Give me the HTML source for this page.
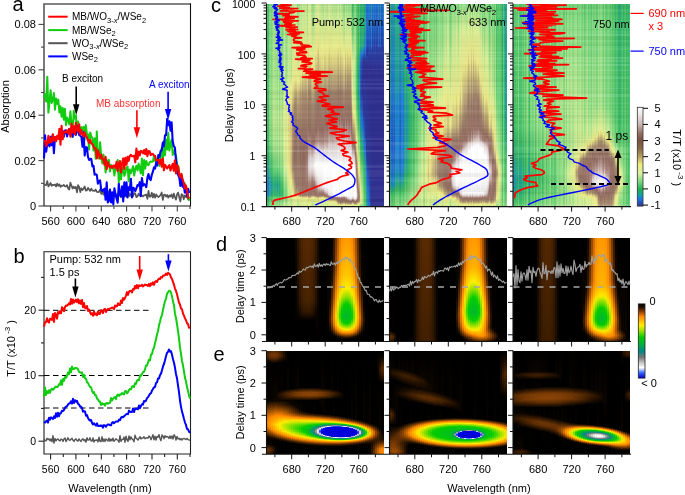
<!DOCTYPE html>
<html><head><meta charset="utf-8"><style>
html,body{margin:0;padding:0;background:#fff;}
#w{position:relative;width:685px;height:495px;overflow:hidden;background:#fff;}
#w i{position:absolute;display:block;}
svg{position:absolute;left:0;top:0;will-change:transform;}
text{font-family:"Liberation Sans",sans-serif;}
</style></head><body><div id="w">
<i style="left:267px;top:4px;width:1px;height:202px;background:linear-gradient(#58c66e 0,#50c36b 129.5px,#33b36a 152.5px,#20999f 170.5px,#207cd6 180.5px,#2083d2 190.5px,#2cac77 193.5px,#3fbb63 196.5px,#56c56d 201.5px)"></i>
<i style="left:268px;top:4px;width:1px;height:202px;background:linear-gradient(#49bf67 0,#47bf67 127.5px,#33b36a 146.5px,#209c9a 164.5px,#207ed7 173.5px,#206ecf 185.5px,#207bd6 191.5px,#23a38a 193.5px,#3bb961 198.5px,#45be66 201.5px)"></i>
<i style="left:269px;top:4px;width:1px;height:202px;background:linear-gradient(#7cd67e 0,#83d981 122.5px,#61ca72 149.5px,#34b468 168.5px,#209b9b 182.5px,#29a97f 191.5px,#44be66 193.5px,#78d47c 201.5px)"></i>
<i style="left:270px;top:4px;width:1px;height:202px;background:linear-gradient(#85d981 0,#96dd86 94.5px,#8ada83 136.5px,#34b467 170.5px,#20a090 182.5px,#2cac77 191.5px,#38b861 192.5px,#68cd75 196.5px,#7fd880 201.5px)"></i>
<i style="left:271px;top:4px;width:1px;height:202px;background:linear-gradient(#78d47c 0,#87da82 88.5px,#8ddb84 119.5px,#70d179 144.5px,#34b468 167.5px,#2097a4 178.5px,#208dbb 181.5px,#209c98 190.5px,#3ebb63 193.5px,#72d27a 201.5px)"></i>
<i style="left:272px;top:4px;width:1px;height:202px;background:linear-gradient(#88da82 0,#98de87 81.5px,#a6e18b 116.5px,#8ada83 142.5px,#43bd65 167.5px,#2dad76 174.5px,#209e95 182.5px,#2dad76 191.5px,#39b961 192.5px,#64cb73 195.5px,#83d981 201.5px)"></i>
<i style="left:273px;top:4px;width:1px;height:202px;background:linear-gradient(#a4e18a 0,#b6e58f 80.5px,#c6e994 116.5px,#ace38d 142.5px,#60ca72 167.5px,#35b567 177.5px,#2eae74 183.5px,#40bb63 191.5px,#78d57d 194.5px,#a3e08a 201.5px)"></i>
<i style="left:274px;top:4px;width:1px;height:202px;background:linear-gradient(#99de87 0,#ace28c 79.5px,#bee792 116.5px,#a6e18b 142.5px,#65cc74 165.5px,#35b565 175.5px,#28a880 182.5px,#38b860 191.5px,#72d27a 194.5px,#9cdf88 201.5px)"></i>
<i style="left:275px;top:4px;width:1px;height:202px;background:linear-gradient(#93dc85 0,#a7e18b 78.5px,#bce691 116.5px,#a3e08a 143.5px,#6ace76 164.5px,#34b468 175.5px,#26a684 182.5px,#37b762 191.5px,#71d179 194.5px,#9ade87 201.5px)"></i>
<i style="left:276px;top:4px;width:1px;height:202px;background:linear-gradient(#94dd86 0,#aae28c 78.5px,#c1e792 116.5px,#aae28c 143.5px,#76d47c 163.5px,#36b664 175.5px,#27a782 182.5px,#3ab961 191.5px,#75d37b 194.5px,#9fdf89 201.5px)"></i>
<i style="left:277px;top:4px;width:1px;height:202px;background:linear-gradient(#77d47c 0,#8ddb84 77.5px,#a6e18b 116.5px,#92dc85 143.5px,#63cb73 163.5px,#36b664 171.5px,#2098a2 179.5px,#2090b4 181.5px,#2cac77 191.5px,#3ab961 192.5px,#66cd75 195.5px,#86d982 201.5px)"></i>
<i style="left:278px;top:4px;width:1px;height:202px;background:linear-gradient(#9cdf88 0,#b6e58f 77.5px,#d0eb97 116.5px,#bce691 144.5px,#93dc85 162.5px,#36b665 178.5px,#31b16e 183.5px,#47bf67 191.5px,#84d981 194.5px,#b0e38e 201.5px)"></i>
<i style="left:279px;top:4px;width:1px;height:202px;background:linear-gradient(#6ccf77 0,#86d982 78.5px,#a1e089 117.5px,#8ddb84 145.5px,#66cc74 163.5px,#34b468 173.5px,#209d97 182.5px,#23a38b 190.5px,#36b664 192.5px,#62cb73 195.5px,#81d880 201.5px)"></i>
<i style="left:280px;top:4px;width:1px;height:202px;background:linear-gradient(#84d981 0,#a1e089 76.5px,#c1e792 116.5px,#aee38d 145.5px,#86da82 163.5px,#35b567 180.5px,#32b26d 190.5px,#38b860 191.5px,#77d47c 194.5px,#a1e089 201.5px)"></i>
<i style="left:281px;top:4px;width:1px;height:202px;background:linear-gradient(#84d981 0,#a2e08a 76.5px,#c4e893 116.5px,#b2e48e 146.5px,#8fdc84 163.5px,#39b860 184.5px,#3ab961 191.5px,#7ad57d 194.5px,#a5e18a 201.5px)"></i>
<i style="left:282px;top:4px;width:1px;height:202px;background:linear-gradient(#6ed078 0,#8bdb83 76.5px,#afe38d 116.5px,#9edf89 147.5px,#77d47c 165.5px,#35b566 183.5px,#2dad76 190.5px,#44bd65 192.5px,#6fd179 195.5px,#90dc85 201.5px)"></i>
<i style="left:283px;top:4px;width:1px;height:202px;background:linear-gradient(#8ddb84 0,#afe38e 76.5px,#d6ec97 113.5px,#c6e994 151.5px,#a5e18b 165.5px,#59c76f 186.5px,#59c76f 191.5px,#9bde88 196.5px,#b6e590 201.5px)"></i>
<i style="left:284px;top:4px;width:1px;height:202px;background:linear-gradient(#b1e48e 0,#d5ec97 76.5px,#ebee8b 132.5px,#d3ec98 167.5px,#87da82 187.5px,#87da82 191.5px,#cdea96 197.5px,#d9ec95 201.5px)"></i>
<i style="left:285px;top:4px;width:1px;height:202px;background:linear-gradient(#8cdb83 0,#aee38d 73.5px,#d9ec95 96.5px,#d4ec98 162.5px,#78d57d 185.5px,#73d27a 191.5px,#b7e590 200.5px,#bbe691 201.5px)"></i>
<i style="left:286px;top:4px;width:1px;height:202px;background:linear-gradient(#7ed77f 0,#9edf88 72.5px,#d6ec97 94.5px,#d5ec97 162.5px,#79d57d 186.5px,#7ad57d 192.5px,#abe28c 201.5px)"></i>
<i style="left:287px;top:4px;width:1px;height:202px;background:linear-gradient(#98de87 0,#b6e58f 71.5px,#e0ed91 87.5px,#edee8a 142.5px,#d9ec95 170.5px,#9edf89 192.5px,#c3e893 201.5px)"></i>
<i style="left:288px;top:4px;width:1px;height:202px;background:linear-gradient(#aee38d 0,#ceeb96 70.5px,#ede987 94.5px,#e1d885 123.5px,#ece887 164.5px,#c4e893 195.5px,#d5ec97 201.5px)"></i>
<i style="left:289px;top:4px;width:1px;height:202px;background:linear-gradient(#a4e18a 0,#c8e994 70.5px,#efec88 92.5px,#e0d784 119.5px,#e8e386 164.5px,#e0ed91 178.5px,#bde791 195.5px,#cbea96 201.5px)"></i>
<i style="left:290px;top:4px;width:1px;height:202px;background:linear-gradient(#a4e08a 0,#cbea95 70.5px,#ede987 89.5px,#d6c982 115.5px,#d7ca82 163.5px,#ebee8b 177.5px,#caea95 192.5px,#c1e893 196.5px,#c9e995 201.5px)"></i>
<i style="left:291px;top:4px;width:1px;height:202px;background:linear-gradient(#8bdb83 0,#b4e48f 69.5px,#e7ed8d 85.5px,#e5de85 98.5px,#d1c281 126.5px,#cdbc80 163.5px,#ebee8b 177.5px,#c8e995 191.5px,#a8e28b 194.5px,#aee38d 201.5px)"></i>
<i style="left:292px;top:4px;width:1px;height:202px;background:linear-gradient(#b4e48f 0,#e5ed8e 75.5px,#e6df86 83.5px,#b29b74 111.5px,#a58c6f 164.5px,#efee89 189.5px,#d5ec98 197.5px,#d5ec98 201.5px)"></i>
<i style="left:293px;top:4px;width:1px;height:202px;background:linear-gradient(#b8e590 0,#e7ed8d 74.5px,#e6df86 81.5px,#a68d6f 109.5px,#987a68 164.5px,#ece987 191.5px,#d6ec97 197.5px,#d5ec97 201.5px)"></i>
<i style="left:294px;top:4px;width:1px;height:202px;background:linear-gradient(#ccea96 0,#ebe687 75.5px,#a48b6e 99.5px,#936c60 151.5px,#9c806a 174.5px,#cbba7f 190.5px,#e9ee8c 193.5px,#dded93 201.5px)"></i>
<i style="left:295px;top:4px;width:1px;height:202px;background:linear-gradient(#d1eb97 0,#ebe787 73.5px,#a58c6f 95.5px,#936e61 126.5px,#967666 176.5px,#b9a477 190.5px,#efee88 193.5px,#dfed92 201.5px)"></i>
<i style="left:296px;top:4px;width:1px;height:202px;background:linear-gradient(#c1e893 0,#ebe787 74.5px,#ac9472 93.5px,#947062 128.5px,#967666 182.5px,#b19b74 190.5px,#edee8a 193.5px,#d9ec95 201.5px)"></i>
<i style="left:297px;top:4px;width:1px;height:202px;background:linear-gradient(#92dc85 0,#c1e792 51.5px,#ebee8b 76.5px,#baa578 96.5px,#9b7e6a 124.5px,#9a7c69 182.5px,#bba678 190.5px,#e9e586 192.5px,#c4e893 196.5px,#b1e48e 201.5px)"></i>
<i style="left:298px;top:4px;width:1px;height:202px;background:linear-gradient(#97dd87 0,#c9e995 51.5px,#ece887 77.5px,#c1ad7b 90.5px,#9d816b 118.5px,#967666 181.5px,#a99170 190.5px,#bca879 191.5px,#ddd484 192.5px,#e5ed8e 193.5px,#b7e590 201.5px)"></i>
<i style="left:299px;top:4px;width:1px;height:202px;background:linear-gradient(#9edf89 0,#d3ec98 52.5px,#e9e486 76.5px,#baa578 91.5px,#967667 127.5px,#997b68 186.5px,#9f846c 190.5px,#aa9371 191.5px,#edee8a 193.5px,#c7e994 199.5px,#bfe792 201.5px)"></i>
<i style="left:300px;top:4px;width:1px;height:202px;background:linear-gradient(#bae691 0,#e0ed91 50.5px,#e9e586 71.5px,#a99170 91.5px,#936b5f 141.5px,#957566 190.5px,#9e826b 191.5px,#e2db85 193.5px,#e6ed8e 195.5px,#d7ec96 201.5px)"></i>
<i style="left:301px;top:4px;width:1px;height:202px;background:linear-gradient(#a5e18a 0,#d8ec96 49.5px,#eae687 73.5px,#b29c74 92.5px,#947062 137.5px,#997b68 190.5px,#a3896e 191.5px,#edea87 193.5px,#c6e994 201.5px)"></i>
<i style="left:302px;top:4px;width:1px;height:202px;background:linear-gradient(#cfeb97 0,#e9e586 62.5px,#a3896d 90.5px,#956d63 135.5px,#946b61 182.5px,#977968 191.5px,#ece987 194.5px,#e0ed91 201.5px)"></i>
<i style="left:303px;top:4px;width:1px;height:202px;background:linear-gradient(#bae691 0,#e3ed8f 53.5px,#e8e386 67.5px,#a68d6f 92.5px,#92695e 145.5px,#957465 190.5px,#9d806a 191.5px,#e2d985 193.5px,#eaee8b 194.5px,#d7ec96 201.5px)"></i>
<i style="left:304px;top:4px;width:1px;height:202px;background:linear-gradient(#bde691 0,#ece987 63.5px,#a58c6e 92.5px,#946b60 143.5px,#957364 190.5px,#9c7f6a 191.5px,#e0d784 193.5px,#ecee8b 194.5px,#d8ec96 201.5px)"></i>
<i style="left:305px;top:4px;width:1px;height:202px;background:linear-gradient(#c5e894 0,#eae687 61.5px,#a3896e 91.5px,#956d63 137.5px,#9d776d 169.5px,#947163 190.5px,#997b68 191.5px,#efee89 194.5px,#dbed94 201.5px)"></i>
<i style="left:306px;top:4px;width:1px;height:202px;background:linear-gradient(#bde691 0,#ece987 61.5px,#a48a6e 92.5px,#956d62 138.5px,#a8847c 164.5px,#936e61 186.5px,#9b7d69 191.5px,#dfd684 193.5px,#ecee8a 194.5px,#d8ec96 201.5px)"></i>
<i style="left:307px;top:4px;width:1px;height:202px;background:linear-gradient(#9ade87 0,#d9ec95 51.5px,#ebe787 68.5px,#a68d6f 99.5px,#987066 146.5px,#a9867d 163.5px,#936d61 180.5px,#997b68 190.5px,#a48a6e 191.5px,#efee88 193.5px,#d6ec97 196.5px,#bae691 201.5px)"></i>
<i style="left:308px;top:4px;width:1px;height:202px;background:linear-gradient(#dced93 0,#e9e386 40.5px,#d7ca82 59.5px,#9d816a 86.5px,#977065 122.5px,#b08f87 142.5px,#e0d5d5 158.5px,#d6c5c4 167.5px,#a68279 180.5px,#947163 191.5px,#a3896d 192.5px,#ded584 194.5px,#ecee8a 200.5px,#eaee8c 201.5px)"></i>
<i style="left:309px;top:4px;width:1px;height:202px;background:linear-gradient(#d4ec98 0,#ebe687 53.5px,#a1866c 87.5px,#966e64 128.5px,#b08f87 143.5px,#e0d5d5 156.5px,#dfd3d3 165.5px,#a47f76 179.5px,#936c60 190.5px,#a89070 192.5px,#e8e386 194.5px,#e1ed90 201.5px)"></i>
<i style="left:310px;top:4px;width:1px;height:202px;background:linear-gradient(#d5ec98 0,#eae687 50.5px,#cfbf80 64.5px,#9e826b 89.5px,#976f64 127.5px,#ae8c84 141.5px,#e0d4d4 152.5px,#ece6e6 162.5px,#d2c0be 171.5px,#a68279 179.5px,#936b60 190.5px,#a78f70 192.5px,#e7e286 194.5px,#e2ed90 201.5px)"></i>
<i style="left:311px;top:4px;width:1px;height:202px;background:linear-gradient(#a8e28b 0,#e2ed90 49.5px,#e9e386 63.5px,#a48a6e 95.5px,#987066 138.5px,#bca09b 147.5px,#dfd3d3 154.5px,#e9e1e1 162.5px,#d0bdbb 169.5px,#a58178 176.5px,#936b5f 183.5px,#957465 190.5px,#9e826b 191.5px,#e8e386 193.5px,#c8e994 201.5px)"></i>
<i style="left:312px;top:4px;width:1px;height:202px;background:linear-gradient(#92dc85 0,#dbed94 52.5px,#ebe787 66.5px,#a58b6e 100.5px,#966e63 139.5px,#bea39e 148.5px,#e1d6d6 155.5px,#eae2e2 162.5px,#d4c4c3 168.5px,#a68178 175.5px,#936c60 181.5px,#987a68 190.5px,#a38a6e 191.5px,#edee89 193.5px,#c3e893 198.5px,#b2e48e 201.5px)"></i>
<i style="left:313px;top:4px;width:1px;height:202px;background:linear-gradient(#99de87 0,#deed92 50.5px,#e9e486 65.5px,#a48b6e 98.5px,#966e64 138.5px,#bca09b 146.5px,#dfd4d4 152.5px,#f1ebeb 162.5px,#d2c1bf 170.5px,#a27c73 177.5px,#936d61 183.5px,#967767 190.5px,#a1866d 191.5px,#efed88 193.5px,#c4e893 199.5px,#b9e590 201.5px)"></i>
<i style="left:314px;top:4px;width:1px;height:202px;background:linear-gradient(#a3e08a 0,#e2ed90 48.5px,#e8e386 63.5px,#a48a6e 95.5px,#976f64 137.5px,#ba9d97 144.5px,#e0d4d4 150.5px,#fbfafa 161.5px,#d7c8c7 171.5px,#a7837a 177.5px,#926a5f 183.5px,#957465 190.5px,#9e826b 191.5px,#eae587 193.5px,#c2e893 201.5px)"></i>
<i style="left:315px;top:4px;width:1px;height:202px;background:linear-gradient(#caea95 0,#ebe687 50.5px,#9e836b 89.5px,#976f64 127.5px,#a9867d 138.5px,#e0d4d4 146.5px,#ffffff 160.5px,#eee8e8 169.5px,#d6c7c6 175.5px,#a7837a 181.5px,#936c60 190.5px,#aa9271 192.5px,#d5c882 193.5px,#ece987 194.5px,#dded93 201.5px)"></i>
<i style="left:316px;top:4px;width:1px;height:202px;background:linear-gradient(#caea95 0,#eae687 49.5px,#9d806a 90.5px,#987065 126.5px,#ac8880 138.5px,#dfd3d3 145.5px,#ffffff 159.5px,#f3eeee 169.5px,#d7c7c6 177.5px,#a78279 184.5px,#926b5f 190.5px,#a99170 192.5px,#d5c782 193.5px,#ece887 194.5px,#dded93 201.5px)"></i>
<i style="left:317px;top:4px;width:1px;height:202px;background:linear-gradient(#d5ec98 0,#e9e486 43.5px,#c3b07c 66.5px,#967767 94.5px,#997167 122.5px,#ac8981 137.5px,#dfd3d3 144.5px,#ffffff 158.5px,#f6f2f2 170.5px,#d8c9c8 180.5px,#a8847b 186.5px,#947264 191.5px,#a58c6e 192.5px,#e6df86 194.5px,#e7ed8d 199.5px,#e2ed90 201.5px)"></i>
<i style="left:318px;top:4px;width:1px;height:202px;background:linear-gradient(#dbec94 0,#e9e486 36.5px,#baa578 66.5px,#947163 97.5px,#9b746a 118.5px,#ae8c84 136.5px,#dfd4d4 143.5px,#ffffff 157.5px,#f5f1f1 173.5px,#d6c6c5 183.5px,#a68179 188.5px,#946e61 191.5px,#a1866c 192.5px,#ded584 194.5px,#eaee8b 200.5px,#e7ed8d 201.5px)"></i>
<i style="left:319px;top:4px;width:1px;height:202px;background:linear-gradient(#c4e893 0,#ebe787 48.5px,#9d816a 90.5px,#977065 124.5px,#aa867d 137.5px,#dfd3d3 145.5px,#ffffff 159.5px,#f3efef 173.5px,#ddd1d1 182.5px,#a68279 187.5px,#926a5f 190.5px,#aa9371 192.5px,#d7ca82 193.5px,#efec88 194.5px,#daec95 201.5px)"></i>
<i style="left:320px;top:4px;width:1px;height:202px;background:linear-gradient(#c0e792 0,#ebe687 49.5px,#9d816b 90.5px,#987065 124.5px,#aa867e 137.5px,#dfd3d3 145.5px,#ffffff 159.5px,#f1ebeb 177.5px,#ded1d1 183.5px,#a17c72 188.5px,#926a5f 190.5px,#ac9472 192.5px,#d8cc83 193.5px,#f0ee88 194.5px,#d8ec96 201.5px)"></i>
<i style="left:321px;top:4px;width:1px;height:202px;background:linear-gradient(#b2e48e 0,#e5ed8e 40.5px,#e7e286 56.5px,#a1866c 90.5px,#977065 127.5px,#ab8880 138.5px,#e0d4d4 146.5px,#ffffff 160.5px,#ece5e5 181.5px,#d6c6c5 184.5px,#a9857d 187.5px,#936c60 190.5px,#977867 191.5px,#b39d75 192.5px,#dfd684 193.5px,#eaee8b 194.5px,#d0eb97 201.5px)"></i>
<i style="left:322px;top:4px;width:1px;height:202px;background:linear-gradient(#b3e48f 0,#e7ed8d 41.5px,#e5df86 56.5px,#9f846c 91.5px,#987066 126.5px,#ad8b83 138.5px,#ded1d1 145.5px,#ffffff 160.5px,#f1ecec 181.5px,#ded1d1 184.5px,#a37d74 188.5px,#936b5f 190.5px,#967767 191.5px,#b29c74 192.5px,#dfd584 193.5px,#eaee8b 194.5px,#d1eb97 201.5px)"></i>
<i style="left:323px;top:4px;width:1px;height:202px;background:linear-gradient(#a3e08a 0,#e2ed90 43.5px,#e8e386 58.5px,#a3896d 92.5px,#977065 129.5px,#ae8c84 139.5px,#ded1d1 146.5px,#ffffff 162.5px,#f3efef 181.5px,#ded2d2 184.5px,#a07a70 188.5px,#936e61 190.5px,#9a7d69 191.5px,#e7e186 193.5px,#d8ec96 197.5px,#c0e792 201.5px)"></i>
<i style="left:324px;top:4px;width:1px;height:202px;background:linear-gradient(#c5e894 0,#eae687 46.5px,#9b7e69 90.5px,#987166 120.5px,#ae8c84 136.5px,#e0d5d5 144.5px,#ffffff 159.5px,#f8f6f6 182.5px,#dbcece 186.5px,#a68279 189.5px,#947062 191.5px,#a58c6f 192.5px,#d3c581 193.5px,#edea87 194.5px,#daec95 201.5px)"></i>
<i style="left:325px;top:4px;width:1px;height:202px;background:linear-gradient(#c1e793 0,#eae587 47.5px,#9c7f6a 90.5px,#987066 120.5px,#af8d86 136.5px,#e0d5d5 144.5px,#ffffff 159.5px,#fefdfd 182.5px,#d8cac9 187.5px,#926a5f 191.5px,#9f836b 192.5px,#e7e186 194.5px,#d8ec96 201.5px)"></i>
<i style="left:326px;top:4px;width:1px;height:202px;background:linear-gradient(#b3e48e 0,#e6ed8e 41.5px,#e7e186 53.5px,#9e836b 91.5px,#976f65 122.5px,#b19089 137.5px,#e0d5d5 145.5px,#ffffff 160.5px,#f8f5f5 183.5px,#ded1d1 187.5px,#987066 191.5px,#997b69 192.5px,#ded484 194.5px,#ebee8b 196.5px,#d0eb97 201.5px)"></i>
<i style="left:327px;top:4px;width:1px;height:202px;background:linear-gradient(#abe28c 0,#e3ed8f 41.5px,#e9e486 54.5px,#a0856c 91.5px,#976f65 123.5px,#af8e86 137.5px,#dfd4d4 145.5px,#ffffff 161.5px,#f8f5f5 183.5px,#d9cbcb 188.5px,#a17b72 191.5px,#957465 192.5px,#d2c381 194.5px,#eeee89 196.5px,#c7e994 201.5px)"></i>
<i style="left:328px;top:4px;width:1px;height:202px;background:linear-gradient(#c4e894 0,#eae587 46.5px,#9a7d69 89.5px,#977065 117.5px,#ba9d98 136.5px,#e1d5d5 143.5px,#ffffff 159.5px,#faf8f8 184.5px,#dccfcf 190.5px,#966d63 192.5px,#b39d75 194.5px,#edee8a 197.5px,#d9ec95 201.5px)"></i>
<i style="left:329px;top:4px;width:1px;height:202px;background:linear-gradient(#d5ec98 0,#eae687 41.5px,#967767 88.5px,#997268 114.5px,#bda19c 133.5px,#e5dbdb 143.5px,#ffffff 158.5px,#f8f5f5 186.5px,#e7dede 190.5px,#d8cac9 191.5px,#a7827a 192.5px,#947062 193.5px,#cebe80 196.5px,#e8e386 197.5px,#e1ed91 201.5px)"></i>
<i style="left:330px;top:4px;width:1px;height:202px;background:linear-gradient(#bde691 0,#eae587 48.5px,#9c7f6a 89.5px,#987166 118.5px,#b79993 135.5px,#e1d5d5 143.5px,#ffffff 160.5px,#f7f4f4 186.5px,#ddd0d0 191.5px,#ab877f 192.5px,#936d61 193.5px,#b49f75 195.5px,#eeee89 197.5px,#d6ec97 201.5px)"></i>
<i style="left:331px;top:4px;width:1px;height:202px;background:linear-gradient(#c0e792 0,#e9e486 47.5px,#9b7e69 88.5px,#997167 117.5px,#bca09b 135.5px,#e0d4d4 142.5px,#ffffff 159.5px,#f9f7f7 187.5px,#e6dcdc 191.5px,#987166 193.5px,#a78e6f 195.5px,#eeeb88 197.5px,#d8ec96 201.5px)"></i>
<i style="left:332px;top:4px;width:1px;height:202px;background:linear-gradient(#aee38d 0,#e4ed8f 40.5px,#e8e286 52.5px,#9e826b 89.5px,#976f65 119.5px,#ba9c97 136.5px,#dfd3d3 143.5px,#ffffff 161.5px,#f7f4f4 189.5px,#e9e1e1 191.5px,#9a7369 193.5px,#967666 194.5px,#a89070 195.5px,#ecee8a 197.5px,#cdea96 201.5px)"></i>
<i style="left:333px;top:4px;width:1px;height:202px;background:linear-gradient(#b3e48e 0,#e6ed8d 40.5px,#e6e086 51.5px,#9c806a 89.5px,#987166 118.5px,#bb9e99 135.5px,#e1d6d6 143.5px,#ffffff 160.5px,#fdfdfd 190.5px,#f1ecec 191.5px,#d5c4c3 192.5px,#9f7970 193.5px,#957465 194.5px,#a68d6f 195.5px,#efee89 197.5px,#d3ec98 201.5px)"></i>
<i style="left:334px;top:4px;width:1px;height:202px;background:linear-gradient(#b0e38e 0,#e5ed8e 39.5px,#e7e186 51.5px,#9c806a 89.5px,#997167 118.5px,#bda19c 135.5px,#e1d6d6 143.5px,#ffffff 160.5px,#ffffff 190.5px,#f7f4f4 191.5px,#ddd1d1 192.5px,#a27c73 193.5px,#957465 194.5px,#a58c6f 195.5px,#efee89 197.5px,#d2eb97 201.5px)"></i>
<i style="left:335px;top:4px;width:1px;height:202px;background:linear-gradient(#b0e38e 0,#e5ed8e 39.5px,#e6e086 51.5px,#9c806a 88.5px,#987066 117.5px,#bca19b 134.5px,#e0d5d5 142.5px,#ffffff 160.5px,#fbf9f9 191.5px,#e0d4d4 192.5px,#a47f76 193.5px,#957264 194.5px,#c1ad7b 196.5px,#e5de85 197.5px,#e1ed90 199.5px,#d5ec98 201.5px)"></i>
<i style="left:336px;top:4px;width:1px;height:202px;background:linear-gradient(#a8e28b 0,#e3ed8f 40.5px,#e7e186 52.5px,#9e826b 88.5px,#987166 118.5px,#bea49e 135.5px,#e2d7d7 143.5px,#ffffff 161.5px,#faf8f8 191.5px,#dfd3d3 192.5px,#a37e75 193.5px,#947163 194.5px,#b19a74 196.5px,#e5df86 198.5px,#e1ed91 200.5px,#d5ec97 201.5px)"></i>
<i style="left:337px;top:4px;width:1px;height:202px;background:linear-gradient(#bbe691 0,#edee8a 41.5px,#987a68 88.5px,#987066 114.5px,#bca09a 130.5px,#e4dada 142.5px,#ffffff 159.5px,#fefdfd 191.5px,#e3d9d9 192.5px,#aa877f 193.5px,#936b5f 194.5px,#aa9371 197.5px,#eeeb88 200.5px,#e0ed91 201.5px)"></i>
<i style="left:338px;top:4px;width:1px;height:202px;background:linear-gradient(#ccea96 0,#eae587 41.5px,#967666 85.5px,#997167 111.5px,#bea39e 127.5px,#e9e1e1 142.5px,#ffffff 158.5px,#ffffff 191.5px,#e8dfdf 192.5px,#b5958e 193.5px,#987166 194.5px,#977968 197.5px,#bca879 199.5px,#eaee8b 201.5px)"></i>
<i style="left:339px;top:4px;width:1px;height:202px;background:linear-gradient(#9edf89 0,#e0ed91 40.5px,#eae587 52.5px,#9e826b 88.5px,#987066 118.5px,#bea49f 134.5px,#e0d5d5 142.5px,#ffffff 162.5px,#f9f6f6 191.5px,#dfd2d2 192.5px,#a47f76 193.5px,#936c60 194.5px,#a3886d 198.5px,#e7e186 200.5px,#daec94 201.5px)"></i>
<i style="left:340px;top:4px;width:1px;height:202px;background:linear-gradient(#ccea96 0,#ebe787 40.5px,#967667 84.5px,#987166 110.5px,#bca19b 125.5px,#e5dbdb 139.5px,#ffffff 157.5px,#ffffff 191.5px,#e9e1e1 192.5px,#b99c96 193.5px,#9e786e 194.5px,#92695e 197.5px,#a48a6e 199.5px,#f0ee88 201.5px)"></i>
<i style="left:341px;top:4px;width:1px;height:202px;background:linear-gradient(#a7e18b 0,#e3ed90 38.5px,#e8e286 50.5px,#9c7f6a 87.5px,#997267 116.5px,#bb9f9a 130.5px,#e2d7d7 141.5px,#ffffff 160.5px,#fbfafa 191.5px,#e2d7d7 192.5px,#a9867d 193.5px,#946b60 194.5px,#997c69 198.5px,#dcd283 200.5px,#e0ed91 201.5px)"></i>
<i style="left:342px;top:4px;width:1px;height:202px;background:linear-gradient(#a6e18b 0,#e3ed90 38.5px,#e9e586 49.5px,#9c7f6a 87.5px,#987066 115.5px,#bea39e 130.5px,#e5dbdb 142.5px,#ffffff 161.5px,#fbfafa 191.5px,#e2d8d8 192.5px,#ab877f 193.5px,#956d62 194.5px,#997b69 198.5px,#dcd183 200.5px,#e1ed91 201.5px)"></i>
<i style="left:343px;top:4px;width:1px;height:202px;background:linear-gradient(#81d880 0,#b8e590 29.5px,#eaee8b 51.5px,#d0c081 69.5px,#a3886d 91.5px,#977065 120.5px,#bea39e 135.5px,#e0d4d4 143.5px,#ffffff 165.5px,#ffffff 190.5px,#f4f0f0 191.5px,#dacbcb 192.5px,#a07a71 193.5px,#947163 195.5px,#a3896d 198.5px,#efec88 200.5px,#ceeb96 201.5px)"></i>
<i style="left:344px;top:4px;width:1px;height:202px;background:linear-gradient(#7bd67e 0,#afe38d 28.5px,#e4ed8f 49.5px,#e8e286 59.5px,#a58b6e 90.5px,#966e64 120.5px,#bea29d 135.5px,#e1d6d6 144.5px,#ffffff 165.5px,#ffffff 190.5px,#f3efef 191.5px,#d8c9c8 192.5px,#9f7970 193.5px,#947264 195.5px,#a48b6e 198.5px,#efee89 200.5px,#c9e995 201.5px)"></i>
<i style="left:345px;top:4px;width:1px;height:202px;background:linear-gradient(#b5e58f 0,#e7ed8d 34.5px,#e7e186 45.5px,#9a7c69 83.5px,#977065 111.5px,#bea39e 126.5px,#e2d8d8 138.5px,#ffffff 158.5px,#ffffff 191.5px,#eae2e2 192.5px,#a58077 194.5px,#926b5f 197.5px,#a78f70 199.5px,#eaee8b 201.5px)"></i>
<i style="left:346px;top:4px;width:1px;height:202px;background:linear-gradient(#88da82 0,#dfed92 40.5px,#eae587 53.5px,#9f846c 87.5px,#987166 118.5px,#bfa49f 134.5px,#e0d4d4 142.5px,#ffffff 162.5px,#fbf9f9 191.5px,#e7dede 192.5px,#a58178 194.5px,#926a5f 196.5px,#9d816b 198.5px,#e3dc85 200.5px,#dbec94 201.5px)"></i>
<i style="left:347px;top:4px;width:1px;height:202px;background:linear-gradient(#a6e18b 0,#e3ed90 31.5px,#e7e286 45.5px,#9d816a 80.5px,#987066 112.5px,#bda29d 129.5px,#e8dfdf 143.5px,#ffffff 159.5px,#ffffff 191.5px,#e3d8d8 193.5px,#b2918a 195.5px,#946b60 197.5px,#a78f70 199.5px,#ebee8b 201.5px)"></i>
<i style="left:348px;top:4px;width:1px;height:202px;background:linear-gradient(#8fdc84 0,#dfed91 34.5px,#e9e486 49.5px,#9e836b 82.5px,#976f65 115.5px,#bda19c 134.5px,#e0d5d5 142.5px,#ffffff 160.5px,#ffffff 191.5px,#d8c8c8 194.5px,#a27d73 196.5px,#926a5f 197.5px,#ae9873 199.5px,#d7cb82 200.5px,#e4ed8f 201.5px)"></i>
<i style="left:349px;top:4px;width:1px;height:202px;background:linear-gradient(#8ada83 0,#cfeb97 27.5px,#eae587 49.5px,#a1866c 79.5px,#976f65 115.5px,#ba9e98 135.5px,#e2d7d7 143.5px,#ffffff 159.5px,#faf9f9 192.5px,#e3d9d9 194.5px,#a9857c 196.5px,#936b60 197.5px,#ac9572 199.5px,#d5c882 200.5px,#e6ed8e 201.5px)"></i>
<i style="left:350px;top:4px;width:1px;height:202px;background:linear-gradient(#98de87 0,#e2ed90 34.5px,#e8e286 47.5px,#a2886d 80.5px,#976f65 111.5px,#bca19b 134.5px,#e2d7d7 142.5px,#ffffff 157.5px,#f8f5f5 193.5px,#ddd0d0 195.5px,#b69791 196.5px,#9b746a 197.5px,#957264 198.5px,#a48b6e 199.5px,#efee89 201.5px)"></i>
<i style="left:351px;top:4px;width:1px;height:202px;background:linear-gradient(#76d47c 0,#a8e18b 25.5px,#dfed91 43.5px,#e8e386 57.5px,#bca879 90.5px,#947163 115.5px,#9b746a 129.5px,#b19089 138.5px,#dfd3d3 145.5px,#ffffff 160.5px,#fbfafa 192.5px,#e6dcdc 194.5px,#cebbb8 195.5px,#a9857d 196.5px,#92695e 197.5px,#b09973 199.5px,#d9cd83 200.5px,#e3ed8f 201.5px)"></i>
<i style="left:352px;top:4px;width:1px;height:202px;background:linear-gradient(#39b961 0,#64cc74 26.5px,#d6ec97 57.5px,#dfed92 91.5px,#eae587 102.5px,#9b7e6a 130.5px,#976f64 140.5px,#c1a7a2 147.5px,#e1d6d6 152.5px,#fcfbfb 164.5px,#f7f4f4 191.5px,#d2c1bf 194.5px,#ab8880 195.5px,#946c61 196.5px,#aa9271 198.5px,#d3c481 199.5px,#e8ed8d 200.5px,#b8e590 201.5px)"></i>
<i style="left:353px;top:4px;width:1px;height:202px;background:linear-gradient(#4dc26a 0,#7ad57d 28.5px,#d5ec98 57.5px,#bce691 80.5px,#eaee8c 108.5px,#e0d684 114.5px,#9c7f6a 133.5px,#946c61 140.5px,#ba9e98 146.5px,#e1d6d6 151.5px,#ffffff 162.5px,#fefdfd 191.5px,#dfd3d3 194.5px,#9e786e 196.5px,#947062 197.5px,#a1866c 198.5px,#eae687 200.5px,#d5ec97 201.5px)"></i>
<i style="left:354px;top:4px;width:1px;height:202px;background:linear-gradient(#76d47c 0,#a4e18a 30.5px,#d2ec97 58.5px,#bbe691 80.5px,#eaee8b 109.5px,#d5c782 119.5px,#92695e 142.5px,#b69891 148.5px,#dfd4d4 153.5px,#fefefe 165.5px,#ffffff 192.5px,#dacccc 195.5px,#b2918a 196.5px,#997267 197.5px,#957465 198.5px,#a68d6f 199.5px,#ecee8a 201.5px)"></i>
<i style="left:355px;top:4px;width:1px;height:202px;background:linear-gradient(#82d981 0,#b6e58f 47.5px,#97de87 82.5px,#e3ed90 113.5px,#e8e286 122.5px,#b09a74 138.5px,#936b5f 149.5px,#b99b95 158.5px,#dfd4d4 165.5px,#ffffff 183.5px,#fbf9f9 193.5px,#e0d4d4 195.5px,#a07a70 197.5px,#946f62 198.5px,#a1866c 199.5px,#eae687 201.5px)"></i>
<i style="left:356px;top:4px;width:1px;height:202px;background:linear-gradient(#58c66e 0,#6ed078 46.5px,#53c46c 85.5px,#82d981 110.5px,#dded93 132.5px,#e9e486 140.5px,#9f836b 156.5px,#966e63 167.5px,#b99c96 176.5px,#e4d9d9 184.5px,#f4f0f0 191.5px,#dcd0d0 194.5px,#a37e75 196.5px,#926a5f 197.5px,#b09a73 199.5px,#d9cd83 200.5px,#e3ed8f 201.5px)"></i>
<i style="left:357px;top:4px;width:1px;height:202px;background:linear-gradient(#49c068 0,#50c36b 45.5px,#33b36a 67.5px,#37b761 93.5px,#65cc74 114.5px,#c8e995 138.5px,#edea87 149.5px,#9c806a 171.5px,#987166 183.5px,#bea39e 191.5px,#936c60 196.5px,#a2886d 198.5px,#e7e286 200.5px,#daec95 201.5px)"></i>
<i style="left:358px;top:4px;width:1px;height:202px;background:linear-gradient(#38b860 0,#3bb961 43.5px,#2099a0 67.5px,#20999f 88.5px,#3fbb63 117.5px,#88da82 140.5px,#dced93 157.5px,#ece887 165.5px,#9c7f6a 186.5px,#957264 194.5px,#a89070 197.5px,#e0d784 199.5px,#e4ed8f 200.5px,#c0e792 201.5px)"></i>
<i style="left:359px;top:4px;width:1px;height:202px;background:linear-gradient(#55c56d 0,#54c46c 42.5px,#36b665 49.5px,#23a38a 60.5px,#209a9c 84.5px,#40bc64 117.5px,#86d982 141.5px,#dced93 160.5px,#e9e586 171.5px,#9f836b 193.5px,#b6a176 197.5px,#e2da85 199.5px,#e7ed8d 200.5px,#d3ec98 201.5px)"></i>
<i style="left:360px;top:4px;width:1px;height:202px;background:linear-gradient(#2faf72 0,#2aaa7b 42.5px,#2094aa 47.5px,#2081d6 50.5px,#2061c8 60.5px,#2454ba 86.5px,#2081d5 113.5px,#25a587 128.5px,#3fbb63 142.5px,#dced94 183.5px,#e9e486 193.5px,#e5ed8e 198.5px,#b4e48f 200.5px,#90dc84 201.5px)"></i>
<i style="left:361px;top:4px;width:1px;height:202px;background:linear-gradient(#31b16d 0,#2dad76 41.5px,#209a9d 45.5px,#207cd6 49.5px,#274aae 58.5px,#2d3a9b 85.5px,#207fd7 120.5px,#26a683 137.5px,#3ebb63 150.5px,#c7e994 187.5px,#daec95 197.5px,#bbe691 199.5px,#87da82 201.5px)"></i>
<i style="left:362px;top:4px;width:1px;height:202px;background:linear-gradient(#39b860 0,#33b36a 40.5px,#209e94 45.5px,#207cd6 49.5px,#2356bc 54.5px,#2b40a3 58.5px,#303090 85.5px,#2076d3 118.5px,#2084cf 124.5px,#29a97f 140.5px,#3fbb63 152.5px,#abe28c 187.5px,#c6e994 197.5px,#8fdc84 201.5px)"></i>
<i style="left:363px;top:4px;width:1px;height:202px;background:linear-gradient(#2eae74 0,#2faf72 27.5px,#23a38a 41.5px,#207ed7 46.5px,#2454ba 52.5px,#303090 56.5px,#2d3899 108.5px,#2069cd 124.5px,#2084d0 136.5px,#25a586 148.5px,#3dba62 162.5px,#8ddb84 197.5px,#7cd67e 201.5px)"></i>
<i style="left:364px;top:4px;width:1px;height:202px;background:linear-gradient(#21a18f 0,#22a28b 25.5px,#2085cc 41.5px,#2075d3 44.5px,#274cb0 51.5px,#303090 58.5px,#2d399a 110.5px,#2080d8 147.5px,#25a587 160.5px,#3fbb63 179.5px,#5fc971 200.5px,#5fc971 201.5px)"></i>
<i style="left:365px;top:4px;width:1px;height:202px;background:linear-gradient(#23a389 0,#25a586 25.5px,#208bbf 41.5px,#207dd7 44.5px,#215dc4 52.5px,#2b3fa1 53.5px,#303090 60.5px,#2c3c9e 124.5px,#2a43a6 135.5px,#215ec5 136.5px,#2083d2 150.5px,#24a488 162.5px,#3fbb63 182.5px,#59c76f 201.5px)"></i>
<i style="left:366px;top:4px;width:1px;height:202px;background:linear-gradient(#2072d1 0,#2067cb 32.5px,#264eb3 43.5px,#303090 51.5px,#2a41a3 52.5px,#303090 60.5px,#2d3899 138.5px,#2a41a4 141.5px,#303090 143.5px,#206bcd 166.5px,#2082d3 178.5px,#24a489 193.5px,#24a488 201.5px)"></i>
<i style="left:367px;top:4px;width:1px;height:202px;background:linear-gradient(#2071d0 0,#2357bd 34.5px,#303090 50.5px,#2b40a3 51.5px,#303090 61.5px,#2d389a 141.5px,#2a43a6 148.5px,#303090 149.5px,#264eb3 167.5px,#207bd6 187.5px,#2089c3 201.5px)"></i>
<i style="left:368px;top:4px;width:1px;height:202px;background:linear-gradient(#207ad5 0,#215dc5 33.5px,#2c3b9d 47.5px,#303090 82.5px,#2e3798 163.5px,#2073d2 190.5px,#207ad5 201.5px)"></i>
<i style="left:369px;top:4px;width:1px;height:202px;background:linear-gradient(#2080d8 0,#225bc2 35.5px,#303090 60.5px,#2d399b 170.5px,#2356bc 186.5px,#2067cc 201.5px)"></i>
<i style="left:370px;top:4px;width:1px;height:202px;background:linear-gradient(#2077d4 0,#2454b9 33.5px,#303090 60.5px,#2d399a 188.5px,#2a43a6 201.5px)"></i>
<i style="left:371px;top:4px;width:1px;height:202px;background:linear-gradient(#209f92 0,#207dd6 30.5px,#206dce 44.5px,#2a43a6 45.5px,#303090 64.5px,#303090 201.5px)"></i>
<i style="left:372px;top:4px;width:1px;height:202px;background:linear-gradient(#2070d0 0,#274bb0 31.5px,#2e3698 44.5px,#2a41a4 46.5px,#303090 66.5px,#303090 201.5px)"></i>
<i style="left:373px;top:4px;width:1px;height:202px;background:linear-gradient(#2083d2 0,#2454ba 43.5px,#2b3fa1 47.5px,#303090 68.5px,#303090 201.5px)"></i>
<i style="left:374px;top:4px;width:1px;height:202px;background:linear-gradient(#206fcf 0,#274aaf 31.5px,#2e3697 44.5px,#2b40a3 46.5px,#303090 67.5px,#303090 201.5px)"></i>
<i style="left:375px;top:4px;width:1px;height:202px;background:linear-gradient(#207cd6 0,#2551b6 40.5px,#303090 61.5px,#303090 201.5px)"></i>
<i style="left:376px;top:4px;width:1px;height:202px;background:linear-gradient(#2070d0 0,#274baf 32.5px,#2d3a9b 43.5px,#2d3a9c 49.5px,#303090 88.5px,#303090 201.5px)"></i>
<i style="left:377px;top:4px;width:1px;height:202px;background:linear-gradient(#2070d0 0,#274baf 32.5px,#303090 67.5px,#303090 201.5px)"></i>
<i style="left:378px;top:4px;width:1px;height:202px;background:linear-gradient(#2092af 0,#207cd6 20.5px,#2067cb 42.5px,#2a43a6 43.5px,#303090 66.5px,#303090 201.5px)"></i>
<i style="left:379px;top:4px;width:1px;height:202px;background:linear-gradient(#2070d0 0,#2849ae 33.5px,#303090 67.5px,#303090 201.5px)"></i>
<i style="left:380px;top:4px;width:1px;height:202px;background:linear-gradient(#2093ae 0,#207dd6 20.5px,#2067cc 42.5px,#2a42a5 43.5px,#303090 67.5px,#303090 201.5px)"></i>
<i style="left:381px;top:4px;width:1px;height:202px;background:linear-gradient(#2069cc 0,#2f3394 41.5px,#2a41a4 43.5px,#303090 68.5px,#303090 201.5px)"></i>
<i style="left:382px;top:4px;width:1px;height:202px;background:linear-gradient(#206cce 0,#2b40a3 36.5px,#2d399a 41.5px,#2b3ea0 45.5px,#303090 73.5px,#303090 201.5px)"></i>
<i style="left:383px;top:4px;width:1px;height:202px;background:linear-gradient(#2085cd 0,#2073d1 19.5px,#215ec5 40.5px,#2a43a6 41.5px,#303090 68.5px,#303090 201.5px)"></i>
<i style="left:267px;top:4px;width:117px;height:202px;background:linear-gradient(rgba(0,0,0,0.05) 0px 2px,rgba(255,255,255,0.08) 2px 3px,rgba(0,0,0,0.03) 3px 4px,rgba(0,0,0,0.01) 4px 5px,rgba(0,0,0,0.04) 5px 7px,rgba(0,0,0,0.04) 7px 8px,rgba(0,0,0,0.02) 8px 9px,rgba(255,255,255,0.05) 9px 11px,rgba(0,0,0,0.01) 11px 12px,rgba(255,255,255,0.03) 12px 13px,rgba(255,255,255,0.04) 13px 15px,rgba(255,255,255,0.03) 15px 16px,rgba(0,0,0,0.02) 16px 17px,rgba(255,255,255,0.05) 17px 19px,rgba(0,0,0,0.01) 19px 21px,rgba(255,255,255,0.02) 21px 22px,rgba(255,255,255,0.02) 22px 24px,rgba(0,0,0,0.01) 24px 26px,rgba(255,255,255,0.01) 26px 27px,rgba(0,0,0,0.02) 27px 29px,rgba(0,0,0,0.04) 29px 31px,rgba(0,0,0,0.01) 31px 33px,rgba(255,255,255,0.03) 33px 35px,rgba(0,0,0,0.02) 35px 37px,rgba(0,0,0,0.00) 37px 38px,rgba(0,0,0,0.02) 38px 40px,rgba(255,255,255,0.04) 40px 41px,rgba(255,255,255,0.04) 41px 43px,rgba(0,0,0,0.00) 43px 44px,rgba(0,0,0,0.01) 44px 46px,rgba(0,0,0,0.01) 46px 48px,rgba(255,255,255,0.04) 48px 50px,rgba(0,0,0,0.02) 50px 52px,rgba(0,0,0,0.02) 52px 54px,rgba(0,0,0,0.04) 54px 55px,rgba(0,0,0,0.03) 55px 56px,rgba(255,255,255,0.03) 56px 57px,rgba(0,0,0,0.01) 57px 58px,rgba(255,255,255,0.01) 58px 60px,rgba(255,255,255,0.01) 60px 61px,rgba(0,0,0,0.02) 61px 62px,rgba(0,0,0,0.00) 62px 63px,rgba(0,0,0,0.01) 63px 65px,rgba(255,255,255,0.06) 65px 66px,rgba(0,0,0,0.05) 66px 67px,rgba(255,255,255,0.01) 67px 68px,rgba(255,255,255,0.02) 68px 69px,rgba(255,255,255,0.01) 69px 71px,rgba(0,0,0,0.05) 71px 73px,rgba(0,0,0,0.01) 73px 75px,rgba(255,255,255,0.04) 75px 77px,rgba(0,0,0,0.00) 77px 79px,rgba(255,255,255,0.07) 79px 81px,rgba(0,0,0,0.00) 81px 83px,rgba(255,255,255,0.07) 83px 85px,rgba(255,255,255,0.03) 85px 86px,rgba(0,0,0,0.02) 86px 88px,rgba(0,0,0,0.05) 88px 90px,rgba(0,0,0,0.04) 90px 91px,rgba(255,255,255,0.01) 91px 93px,rgba(255,255,255,0.02) 93px 94px,rgba(0,0,0,0.05) 94px 96px,rgba(255,255,255,0.02) 96px 97px,rgba(255,255,255,0.02) 97px 99px,rgba(255,255,255,0.01) 99px 100px,rgba(0,0,0,0.01) 100px 101px,rgba(0,0,0,0.05) 101px 102px,rgba(0,0,0,0.03) 102px 104px,rgba(0,0,0,0.04) 104px 106px,rgba(0,0,0,0.01) 106px 107px,rgba(255,255,255,0.02) 107px 109px,rgba(0,0,0,0.02) 109px 111px,rgba(0,0,0,0.02) 111px 113px,rgba(255,255,255,0.02) 113px 115px,rgba(0,0,0,0.04) 115px 117px,rgba(0,0,0,0.01) 117px 118px,rgba(0,0,0,0.02) 118px 120px,rgba(0,0,0,0.04) 120px 122px,rgba(0,0,0,0.00) 122px 123px,rgba(0,0,0,0.04) 123px 125px,rgba(0,0,0,0.05) 125px 127px,rgba(0,0,0,0.02) 127px 129px,rgba(0,0,0,0.01) 129px 131px,rgba(0,0,0,0.05) 131px 132px,rgba(0,0,0,0.00) 132px 134px,rgba(255,255,255,0.07) 134px 135px,rgba(255,255,255,0.06) 135px 136px,rgba(0,0,0,0.05) 136px 138px,rgba(255,255,255,0.04) 138px 142px,rgba(0,0,0,0.04) 142px 146px,rgba(255,255,255,0.10) 146px 148px,rgba(0,0,0,0.03) 148px 152px,rgba(0,0,0,0.03) 152px 154px,rgba(0,0,0,0.03) 154px 158px,rgba(0,0,0,0.01) 158px 161px,rgba(255,255,255,0.08) 161px 164px,rgba(0,0,0,0.00) 164px 166px,rgba(255,255,255,0.05) 166px 169px,rgba(255,255,255,0.05) 169px 173px,rgba(0,0,0,0.01) 173px 175px,rgba(255,255,255,0.03) 175px 177px,rgba(255,255,255,0.00) 177px 179px,rgba(255,255,255,0.00) 179px 182px,rgba(255,255,255,0.03) 182px 184px,rgba(255,255,255,0.03) 184px 186px,rgba(255,255,255,0.01) 186px 189px,rgba(255,255,255,0.02) 189px 192px,rgba(255,255,255,0.03) 192px 195px,rgba(0,0,0,0.05) 195px 198px,rgba(255,255,255,0.03) 198px 202px)"></i>
<i style="left:390px;top:4px;width:1px;height:202px;background:linear-gradient(#32b26d 0,#209f93 86.5px,#2083d0 122.5px,#2089c5 158.5px,#30b070 182.5px,#3fbb63 185.5px,#84d981 196.5px,#85d981 201.5px)"></i>
<i style="left:391px;top:4px;width:1px;height:202px;background:linear-gradient(#2094aa 0,#207ad5 78.5px,#225bc2 140.5px,#2073d2 172.5px,#2085cd 180.5px,#25a586 185.5px,#41bc64 191.5px,#5ac76f 197.5px,#5bc76f 201.5px)"></i>
<i style="left:392px;top:4px;width:1px;height:202px;background:linear-gradient(#208fb6 0,#207bd6 66.5px,#2455bb 139.5px,#206bcd 170.5px,#2080d7 180.5px,#23a389 185.5px,#3dba62 191.5px,#56c66e 198.5px,#57c66e 201.5px)"></i>
<i style="left:393px;top:4px;width:1px;height:202px;background:linear-gradient(#209e95 0,#2078d4 87.5px,#2064ca 153.5px,#2082d3 175.5px,#2096a7 181.5px,#38b861 188.5px,#64cb73 196.5px,#66cc74 201.5px)"></i>
<i style="left:394px;top:4px;width:1px;height:202px;background:linear-gradient(#2091b2 0,#207cd6 69.5px,#2356bd 139.5px,#206cce 170.5px,#2084ce 180.5px,#26a685 185.5px,#3bb961 190.5px,#59c76f 197.5px,#5cc870 201.5px)"></i>
<i style="left:395px;top:4px;width:1px;height:202px;background:linear-gradient(#33b36a 0,#209f92 85.5px,#208cbd 105.5px,#2084ce 143.5px,#208cbe 160.5px,#30b070 181.5px,#40bc64 184.5px,#8ada83 196.5px,#8fdc84 201.5px)"></i>
<i style="left:396px;top:4px;width:1px;height:202px;background:linear-gradient(#2eae75 0,#209d98 79.5px,#2082d3 102.5px,#2084ce 163.5px,#2098a3 172.5px,#38b860 184.5px,#80d880 196.5px,#85d982 201.5px)"></i>
<i style="left:397px;top:4px;width:1px;height:202px;background:linear-gradient(#2cac78 0,#209b9c 78.5px,#207fd8 100.5px,#2082d3 164.5px,#209b9b 174.5px,#3ebb63 185.5px,#7ed77f 196.5px,#84d981 201.5px)"></i>
<i style="left:398px;top:4px;width:1px;height:202px;background:linear-gradient(#34b468 0,#20a090 85.5px,#208eb9 103.5px,#2086ca 149.5px,#2098a2 168.5px,#3ebb63 183.5px,#90dc85 196.5px,#97dd86 201.5px)"></i>
<i style="left:399px;top:4px;width:1px;height:202px;background:linear-gradient(#22a28d 0,#2085cc 78.5px,#2074d2 91.5px,#206cce 159.5px,#2084cf 173.5px,#2eae74 184.5px,#3dba62 187.5px,#6ed078 197.5px,#74d27a 201.5px)"></i>
<i style="left:400px;top:4px;width:1px;height:202px;background:linear-gradient(#2099a0 0,#207ad5 78.5px,#215cc3 123.5px,#206acd 167.5px,#2083d2 176.5px,#2097a4 181.5px,#36b665 187.5px,#66cc74 198.5px,#6ace76 201.5px)"></i>
<i style="left:401px;top:4px;width:1px;height:202px;background:linear-gradient(#2faf72 0,#209a9d 78.5px,#207ed7 97.5px,#2082d4 164.5px,#2096a6 172.5px,#3cba62 184.5px,#82d881 196.5px,#8bdb83 201.5px)"></i>
<i style="left:402px;top:4px;width:1px;height:202px;background:linear-gradient(#31b16e 0,#209c99 79.5px,#2080d8 100.5px,#2084ce 162.5px,#2094ab 170.5px,#38b860 183.5px,#84d981 196.5px,#8edb84 201.5px)"></i>
<i style="left:403px;top:4px;width:1px;height:202px;background:linear-gradient(#28a880 0,#208eb8 78.5px,#207cd6 90.5px,#2077d3 159.5px,#2084cf 169.5px,#25a585 179.5px,#40bb63 186.5px,#75d37b 198.5px,#7ad57d 201.5px)"></i>
<i style="left:404px;top:4px;width:1px;height:202px;background:linear-gradient(#38b860 0,#23a389 84.5px,#2092ae 103.5px,#2093ae 154.5px,#32b26c 176.5px,#46be66 182.5px,#94dd86 199.5px,#99de87 201.5px)"></i>
<i style="left:405px;top:4px;width:1px;height:202px;background:linear-gradient(#4cc169 0,#33b36a 80.5px,#25a585 109.5px,#2eae75 165.5px,#44bd65 175.5px,#abe28c 199.5px,#afe38d 201.5px)"></i>
<i style="left:406px;top:4px;width:1px;height:202px;background:linear-gradient(#32b26b 0,#20a08f 84.5px,#208dba 100.5px,#208fb6 139.5px,#2098a1 160.5px,#3ab961 179.5px,#88da82 200.5px,#8ada83 201.5px)"></i>
<i style="left:407px;top:4px;width:1px;height:202px;background:linear-gradient(#3fbb63 0,#2cac77 82.5px,#21a18f 110.5px,#2cac78 167.5px,#40bc64 175.5px,#99de87 199.5px,#9cdf88 201.5px)"></i>
<i style="left:408px;top:4px;width:1px;height:202px;background:linear-gradient(#46be66 0,#32b26b 81.5px,#26a684 108.5px,#32b26c 167.5px,#48bf67 174.5px,#a0e089 199.5px,#a3e08a 201.5px)"></i>
<i style="left:409px;top:4px;width:1px;height:202px;background:linear-gradient(#4dc169 0,#33b369 86.5px,#2bab7a 118.5px,#3fbb63 169.5px,#a6e18b 198.5px,#a9e28c 201.5px)"></i>
<i style="left:410px;top:4px;width:1px;height:202px;background:linear-gradient(#59c76f 0,#42bc64 84.5px,#35b566 126.5px,#4dc169 168.5px,#b6e58f 198.5px,#b8e590 201.5px)"></i>
<i style="left:411px;top:4px;width:1px;height:202px;background:linear-gradient(#53c46c 0,#43bd65 83.5px,#34b468 122.5px,#4ec26a 168.5px,#93dd85 187.5px,#b2e48e 199.5px,#b2e48e 201.5px)"></i>
<i style="left:412px;top:4px;width:1px;height:202px;background:linear-gradient(#63cb73 0,#56c56d 84.5px,#47bf67 119.5px,#6bcf77 169.5px,#a8e18b 185.5px,#c6e994 199.5px,#c6e994 201.5px)"></i>
<i style="left:413px;top:4px;width:1px;height:202px;background:linear-gradient(#3fbb63 0,#33b36a 91.5px,#47bf67 163.5px,#86d982 187.5px,#9edf89 199.5px,#9ddf88 201.5px)"></i>
<i style="left:414px;top:4px;width:1px;height:202px;background:linear-gradient(#46be66 0,#3dba62 92.5px,#53c46c 157.5px,#72d27a 173.5px,#93dd85 186.5px,#a9e28c 199.5px,#a8e18b 201.5px)"></i>
<i style="left:415px;top:4px;width:1px;height:202px;background:linear-gradient(#5fc971 0,#67cd75 138.5px,#8fdb84 171.5px,#b5e58f 184.5px,#c7e994 199.5px,#c5e894 201.5px)"></i>
<i style="left:416px;top:4px;width:1px;height:202px;background:linear-gradient(#4bc068 0,#5fc971 141.5px,#86d982 172.5px,#a4e18a 184.5px,#b2e48e 199.5px,#afe38d 201.5px)"></i>
<i style="left:417px;top:4px;width:1px;height:202px;background:linear-gradient(#4ac068 0,#6ace76 144.5px,#94dd86 173.5px,#aae28c 184.5px,#b4e48f 199.5px,#b0e48e 201.5px)"></i>
<i style="left:418px;top:4px;width:1px;height:202px;background:linear-gradient(#55c56d 0,#7bd67e 141.5px,#b1e48e 175.5px,#bbe691 186.5px,#c2e893 199.5px,#bee792 201.5px)"></i>
<i style="left:419px;top:4px;width:1px;height:202px;background:linear-gradient(#5ec971 0,#83d981 125.5px,#c5e894 175.5px,#cbea95 186.5px,#ccea96 200.5px,#caea95 201.5px)"></i>
<i style="left:420px;top:4px;width:1px;height:202px;background:linear-gradient(#51c36b 0,#6ed078 89.5px,#98de87 150.5px,#c6e994 183.5px,#c4e893 192.5px,#bbe691 201.5px)"></i>
<i style="left:421px;top:4px;width:1px;height:202px;background:linear-gradient(#66cc74 0,#83d981 85.5px,#bee792 152.5px,#d8ec96 185.5px,#d1eb97 201.5px)"></i>
<i style="left:422px;top:4px;width:1px;height:202px;background:linear-gradient(#75d37b 0,#93dd85 81.5px,#b4e48f 115.5px,#e7ed8d 179.5px,#daec95 201.5px)"></i>
<i style="left:423px;top:4px;width:1px;height:202px;background:linear-gradient(#40bc64 0,#60ca72 82.5px,#7fd880 117.5px,#c2e893 182.5px,#ade38d 191.5px,#a2e08a 201.5px)"></i>
<i style="left:424px;top:4px;width:1px;height:202px;background:linear-gradient(#39b961 0,#5bc870 81.5px,#7cd67e 110.5px,#a9e28c 152.5px,#bde791 182.5px,#a3e08a 190.5px,#9bde88 200.5px,#98de87 201.5px)"></i>
<i style="left:425px;top:4px;width:1px;height:202px;background:linear-gradient(#70d179 0,#91dc85 78.5px,#bfe792 103.5px,#e8ed8d 181.5px,#d5ec97 201.5px)"></i>
<i style="left:426px;top:4px;width:1px;height:202px;background:linear-gradient(#57c66e 0,#7dd77f 80.5px,#aae28c 103.5px,#e0ed91 173.5px,#cbea95 187.5px,#b7e590 201.5px)"></i>
<i style="left:427px;top:4px;width:1px;height:202px;background:linear-gradient(#7fd880 0,#aae28c 78.5px,#d8ec96 99.5px,#e8e386 159.5px,#e9e586 177.5px,#dbed94 201.5px)"></i>
<i style="left:428px;top:4px;width:1px;height:202px;background:linear-gradient(#9edf89 0,#cbea95 78.5px,#eaee8b 110.5px,#e2da85 146.5px,#cfbf80 171.5px,#efee89 192.5px,#e7ed8d 201.5px)"></i>
<i style="left:429px;top:4px;width:1px;height:202px;background:linear-gradient(#67cd75 0,#90dc85 77.5px,#caea95 101.5px,#eae587 160.5px,#eae587 172.5px,#dced93 186.5px,#c6e994 201.5px)"></i>
<i style="left:430px;top:4px;width:1px;height:202px;background:linear-gradient(#65cc74 0,#8fdc84 77.5px,#c9e995 101.5px,#eae587 156.5px,#e2da85 170.5px,#e9ed8c 181.5px,#c1e893 201.5px)"></i>
<i style="left:431px;top:4px;width:1px;height:202px;background:linear-gradient(#6ccf77 0,#9edf88 78.5px,#d4ec98 101.5px,#e9e486 150.5px,#d5c782 169.5px,#ebee8b 182.5px,#caea95 201.5px)"></i>
<i style="left:432px;top:4px;width:1px;height:202px;background:linear-gradient(#72d27a 0,#a7e18b 78.5px,#d8ec96 99.5px,#e9e486 146.5px,#c6b47d 168.5px,#edee8a 183.5px,#d0eb97 201.5px)"></i>
<i style="left:433px;top:4px;width:1px;height:202px;background:linear-gradient(#6ed078 0,#a7e18b 79.5px,#d7ec96 99.5px,#eae587 145.5px,#c4b27c 163.5px,#c7b57d 170.5px,#ecee8a 183.5px,#caea95 201.5px)"></i>
<i style="left:434px;top:4px;width:1px;height:202px;background:linear-gradient(#60ca72 0,#9ade87 79.5px,#ceeb96 101.5px,#ebe687 146.5px,#c7b57d 161.5px,#c3b17c 169.5px,#edee8a 181.5px,#c3e893 198.5px,#b9e690 201.5px)"></i>
<i style="left:435px;top:4px;width:1px;height:202px;background:linear-gradient(#78d47c 0,#bbe691 80.5px,#deed92 100.5px,#e9e486 139.5px,#b29b74 159.5px,#ab9371 169.5px,#eeee89 185.5px,#d4ec98 201.5px)"></i>
<i style="left:436px;top:4px;width:1px;height:202px;background:linear-gradient(#4fc26a 0,#8edb84 80.5px,#c0e792 101.5px,#eaee8b 142.5px,#dacf83 150.5px,#b5a076 167.5px,#ecee8a 182.5px,#bfe792 192.5px,#a3e08a 201.5px)"></i>
<i style="left:437px;top:4px;width:1px;height:202px;background:linear-gradient(#7ad57d 0,#c2e893 80.5px,#e2ed90 104.5px,#e9e486 136.5px,#a58c6f 157.5px,#a1876d 170.5px,#d3c581 182.5px,#ebee8b 187.5px,#d4ec98 201.5px)"></i>
<i style="left:438px;top:4px;width:1px;height:202px;background:linear-gradient(#76d37b 0,#c0e792 80.5px,#e1ed91 102.5px,#e9e486 136.5px,#a48a6e 155.5px,#9e826b 170.5px,#cebd80 182.5px,#ebee8b 187.5px,#cfeb97 201.5px)"></i>
<i style="left:439px;top:4px;width:1px;height:202px;background:linear-gradient(#8edb84 0,#c8e994 67.5px,#f0ee88 112.5px,#d4c782 137.5px,#9b7e6a 153.5px,#967867 172.5px,#ad9672 181.5px,#f0ee88 188.5px,#dced93 201.5px)"></i>
<i style="left:440px;top:4px;width:1px;height:202px;background:linear-gradient(#79d57d 0,#b3e48f 66.5px,#e6ed8e 105.5px,#e8e386 131.5px,#ccbb80 140.5px,#9b7f6a 154.5px,#987a68 172.5px,#af9873 181.5px,#ecee8a 188.5px,#d1eb97 201.5px)"></i>
<i style="left:441px;top:4px;width:1px;height:202px;background:linear-gradient(#80d880 0,#b2e48e 50.5px,#e5ed8e 94.5px,#e8e286 126.5px,#c5b27c 139.5px,#977867 153.5px,#997b68 175.5px,#aa9371 182.5px,#efee88 190.5px,#d6ec97 201.5px)"></i>
<i style="left:442px;top:4px;width:1px;height:202px;background:linear-gradient(#68cd75 0,#bae691 80.5px,#deed92 99.5px,#eae587 130.5px,#9a7c69 153.5px,#9b7e6a 174.5px,#af9873 182.5px,#efee89 189.5px,#c4e893 199.5px,#bce691 201.5px)"></i>
<i style="left:443px;top:4px;width:1px;height:202px;background:linear-gradient(#7dd77f 0,#b1e48e 47.5px,#e4ed8f 92.5px,#ebe687 123.5px,#ad9672 141.5px,#947163 158.5px,#9b7e6a 181.5px,#eeee89 192.5px,#d3ec98 201.5px)"></i>
<i style="left:444px;top:4px;width:1px;height:202px;background:linear-gradient(#8ada83 0,#bfe792 45.5px,#eaee8b 92.5px,#e1d985 123.5px,#967666 148.5px,#957264 180.5px,#b6a076 187.5px,#f0ee88 193.5px,#d9ec95 201.5px)"></i>
<i style="left:445px;top:4px;width:1px;height:202px;background:linear-gradient(#90dc84 0,#c6e994 43.5px,#ebe687 102.5px,#dbd083 123.5px,#957566 146.5px,#947062 181.5px,#bba778 189.5px,#ebee8b 194.5px,#dbec94 201.5px)"></i>
<i style="left:446px;top:4px;width:1px;height:202px;background:linear-gradient(#7fd880 0,#b6e590 42.5px,#e6ed8e 91.5px,#e8e286 121.5px,#977867 144.5px,#947163 181.5px,#baa578 189.5px,#f0ee88 193.5px,#d3ec98 201.5px)"></i>
<i style="left:447px;top:4px;width:1px;height:202px;background:linear-gradient(#9edf88 0,#d4ec98 39.5px,#eae587 92.5px,#d1c281 122.5px,#967666 140.5px,#987166 162.5px,#947263 184.5px,#af9873 190.5px,#edea87 194.5px,#e0ed91 201.5px)"></i>
<i style="left:448px;top:4px;width:1px;height:202px;background:linear-gradient(#99de87 0,#d3ec98 40.5px,#eae587 93.5px,#d0c181 122.5px,#967667 139.5px,#987066 158.5px,#9d766d 173.5px,#957264 185.5px,#a99170 190.5px,#efec88 194.5px,#deed92 201.5px)"></i>
<i style="left:449px;top:4px;width:1px;height:202px;background:linear-gradient(#75d37b 0,#b1e48e 42.5px,#e5ed8e 92.5px,#e8e386 120.5px,#9f836b 138.5px,#987166 161.5px,#a17b72 170.5px,#936e61 181.5px,#a48b6e 189.5px,#efec88 193.5px,#d5ec97 197.5px,#c5e894 201.5px)"></i>
<i style="left:450px;top:4px;width:1px;height:202px;background:linear-gradient(#57c66e 0,#95dd86 47.5px,#bce691 81.5px,#e0ed91 103.5px,#ebe787 123.5px,#a58c6f 138.5px,#966e63 161.5px,#a7837a 169.5px,#936c60 180.5px,#a99271 189.5px,#eae587 192.5px,#d3ec98 194.5px,#b8e590 196.5px,#a1e089 201.5px)"></i>
<i style="left:451px;top:4px;width:1px;height:202px;background:linear-gradient(#6fd078 0,#aee38d 40.5px,#e5ed8e 93.5px,#e7e186 119.5px,#9d816b 136.5px,#976f65 157.5px,#bb9e98 164.5px,#d3c1c0 168.5px,#936e61 186.5px,#a78f70 190.5px,#ede987 193.5px,#cbea95 198.5px,#bde691 201.5px)"></i>
<i style="left:452px;top:4px;width:1px;height:202px;background:linear-gradient(#85d981 0,#c6e994 36.5px,#eae687 98.5px,#cebd80 122.5px,#967767 135.5px,#9a7268 155.5px,#c2a9a5 161.5px,#e0d4d4 165.5px,#e2d8d8 173.5px,#d8cac9 180.5px,#a47e75 185.5px,#936c60 188.5px,#ac9572 191.5px,#ebee8b 194.5px,#d4ec98 201.5px)"></i>
<i style="left:453px;top:4px;width:1px;height:202px;background:linear-gradient(#87da82 0,#cbea95 35.5px,#e9e587 96.5px,#c9b87e 122.5px,#967666 135.5px,#987066 153.5px,#b79992 158.5px,#e1d6d6 163.5px,#f0eaea 170.5px,#ded2d2 182.5px,#a58178 186.5px,#92695f 188.5px,#a89070 191.5px,#edee8a 194.5px,#d5ec97 201.5px)"></i>
<i style="left:454px;top:4px;width:1px;height:202px;background:linear-gradient(#7fd880 0,#c5e894 35.5px,#eae587 99.5px,#cbba7f 122.5px,#967767 135.5px,#997167 150.5px,#b2918a 156.5px,#dfd3d3 161.5px,#f5f2f2 170.5px,#ece5e5 181.5px,#ded2d2 183.5px,#9f796f 187.5px,#947163 189.5px,#a99170 191.5px,#ded484 193.5px,#eaee8c 194.5px,#ceeb96 201.5px)"></i>
<i style="left:455px;top:4px;width:1px;height:202px;background:linear-gradient(#7ed77f 0,#c5e994 34.5px,#eae687 98.5px,#c9b77e 122.5px,#967666 135.5px,#997167 148.5px,#b18f88 154.5px,#ded2d2 159.5px,#fcfbfb 169.5px,#f2eeee 181.5px,#dacccb 184.5px,#b08f87 186.5px,#976f65 188.5px,#987a68 190.5px,#d6c982 193.5px,#efed88 194.5px,#ceea96 201.5px)"></i>
<i style="left:456px;top:4px;width:1px;height:202px;background:linear-gradient(#94dd86 0,#d7ec96 30.5px,#e8e386 89.5px,#baa578 122.5px,#946f62 136.5px,#987166 145.5px,#c0a6a1 152.5px,#dfd3d3 156.5px,#ffffff 167.5px,#fefdfd 181.5px,#dccfcf 185.5px,#b08f87 187.5px,#956c61 189.5px,#a58c6e 192.5px,#e0d784 195.5px,#ecee8a 198.5px,#dced94 201.5px)"></i>
<i style="left:457px;top:4px;width:1px;height:202px;background:linear-gradient(#7cd67e 0,#c8e995 33.5px,#eae587 97.5px,#c4b17c 122.5px,#957565 135.5px,#997167 146.5px,#ba9d97 151.5px,#e1d5d5 156.5px,#ffffff 168.5px,#ffffff 181.5px,#dbcdcd 185.5px,#ac8980 187.5px,#926a5e 189.5px,#a48b6e 192.5px,#e4dd85 196.5px,#eaee8c 198.5px,#d0eb97 201.5px)"></i>
<i style="left:458px;top:4px;width:1px;height:202px;background:linear-gradient(#63cb73 0,#aee38d 34.5px,#e4ed8f 92.5px,#e7e286 108.5px,#c8b67e 123.5px,#987a68 136.5px,#997268 147.5px,#b89a94 151.5px,#ded1d1 155.5px,#ffffff 170.5px,#fcfbfb 181.5px,#d9caca 185.5px,#ac8981 187.5px,#936a5f 189.5px,#a3896d 192.5px,#efee89 197.5px,#b5e58f 201.5px)"></i>
<i style="left:459px;top:4px;width:1px;height:202px;background:linear-gradient(#83d981 0,#d4ec98 32.5px,#e9e386 93.5px,#946f62 138.5px,#9b746a 145.5px,#c2a9a4 149.5px,#e1d6d6 152.5px,#ffffff 167.5px,#f7f4f4 183.5px,#dccece 187.5px,#a47e75 190.5px,#946f62 192.5px,#d1c281 197.5px,#f0ee88 199.5px,#d7ec96 201.5px)"></i>
<i style="left:460px;top:4px;width:1px;height:202px;background:linear-gradient(#9fdf89 0,#deed92 26.5px,#e9e486 77.5px,#bfac7a 105.5px,#926a5f 135.5px,#a27c73 144.5px,#e3d8d8 150.5px,#ffffff 159.5px,#fbfafa 184.5px,#dfd3d3 189.5px,#a07a71 192.5px,#92695e 193.5px,#b5a076 197.5px,#edea87 200.5px,#e4ed8f 201.5px)"></i>
<i style="left:461px;top:4px;width:1px;height:202px;background:linear-gradient(#7bd67e 0,#d1eb97 32.5px,#eae587 93.5px,#967767 130.5px,#987066 142.5px,#b3928b 146.5px,#ddd0d0 149.5px,#f9f6f6 157.5px,#f9f7f7 184.5px,#e3d9d9 189.5px,#d4c3c2 190.5px,#a37e75 192.5px,#936b60 193.5px,#a78f6f 196.5px,#e7e286 199.5px,#d5ec97 201.5px)"></i>
<i style="left:462px;top:4px;width:1px;height:202px;background:linear-gradient(#99de87 0,#dded93 26.5px,#e8e386 67.5px,#c7b57e 99.5px,#967667 122.5px,#987065 137.5px,#ae8c84 143.5px,#dfd3d3 147.5px,#ffffff 154.5px,#fcfbfb 188.5px,#ded2d2 191.5px,#a78279 193.5px,#946c61 194.5px,#a68e6f 197.5px,#ebe687 200.5px,#e2ed90 201.5px)"></i>
<i style="left:463px;top:4px;width:1px;height:202px;background:linear-gradient(#98de87 0,#dded93 26.5px,#e9e486 63.5px,#b9a477 100.5px,#946f62 126.5px,#9a7369 137.5px,#bea39e 143.5px,#e0d4d4 146.5px,#ffffff 153.5px,#fbfafa 189.5px,#e1d6d6 191.5px,#a9857c 193.5px,#956c62 194.5px,#a78e6f 197.5px,#ebe787 200.5px,#e2ed90 201.5px)"></i>
<i style="left:464px;top:4px;width:1px;height:202px;background:linear-gradient(#8ddb84 0,#d9ec95 28.5px,#e9e486 64.5px,#ab9471 103.5px,#936b5f 133.5px,#a07a70 138.5px,#c8b2ae 143.5px,#e3d9d9 146.5px,#ffffff 153.5px,#f9f6f6 189.5px,#dfd3d3 191.5px,#a58077 193.5px,#926a5e 194.5px,#ac9572 197.5px,#efee89 200.5px,#dded93 201.5px)"></i>
<i style="left:465px;top:4px;width:1px;height:202px;background:linear-gradient(#97dd87 0,#dced93 27.5px,#e9e486 59.5px,#967666 115.5px,#966e64 135.5px,#bb9e99 140.5px,#e1d6d6 144.5px,#ffffff 153.5px,#faf9f9 189.5px,#e1d5d5 191.5px,#a8837b 193.5px,#946b60 194.5px,#a89070 197.5px,#edea87 200.5px,#e0ed91 201.5px)"></i>
<i style="left:466px;top:4px;width:1px;height:202px;background:linear-gradient(#7dd77f 0,#d6ec97 34.5px,#e9e586 64.5px,#9f846c 110.5px,#976f64 136.5px,#b99c96 140.5px,#ddd1d1 143.5px,#ffffff 154.5px,#fcfbfb 188.5px,#d9cbcb 191.5px,#b79992 192.5px,#9f796f 193.5px,#936d61 194.5px,#b6a176 197.5px,#e4dd85 199.5px,#e7ed8d 200.5px,#d5ec97 201.5px)"></i>
<i style="left:467px;top:4px;width:1px;height:202px;background:linear-gradient(#91dc85 0,#dbed94 29.5px,#e8e386 58.5px,#a1866c 97.5px,#987066 132.5px,#aa867e 137.5px,#ddd1d1 141.5px,#ffffff 152.5px,#f9f7f7 189.5px,#dfd3d3 191.5px,#a58178 193.5px,#92695e 194.5px,#ab9471 197.5px,#f0ee88 200.5px,#deed93 201.5px)"></i>
<i style="left:468px;top:4px;width:1px;height:202px;background:linear-gradient(#afe38e 0,#e2ed90 24.5px,#e9e486 44.5px,#967767 96.5px,#997268 126.5px,#b3928b 136.5px,#ddd1d1 139.5px,#ffffff 147.5px,#ffffff 189.5px,#d2c1bf 192.5px,#b08e87 193.5px,#9b746a 194.5px,#967767 196.5px,#cbb97f 199.5px,#eaee8c 201.5px)"></i>
<i style="left:469px;top:4px;width:1px;height:202px;background:linear-gradient(#90dc85 0,#dced94 30.5px,#e9e486 55.5px,#9d816b 97.5px,#987066 129.5px,#ab877f 136.5px,#d9cbca 139.5px,#faf9f9 146.5px,#f8f6f6 189.5px,#dfd3d3 191.5px,#a47f77 193.5px,#926a5f 194.5px,#ad9672 197.5px,#eeee89 200.5px,#dced93 201.5px)"></i>
<i style="left:470px;top:4px;width:1px;height:202px;background:linear-gradient(#7cd67e 0,#dbed94 37.5px,#e9e486 59.5px,#a1866c 99.5px,#976f64 130.5px,#a9857d 136.5px,#e1d6d6 140.5px,#fcfbfb 147.5px,#fbfafa 188.5px,#d7c8c7 191.5px,#b5968f 192.5px,#9e776e 193.5px,#936e61 194.5px,#b8a377 197.5px,#e6e086 199.5px,#d3ec98 201.5px)"></i>
<i style="left:471px;top:4px;width:1px;height:202px;background:linear-gradient(#aee38d 0,#e1ed91 23.5px,#e9e486 40.5px,#957465 98.5px,#9a7268 124.5px,#bca09a 134.5px,#ccb7b4 136.5px,#e3d9d9 138.5px,#ffffff 143.5px,#ffffff 189.5px,#d2c0be 192.5px,#af8e86 193.5px,#9b7369 194.5px,#967867 196.5px,#cbba7f 199.5px,#e9ee8c 201.5px)"></i>
<i style="left:472px;top:4px;width:1px;height:202px;background:linear-gradient(#76d37b 0,#dded93 39.5px,#e9e486 59.5px,#a0856c 99.5px,#987066 129.5px,#b3948d 136.5px,#d9caca 138.5px,#ffffff 144.5px,#faf8f8 188.5px,#d4c4c3 191.5px,#b2918a 192.5px,#9c756b 193.5px,#9a7d69 195.5px,#e9e486 199.5px,#ceeb96 201.5px)"></i>
<i style="left:473px;top:4px;width:1px;height:202px;background:linear-gradient(#b0e38e 0,#e1ed91 22.5px,#e9e486 40.5px,#957465 95.5px,#977065 122.5px,#bfa49f 132.5px,#ffffff 142.5px,#ffffff 189.5px,#d4c3c2 192.5px,#b29189 193.5px,#9c756b 194.5px,#967767 196.5px,#c9b77e 199.5px,#ebee8b 201.5px)"></i>
<i style="left:474px;top:4px;width:1px;height:202px;background:linear-gradient(#8fdc84 0,#dbec94 28.5px,#e9e486 55.5px,#9c7f6a 93.5px,#987166 125.5px,#b89b95 133.5px,#d0bebc 136.5px,#ece5e5 139.5px,#ffffff 143.5px,#f9f7f7 189.5px,#dfd4d4 191.5px,#a68178 193.5px,#92695e 194.5px,#ab9371 197.5px,#f0ee88 200.5px,#deed92 201.5px)"></i>
<i style="left:475px;top:4px;width:1px;height:202px;background:linear-gradient(#99de87 0,#dded93 26.5px,#e9e486 54.5px,#9d816b 89.5px,#9a7268 124.5px,#bda29d 132.5px,#fcfbfb 141.5px,#fbfafa 189.5px,#e2d7d7 191.5px,#a9857d 193.5px,#956d62 194.5px,#a78e6f 197.5px,#ebe787 200.5px,#e2ed90 201.5px)"></i>
<i style="left:476px;top:4px;width:1px;height:202px;background:linear-gradient(#92dc85 0,#dced94 27.5px,#e8e386 58.5px,#9c7f6a 91.5px,#997268 124.5px,#b99b95 131.5px,#fcfafa 141.5px,#faf8f8 189.5px,#e0d5d5 191.5px,#a7837a 193.5px,#936b60 194.5px,#a89070 197.5px,#eeea87 200.5px,#e0ed91 201.5px)"></i>
<i style="left:477px;top:4px;width:1px;height:202px;background:linear-gradient(#8ada83 0,#d9ec95 28.5px,#eae587 61.5px,#967767 96.5px,#987167 124.5px,#ba9d97 131.5px,#fbfafa 141.5px,#f9f6f6 189.5px,#dfd3d3 191.5px,#a58077 193.5px,#92695e 194.5px,#ac9472 197.5px,#efee88 200.5px,#dded93 201.5px)"></i>
<i style="left:478px;top:4px;width:1px;height:202px;background:linear-gradient(#9fdf89 0,#dfed92 25.5px,#eae587 58.5px,#957566 96.5px,#987066 122.5px,#bea39d 130.5px,#ffffff 141.5px,#fdfcfc 189.5px,#e3d9d9 191.5px,#cebab7 192.5px,#ac8981 193.5px,#987066 194.5px,#a48b6e 197.5px,#e6e086 200.5px,#e6ed8e 201.5px)"></i>
<i style="left:479px;top:4px;width:1px;height:202px;background:linear-gradient(#86d982 0,#d6ec97 31.5px,#eae587 67.5px,#9e836b 99.5px,#976f65 124.5px,#bca09a 133.5px,#f3eeee 140.5px,#ffffff 144.5px,#f8f6f6 189.5px,#dfd3d3 191.5px,#a47f77 193.5px,#926a5f 194.5px,#ad9672 197.5px,#eeee89 200.5px,#dced93 201.5px)"></i>
<i style="left:480px;top:4px;width:1px;height:202px;background:linear-gradient(#77d47c 0,#ceeb96 37.5px,#eae687 76.5px,#a0856c 106.5px,#976f65 126.5px,#b5958f 135.5px,#e0d4d4 138.5px,#ffffff 144.5px,#fcfbfb 188.5px,#dbcdcd 191.5px,#b89a94 192.5px,#a07a70 193.5px,#936d61 194.5px,#b5a076 197.5px,#e3dc85 199.5px,#e8ed8c 200.5px,#d6ec97 201.5px)"></i>
<i style="left:481px;top:4px;width:1px;height:202px;background:linear-gradient(#86d982 0,#d6ec97 36.5px,#eae587 76.5px,#997b69 111.5px,#987167 126.5px,#b4948d 135.5px,#e1d5d5 138.5px,#ffffff 143.5px,#f9f6f6 189.5px,#dfd3d3 191.5px,#a58078 193.5px,#92695e 194.5px,#ab9471 197.5px,#efee88 200.5px,#dded93 201.5px)"></i>
<i style="left:482px;top:4px;width:1px;height:202px;background:linear-gradient(#65cc74 0,#d1eb97 58.5px,#e8e386 89.5px,#967666 123.5px,#997268 133.5px,#a68279 136.5px,#dccfcf 139.5px,#fefefe 145.5px,#f8f6f6 188.5px,#e4dbdb 190.5px,#d0bebc 191.5px,#ae8b83 192.5px,#9a7268 193.5px,#9c806a 195.5px,#d7ca82 198.5px,#edea87 199.5px,#c6e994 201.5px)"></i>
<i style="left:483px;top:4px;width:1px;height:202px;background:linear-gradient(#80d880 0,#d7ec96 47.5px,#e9e486 85.5px,#b39d75 107.5px,#92695e 129.5px,#aa867e 136.5px,#ddd0d0 139.5px,#fdfdfd 145.5px,#f8f5f5 189.5px,#ded2d2 191.5px,#a47f76 193.5px,#926a5f 194.5px,#ae9772 197.5px,#eeee89 200.5px,#dced94 201.5px)"></i>
<i style="left:484px;top:4px;width:1px;height:202px;background:linear-gradient(#63cb73 0,#dced93 79.5px,#e9e486 99.5px,#947264 130.5px,#9a7268 136.5px,#bca09b 139.5px,#dccfcf 141.5px,#ffffff 152.5px,#f9f6f6 185.5px,#ebe4e4 189.5px,#e0d4d4 190.5px,#a9857d 192.5px,#976f65 193.5px,#a89070 196.5px,#edea87 199.5px,#c6e994 201.5px)"></i>
<i style="left:485px;top:4px;width:1px;height:202px;background:linear-gradient(#80d880 0,#dbec94 58.5px,#e9e486 93.5px,#936d61 130.5px,#a17b72 136.5px,#d0bdbb 140.5px,#e7dede 143.5px,#ffffff 153.5px,#f9f7f7 185.5px,#ded1d1 190.5px,#ad8a82 192.5px,#936b5f 194.5px,#ac9472 197.5px,#efee88 200.5px,#dded93 201.5px)"></i>
<i style="left:486px;top:4px;width:1px;height:202px;background:linear-gradient(#8cdb83 0,#dced93 54.5px,#e9e386 91.5px,#92695e 132.5px,#b08e87 138.5px,#e1d6d6 143.5px,#ffffff 154.5px,#faf8f8 183.5px,#dfd3d3 189.5px,#9d776d 193.5px,#92695e 194.5px,#a68d6f 197.5px,#eae587 200.5px,#e3ed8f 201.5px)"></i>
<i style="left:487px;top:4px;width:1px;height:202px;background:linear-gradient(#88da82 0,#dbed94 58.5px,#e9e486 95.5px,#926a5f 133.5px,#b69790 140.5px,#ded2d2 145.5px,#ffffff 163.5px,#f5f2f2 180.5px,#dacdcc 187.5px,#a17b71 192.5px,#926b5f 194.5px,#a68e6f 197.5px,#eae687 200.5px,#e2ed90 201.5px)"></i>
<i style="left:488px;top:4px;width:1px;height:202px;background:linear-gradient(#77d47c 0,#d6ec97 71.5px,#e9e386 102.5px,#b8a377 122.5px,#936d61 134.5px,#ab877f 142.5px,#ded2d2 152.5px,#fdfdfd 169.5px,#dccfcf 182.5px,#a8847c 188.5px,#936b60 193.5px,#9f846c 196.5px,#eeee89 200.5px,#dced94 201.5px)"></i>
<i style="left:489px;top:4px;width:1px;height:202px;background:linear-gradient(#48bf67 0,#bae690 86.5px,#ecee8a 114.5px,#dfd684 122.5px,#9e826b 133.5px,#976f65 146.5px,#b3938c 156.5px,#dfd3d3 164.5px,#ded2d2 171.5px,#a68178 181.5px,#936d61 188.5px,#a1876d 195.5px,#eaee8b 199.5px,#b3e48f 201.5px)"></i>
<i style="left:490px;top:4px;width:1px;height:202px;background:linear-gradient(#6dcf77 0,#dfed92 94.5px,#e9e486 113.5px,#d4c682 122.5px,#9a7c69 133.5px,#987066 147.5px,#b69790 158.5px,#dfd3d3 167.5px,#c9b4b0 173.5px,#a58077 181.5px,#936d61 192.5px,#a1866c 196.5px,#ebee8b 200.5px,#d9ec95 201.5px)"></i>
<i style="left:491px;top:4px;width:1px;height:202px;background:linear-gradient(#8ada83 0,#e1ed90 86.5px,#e9e386 106.5px,#cfbf80 122.5px,#977968 135.5px,#997268 149.5px,#c8b1ae 165.5px,#ccb7b4 169.5px,#a58178 183.5px,#946f62 195.5px,#b5a076 198.5px,#e4dd85 200.5px,#e8ed8d 201.5px)"></i>
<i style="left:492px;top:4px;width:1px;height:202px;background:linear-gradient(#66cc74 0,#aee38d 79.5px,#dbed94 100.5px,#ebe887 123.5px,#ac9572 139.5px,#946b60 157.5px,#a17b72 171.5px,#946f62 191.5px,#967767 195.5px,#cbb97f 198.5px,#eaee8c 200.5px,#d8ec96 201.5px)"></i>
<i style="left:493px;top:4px;width:1px;height:202px;background:linear-gradient(#78d47c 0,#b6e590 79.5px,#deed92 101.5px,#eae587 124.5px,#bca879 140.5px,#936d61 156.5px,#a07a71 171.5px,#946f62 192.5px,#a2876d 196.5px,#f0ee88 200.5px,#dfed91 201.5px)"></i>
<i style="left:494px;top:4px;width:1px;height:202px;background:linear-gradient(#61ca72 0,#8edb84 79.5px,#e0ed91 125.5px,#e9e486 137.5px,#ddd284 145.5px,#a2876d 155.5px,#936b5f 171.5px,#9d806a 191.5px,#b19b74 195.5px,#ecee8b 199.5px,#ccea96 201.5px)"></i>
<i style="left:495px;top:4px;width:1px;height:202px;background:linear-gradient(#84d981 0,#ace28c 79.5px,#deed92 116.5px,#e8e386 135.5px,#dfd584 145.5px,#987a68 159.5px,#956d62 166.5px,#a1866c 191.5px,#b7a176 195.5px,#ebe787 199.5px,#dfed92 201.5px)"></i>
<i style="left:496px;top:4px;width:1px;height:202px;background:linear-gradient(#3dba62 0,#60ca72 86.5px,#a5e18b 127.5px,#c0e792 141.5px,#ece887 155.5px,#a1866c 167.5px,#d5c782 183.5px,#ddd384 190.5px,#edee8a 194.5px,#bce691 199.5px,#99de87 201.5px)"></i>
<i style="left:497px;top:4px;width:1px;height:202px;background:linear-gradient(#52c46c 0,#76d47c 98.5px,#c2e893 141.5px,#ece987 157.5px,#b49e75 168.5px,#e5de85 182.5px,#e8ed8d 194.5px,#bce691 200.5px,#b0e38e 201.5px)"></i>
<i style="left:498px;top:4px;width:1px;height:202px;background:linear-gradient(#4ec26a 0,#74d37b 107.5px,#a6e18b 142.5px,#e3ed90 158.5px,#e7e186 165.5px,#e4dd85 170.5px,#e8ed8d 179.5px,#d0eb97 197.5px,#aae28c 201.5px)"></i>
<i style="left:499px;top:4px;width:1px;height:202px;background:linear-gradient(#57c66e 0,#7cd67e 112.5px,#a8e28c 147.5px,#e2ed90 163.5px,#e2ed90 176.5px,#ceeb96 197.5px,#b3e48f 201.5px)"></i>
<i style="left:500px;top:4px;width:1px;height:202px;background:linear-gradient(#49bf67 0,#69ce76 113.5px,#8bdb83 150.5px,#d8ec96 168.5px,#bae690 187.5px,#ace38d 198.5px,#a1e089 201.5px)"></i>
<i style="left:501px;top:4px;width:1px;height:202px;background:linear-gradient(#45be66 0,#4dc26a 59.5px,#6ace76 125.5px,#88da82 156.5px,#b8e590 169.5px,#96dd86 185.5px,#9bde88 201.5px)"></i>
<i style="left:502px;top:4px;width:1px;height:202px;background:linear-gradient(#24a488 0,#29a97e 47.5px,#31b16d 114.5px,#45be66 152.5px,#64cc74 170.5px,#54c56d 188.5px,#66cc74 201.5px)"></i>
<i style="left:503px;top:4px;width:1px;height:202px;background:linear-gradient(#54c46c 0,#6fd078 121.5px,#96dd86 163.5px,#9bde88 189.5px,#b0e38e 201.5px)"></i>
<i style="left:504px;top:4px;width:1px;height:202px;background:linear-gradient(#2eae74 0,#40bc64 125.5px,#64cc74 174.5px,#72d27a 190.5px,#85d981 201.5px)"></i>
<i style="left:505px;top:4px;width:1px;height:202px;background:linear-gradient(#209c99 0,#2095a8 100.5px,#24a488 126.5px,#41bc64 156.5px,#4ec26a 185.5px,#6fd179 201.5px)"></i>
<i style="left:506px;top:4px;width:1px;height:202px;background:linear-gradient(#29a97d 0,#209b9c 83.5px,#23a389 127.5px,#2eae74 145.5px,#42bd65 150.5px,#57c66e 158.5px,#63cb73 184.5px,#8edb84 201.5px)"></i>
<i style="left:390px;top:4px;width:117px;height:202px;background:linear-gradient(rgba(255,255,255,0.00) 0px 1px,rgba(255,255,255,0.04) 1px 3px,rgba(0,0,0,0.01) 3px 5px,rgba(0,0,0,0.04) 5px 7px,rgba(255,255,255,0.05) 7px 9px,rgba(255,255,255,0.02) 9px 11px,rgba(255,255,255,0.07) 11px 12px,rgba(255,255,255,0.01) 12px 13px,rgba(255,255,255,0.01) 13px 14px,rgba(0,0,0,0.02) 14px 15px,rgba(0,0,0,0.00) 15px 16px,rgba(0,0,0,0.04) 16px 18px,rgba(0,0,0,0.04) 18px 19px,rgba(0,0,0,0.00) 19px 20px,rgba(255,255,255,0.00) 20px 21px,rgba(255,255,255,0.08) 21px 23px,rgba(255,255,255,0.03) 23px 25px,rgba(255,255,255,0.01) 25px 27px,rgba(255,255,255,0.02) 27px 28px,rgba(255,255,255,0.02) 28px 30px,rgba(0,0,0,0.01) 30px 32px,rgba(0,0,0,0.02) 32px 33px,rgba(0,0,0,0.01) 33px 34px,rgba(0,0,0,0.02) 34px 36px,rgba(0,0,0,0.02) 36px 37px,rgba(0,0,0,0.03) 37px 39px,rgba(0,0,0,0.01) 39px 41px,rgba(0,0,0,0.04) 41px 42px,rgba(0,0,0,0.02) 42px 43px,rgba(255,255,255,0.02) 43px 45px,rgba(0,0,0,0.00) 45px 46px,rgba(0,0,0,0.03) 46px 47px,rgba(255,255,255,0.02) 47px 48px,rgba(255,255,255,0.06) 48px 50px,rgba(0,0,0,0.03) 50px 51px,rgba(255,255,255,0.06) 51px 52px,rgba(0,0,0,0.02) 52px 53px,rgba(255,255,255,0.06) 53px 55px,rgba(255,255,255,0.07) 55px 56px,rgba(0,0,0,0.00) 56px 58px,rgba(255,255,255,0.04) 58px 60px,rgba(0,0,0,0.02) 60px 62px,rgba(0,0,0,0.05) 62px 63px,rgba(0,0,0,0.02) 63px 65px,rgba(0,0,0,0.01) 65px 66px,rgba(255,255,255,0.10) 66px 67px,rgba(0,0,0,0.03) 67px 68px,rgba(255,255,255,0.01) 68px 69px,rgba(0,0,0,0.01) 69px 70px,rgba(0,0,0,0.01) 70px 71px,rgba(0,0,0,0.00) 71px 72px,rgba(0,0,0,0.01) 72px 74px,rgba(0,0,0,0.03) 74px 76px,rgba(0,0,0,0.05) 76px 78px,rgba(255,255,255,0.03) 78px 80px,rgba(255,255,255,0.02) 80px 82px,rgba(0,0,0,0.05) 82px 83px,rgba(255,255,255,0.06) 83px 85px,rgba(255,255,255,0.03) 85px 86px,rgba(255,255,255,0.02) 86px 87px,rgba(255,255,255,0.06) 87px 89px,rgba(255,255,255,0.01) 89px 90px,rgba(0,0,0,0.02) 90px 91px,rgba(255,255,255,0.00) 91px 93px,rgba(255,255,255,0.01) 93px 94px,rgba(0,0,0,0.00) 94px 96px,rgba(255,255,255,0.02) 96px 97px,rgba(255,255,255,0.02) 97px 98px,rgba(255,255,255,0.04) 98px 100px,rgba(255,255,255,0.03) 100px 101px,rgba(0,0,0,0.03) 101px 103px,rgba(0,0,0,0.01) 103px 105px,rgba(0,0,0,0.02) 105px 106px,rgba(255,255,255,0.05) 106px 108px,rgba(255,255,255,0.01) 108px 110px,rgba(0,0,0,0.03) 110px 112px,rgba(0,0,0,0.05) 112px 113px,rgba(0,0,0,0.05) 113px 114px,rgba(0,0,0,0.01) 114px 116px,rgba(0,0,0,0.02) 116px 117px,rgba(0,0,0,0.01) 117px 118px,rgba(255,255,255,0.00) 118px 120px,rgba(255,255,255,0.02) 120px 121px,rgba(0,0,0,0.02) 121px 123px,rgba(255,255,255,0.04) 123px 124px,rgba(0,0,0,0.01) 124px 125px,rgba(0,0,0,0.02) 125px 126px,rgba(0,0,0,0.03) 126px 127px,rgba(0,0,0,0.00) 127px 129px,rgba(0,0,0,0.04) 129px 131px,rgba(255,255,255,0.06) 131px 132px,rgba(0,0,0,0.01) 132px 134px,rgba(0,0,0,0.00) 134px 136px,rgba(0,0,0,0.02) 136px 138px,rgba(255,255,255,0.10) 138px 141px,rgba(255,255,255,0.03) 141px 143px,rgba(255,255,255,0.02) 143px 146px,rgba(255,255,255,0.05) 146px 150px,rgba(255,255,255,0.08) 150px 153px,rgba(255,255,255,0.07) 153px 155px,rgba(0,0,0,0.05) 155px 157px,rgba(0,0,0,0.03) 157px 160px,rgba(255,255,255,0.06) 160px 162px,rgba(255,255,255,0.05) 162px 165px,rgba(255,255,255,0.02) 165px 169px,rgba(0,0,0,0.05) 169px 173px,rgba(255,255,255,0.04) 173px 175px,rgba(255,255,255,0.07) 175px 178px,rgba(0,0,0,0.02) 178px 181px,rgba(0,0,0,0.04) 181px 184px,rgba(0,0,0,0.05) 184px 188px,rgba(0,0,0,0.01) 188px 191px,rgba(255,255,255,0.01) 191px 195px,rgba(0,0,0,0.04) 195px 199px,rgba(255,255,255,0.00) 199px 201px,rgba(0,0,0,0.02) 201px 202px)"></i>
<i style="left:513px;top:4px;width:1px;height:202px;background:linear-gradient(#56c56d 0,#3dba62 121.5px,#2aaa7c 150.5px,#2092af 171.5px,#2095a9 184.5px,#32b26c 194.5px,#46be66 201.5px)"></i>
<i style="left:514px;top:4px;width:1px;height:202px;background:linear-gradient(#5cc870 0,#45be66 121.5px,#30b070 149.5px,#209b9c 173.5px,#209e94 184.5px,#3cba62 196.5px,#4dc169 201.5px)"></i>
<i style="left:515px;top:4px;width:1px;height:202px;background:linear-gradient(#55c56d 0,#40bc64 120.5px,#2dad76 149.5px,#2095aa 172.5px,#2099a0 184.5px,#3ab961 197.5px,#47bf67 201.5px)"></i>
<i style="left:516px;top:4px;width:1px;height:202px;background:linear-gradient(#69ce76 0,#56c56d 120.5px,#33b36a 153.5px,#26a684 176.5px,#2faf71 187.5px,#41bc64 193.5px,#5cc870 201.5px)"></i>
<i style="left:517px;top:4px;width:1px;height:202px;background:linear-gradient(#5ac76f 0,#49c068 120.5px,#33b36a 148.5px,#209d97 173.5px,#28a880 187.5px,#3dba62 196.5px,#4dc169 201.5px)"></i>
<i style="left:518px;top:4px;width:1px;height:202px;background:linear-gradient(#83d981 0,#77d47c 113.5px,#4fc26a 152.5px,#36b665 176.5px,#49c068 188.5px,#76d47c 201.5px)"></i>
<i style="left:519px;top:4px;width:1px;height:202px;background:linear-gradient(#55c56d 0,#48bf67 120.5px,#32b26c 148.5px,#209a9d 173.5px,#27a782 187.5px,#3dba62 197.5px,#4ac068 201.5px)"></i>
<i style="left:520px;top:4px;width:1px;height:202px;background:linear-gradient(#56c56d 0,#4bc169 120.5px,#34b469 148.5px,#209d97 173.5px,#29a97f 187.5px,#3dba62 196.5px,#4cc169 201.5px)"></i>
<i style="left:521px;top:4px;width:1px;height:202px;background:linear-gradient(#51c36b 0,#49bf67 120.5px,#32b26c 148.5px,#20999f 172.5px,#25a586 186.5px,#3fbb63 198.5px,#48bf67 201.5px)"></i>
<i style="left:522px;top:4px;width:1px;height:202px;background:linear-gradient(#6fd179 0,#69ce76 120.5px,#3fbb63 154.5px,#30b071 180.5px,#48bf67 191.5px,#67cd75 201.5px)"></i>
<i style="left:523px;top:4px;width:1px;height:202px;background:linear-gradient(#55c56d 0,#50c36b 120.5px,#33b369 150.5px,#20a08f 173.5px,#2bab7a 187.5px,#3fbb63 196.5px,#4dc169 201.5px)"></i>
<i style="left:524px;top:4px;width:1px;height:202px;background:linear-gradient(#7cd67e 0,#7cd67e 114.5px,#50c36b 154.5px,#37b762 176.5px,#58c66e 191.5px,#75d37b 201.5px)"></i>
<i style="left:525px;top:4px;width:1px;height:202px;background:linear-gradient(#5cc870 0,#5cc870 120.5px,#34b469 155.5px,#26a684 175.5px,#35b565 189.5px,#56c56d 201.5px)"></i>
<i style="left:526px;top:4px;width:1px;height:202px;background:linear-gradient(#77d47c 0,#7ad57d 117.5px,#4bc068 156.5px,#36b664 177.5px,#72d27a 201.5px)"></i>
<i style="left:527px;top:4px;width:1px;height:202px;background:linear-gradient(#8edb84 0,#97dd86 111.5px,#68cd75 153.5px,#4bc068 175.5px,#77d47c 194.5px,#89da83 201.5px)"></i>
<i style="left:528px;top:4px;width:1px;height:202px;background:linear-gradient(#5ec971 0,#64cc74 120.5px,#35b567 158.5px,#29a97d 176.5px,#44bd65 192.5px,#5ac76f 201.5px)"></i>
<i style="left:529px;top:4px;width:1px;height:202px;background:linear-gradient(#37b762 0,#3ebb63 121.5px,#2aaa7c 149.5px,#2093ad 163.5px,#2088c5 171.5px,#208fb6 181.5px,#2dad76 194.5px,#36b665 201.5px)"></i>
<i style="left:530px;top:4px;width:1px;height:202px;background:linear-gradient(#78d47c 0,#84d981 115.5px,#4fc26a 158.5px,#3ab961 176.5px,#76d37b 201.5px)"></i>
<i style="left:531px;top:4px;width:1px;height:202px;background:linear-gradient(#78d57d 0,#87da82 115.5px,#50c26a 159.5px,#3cba62 177.5px,#77d47c 201.5px)"></i>
<i style="left:532px;top:4px;width:1px;height:202px;background:linear-gradient(#6dcf77 0,#7cd67e 117.5px,#44bd65 160.5px,#37b763 179.5px,#6ccf77 201.5px)"></i>
<i style="left:533px;top:4px;width:1px;height:202px;background:linear-gradient(#6ed078 0,#80d880 115.5px,#4ac068 159.5px,#36b663 177.5px,#6fd078 201.5px)"></i>
<i style="left:534px;top:4px;width:1px;height:202px;background:linear-gradient(#84d981 0,#9cdf88 112.5px,#72d27a 150.5px,#4bc169 173.5px,#85d981 201.5px)"></i>
<i style="left:535px;top:4px;width:1px;height:202px;background:linear-gradient(#53c46c 0,#69ce76 117.5px,#33b369 160.5px,#29a97e 175.5px,#41bc64 191.5px,#55c56d 201.5px)"></i>
<i style="left:536px;top:4px;width:1px;height:202px;background:linear-gradient(#6fd179 0,#89da83 114.5px,#56c56d 157.5px,#3cba62 174.5px,#73d27a 201.5px)"></i>
<i style="left:537px;top:4px;width:1px;height:202px;background:linear-gradient(#93dc85 0,#b2e48e 112.5px,#90dc85 144.5px,#5fc971 173.5px,#98de87 201.5px)"></i>
<i style="left:538px;top:4px;width:1px;height:202px;background:linear-gradient(#67cd75 0,#84d981 113.5px,#56c56d 155.5px,#38b860 174.5px,#6dcf77 201.5px)"></i>
<i style="left:539px;top:4px;width:1px;height:202px;background:linear-gradient(#70d179 0,#92dc85 112.5px,#6dd078 147.5px,#44bd65 174.5px,#77d47c 201.5px)"></i>
<i style="left:540px;top:4px;width:1px;height:202px;background:linear-gradient(#70d179 0,#93dd85 112.5px,#70d179 146.5px,#46be66 174.5px,#78d47c 201.5px)"></i>
<i style="left:541px;top:4px;width:1px;height:202px;background:linear-gradient(#85d981 0,#ace28d 110.5px,#90dc85 140.5px,#5dc870 174.5px,#90dc85 201.5px)"></i>
<i style="left:542px;top:4px;width:1px;height:202px;background:linear-gradient(#57c66e 0,#77d47c 114.5px,#49bf67 157.5px,#35b567 177.5px,#61ca72 201.5px)"></i>
<i style="left:543px;top:4px;width:1px;height:202px;background:linear-gradient(#6ccf77 0,#90dc85 112.5px,#67cd75 152.5px,#4ac068 175.5px,#78d47c 201.5px)"></i>
<i style="left:544px;top:4px;width:1px;height:202px;background:linear-gradient(#82d981 0,#abe28c 107.5px,#91dc85 140.5px,#62cb73 175.5px,#92dc85 201.5px)"></i>
<i style="left:545px;top:4px;width:1px;height:202px;background:linear-gradient(#8bdb83 0,#b5e58f 106.5px,#9bde88 140.5px,#6ccf77 175.5px,#9cdf88 201.5px)"></i>
<i style="left:546px;top:4px;width:1px;height:202px;background:linear-gradient(#60ca72 0,#83d981 112.5px,#54c56d 159.5px,#47bf67 179.5px,#70d179 201.5px)"></i>
<i style="left:547px;top:4px;width:1px;height:202px;background:linear-gradient(#7cd67e 0,#a6e18b 105.5px,#8cdb83 141.5px,#64cb73 176.5px,#8fdc84 201.5px)"></i>
<i style="left:548px;top:4px;width:1px;height:202px;background:linear-gradient(#71d179 0,#9ade87 108.5px,#7ad57d 146.5px,#5cc870 177.5px,#84d981 201.5px)"></i>
<i style="left:549px;top:4px;width:1px;height:202px;background:linear-gradient(#7cd67e 0,#a8e28c 103.5px,#8ddb84 142.5px,#69ce76 177.5px,#93dd85 201.5px)"></i>
<i style="left:550px;top:4px;width:1px;height:202px;background:linear-gradient(#91dc85 0,#c0e792 101.5px,#a6e18b 141.5px,#7fd880 176.5px,#abe28c 201.5px)"></i>
<i style="left:551px;top:4px;width:1px;height:202px;background:linear-gradient(#5bc76f 0,#82d881 106.5px,#60ca72 153.5px,#50c36b 180.5px,#72d27a 201.5px)"></i>
<i style="left:552px;top:4px;width:1px;height:202px;background:linear-gradient(#67cd75 0,#90dc85 107.5px,#6bcf77 155.5px,#61ca72 182.5px,#7fd880 201.5px)"></i>
<i style="left:553px;top:4px;width:1px;height:202px;background:linear-gradient(#70d179 0,#9ddf88 103.5px,#81d880 145.5px,#6bcf77 180.5px,#8cdb83 201.5px)"></i>
<i style="left:554px;top:4px;width:1px;height:202px;background:linear-gradient(#52c36b 0,#7bd67e 103.5px,#5bc870 153.5px,#51c36b 183.5px,#6dd078 201.5px)"></i>
<i style="left:555px;top:4px;width:1px;height:202px;background:linear-gradient(#58c66e 0,#82d881 102.5px,#62ca72 154.5px,#5cc870 185.5px,#75d37b 201.5px)"></i>
<i style="left:556px;top:4px;width:1px;height:202px;background:linear-gradient(#72d27a 0,#a2e08a 99.5px,#86d982 146.5px,#75d37b 182.5px,#93dd85 201.5px)"></i>
<i style="left:557px;top:4px;width:1px;height:202px;background:linear-gradient(#81d880 0,#b5e58f 95.5px,#9ade87 145.5px,#87da82 181.5px,#a6e18b 201.5px)"></i>
<i style="left:558px;top:4px;width:1px;height:202px;background:linear-gradient(#79d57d 0,#ace28d 96.5px,#90dc85 147.5px,#83d981 184.5px,#9fdf89 201.5px)"></i>
<i style="left:559px;top:4px;width:1px;height:202px;background:linear-gradient(#6fd078 0,#a0e089 98.5px,#83d981 149.5px,#7ed77f 188.5px,#94dd86 201.5px)"></i>
<i style="left:560px;top:4px;width:1px;height:202px;background:linear-gradient(#77d47c 0,#abe28c 94.5px,#91dc85 147.5px,#8ddb84 191.5px,#a0e089 201.5px)"></i>
<i style="left:561px;top:4px;width:1px;height:202px;background:linear-gradient(#80d880 0,#b2e48e 85.5px,#a1e089 143.5px,#98de87 190.5px,#abe28c 201.5px)"></i>
<i style="left:562px;top:4px;width:1px;height:202px;background:linear-gradient(#7fd77f 0,#b1e48e 84.5px,#a1e089 143.5px,#9ddf88 164.5px,#9bdf88 193.5px,#ace28c 201.5px)"></i>
<i style="left:563px;top:4px;width:1px;height:202px;background:linear-gradient(#5fc971 0,#90dc84 98.5px,#7bd67e 161.5px,#7cd67e 180.5px,#7ed77f 196.5px,#88da82 201.5px)"></i>
<i style="left:564px;top:4px;width:1px;height:202px;background:linear-gradient(#5dc971 0,#8fdc84 97.5px,#7cd67e 160.5px,#8ada83 177.5px,#75d37b 187.5px,#88da82 201.5px)"></i>
<i style="left:565px;top:4px;width:1px;height:202px;background:linear-gradient(#88da82 0,#bbe691 79.5px,#ade38d 144.5px,#b3e48f 160.5px,#c4e893 174.5px,#a8e28c 188.5px,#bae691 201.5px)"></i>
<i style="left:566px;top:4px;width:1px;height:202px;background:linear-gradient(#5bc76f 0,#8ddb84 95.5px,#80d880 157.5px,#9ade87 172.5px,#86da82 181.5px,#7ed77f 196.5px,#88da82 201.5px)"></i>
<i style="left:567px;top:4px;width:1px;height:202px;background:linear-gradient(#8ada83 0,#bce691 76.5px,#b9e690 155.5px,#d6ec97 172.5px,#c4e893 181.5px,#b2e48e 195.5px,#bfe792 201.5px)"></i>
<i style="left:568px;top:4px;width:1px;height:202px;background:linear-gradient(#85d981 0,#b8e590 75.5px,#aee38d 144.5px,#d8ec96 172.5px,#c7e994 181.5px,#b1e48e 196.5px,#bce691 201.5px)"></i>
<i style="left:569px;top:4px;width:1px;height:202px;background:linear-gradient(#6dd078 0,#9fdf89 81.5px,#9cdf88 149.5px,#cbea95 171.5px,#bae690 180.5px,#94dd86 194.5px,#a3e08a 201.5px)"></i>
<i style="left:570px;top:4px;width:1px;height:202px;background:linear-gradient(#7bd67e 0,#ade38d 75.5px,#b1e48e 149.5px,#dbed94 169.5px,#ccea96 181.5px,#a9e28c 195.5px,#b5e58f 201.5px)"></i>
<i style="left:571px;top:4px;width:1px;height:202px;background:linear-gradient(#85d981 0,#b7e590 74.5px,#c1e793 148.5px,#e4ed8f 170.5px,#c7e994 187.5px,#bce691 197.5px,#c3e893 201.5px)"></i>
<i style="left:572px;top:4px;width:1px;height:202px;background:linear-gradient(#73d27a 0,#a4e08a 80.5px,#b4e48f 148.5px,#dfed91 167.5px,#ceea96 182.5px,#a7e18b 195.5px,#b1e48e 201.5px)"></i>
<i style="left:573px;top:4px;width:1px;height:202px;background:linear-gradient(#6bcf77 0,#9bde88 85.5px,#abe28c 146.5px,#dced93 164.5px,#d3ec98 181.5px,#a2e08a 195.5px,#abe28c 201.5px)"></i>
<i style="left:574px;top:4px;width:1px;height:202px;background:linear-gradient(#84d981 0,#b5e58f 76.5px,#cdea96 145.5px,#ebe787 165.5px,#e3ed8f 181.5px,#c4e894 196.5px,#cbea95 201.5px)"></i>
<i style="left:575px;top:4px;width:1px;height:202px;background:linear-gradient(#82d981 0,#b2e48e 77.5px,#ccea96 142.5px,#ebe787 160.5px,#cdbc80 168.5px,#edee8a 180.5px,#c6e994 196.5px,#ccea96 201.5px)"></i>
<i style="left:576px;top:4px;width:1px;height:202px;background:linear-gradient(#8cdb83 0,#bce691 77.5px,#dded93 147.5px,#ebe787 157.5px,#ac9472 168.5px,#d8cc83 179.5px,#f0ee88 182.5px,#d5ec97 198.5px,#d6ec97 201.5px)"></i>
<i style="left:577px;top:4px;width:1px;height:202px;background:linear-gradient(#65cc74 0,#94dd86 93.5px,#b4e48f 141.5px,#e2ed90 156.5px,#eae687 159.5px,#a89070 168.5px,#d2c481 178.5px,#eeee89 181.5px,#c2e893 189.5px,#ade38d 196.5px,#b1e48e 201.5px)"></i>
<i style="left:578px;top:4px;width:1px;height:202px;background:linear-gradient(#7dd77f 0,#abe28c 80.5px,#ceea96 138.5px,#eae587 155.5px,#9d816b 165.5px,#997c69 171.5px,#ae9773 178.5px,#ecee8a 183.5px,#cdea96 197.5px,#d0eb97 201.5px)"></i>
<i style="left:579px;top:4px;width:1px;height:202px;background:linear-gradient(#77d47c 0,#a4e18a 84.5px,#c8e995 137.5px,#ece887 151.5px,#9a7d69 164.5px,#967666 172.5px,#a2886d 178.5px,#eeee89 183.5px,#c9e995 197.5px,#cbea96 201.5px)"></i>
<i style="left:580px;top:4px;width:1px;height:202px;background:linear-gradient(#89da82 0,#b6e58f 80.5px,#e4ed8f 145.5px,#eae587 148.5px,#a58c6e 157.5px,#936c60 170.5px,#957465 178.5px,#c8b67e 182.5px,#eae587 185.5px,#daec95 201.5px)"></i>
<i style="left:581px;top:4px;width:1px;height:202px;background:linear-gradient(#71d179 0,#9edf89 90.5px,#c5e894 135.5px,#eeeb88 148.5px,#a2876d 156.5px,#946f62 174.5px,#9a7c69 179.5px,#e4dd85 185.5px,#ebee8b 188.5px,#caea95 196.5px,#cbea95 201.5px)"></i>
<i style="left:582px;top:4px;width:1px;height:202px;background:linear-gradient(#64cc74 0,#abe28c 128.5px,#deed92 146.5px,#ede987 148.5px,#a3896e 154.5px,#957364 164.5px,#987a68 179.5px,#efee89 188.5px,#bfe792 195.5px,#bfe792 201.5px)"></i>
<i style="left:583px;top:4px;width:1px;height:202px;background:linear-gradient(#7bd67e 0,#a7e18b 86.5px,#d2ec97 132.5px,#edee8a 146.5px,#9c806a 153.5px,#936c60 160.5px,#957365 180.5px,#d6c982 188.5px,#edee8a 191.5px,#d8ec96 197.5px,#d8ec96 201.5px)"></i>
<i style="left:584px;top:4px;width:1px;height:202px;background:linear-gradient(#58c66e 0,#98de87 122.5px,#dfed92 146.5px,#eae687 148.5px,#9f836b 154.5px,#957364 162.5px,#967667 180.5px,#c6b37d 186.5px,#ebee8b 190.5px,#b9e690 195.5px,#b7e590 201.5px)"></i>
<i style="left:585px;top:4px;width:1px;height:202px;background:linear-gradient(#64cc74 0,#a3e08a 118.5px,#cbea95 136.5px,#efee88 146.5px,#a0846c 153.5px,#947062 160.5px,#957465 182.5px,#bba778 187.5px,#edee8a 191.5px,#cbea95 195.5px,#c8e995 201.5px)"></i>
<i style="left:586px;top:4px;width:1px;height:202px;background:linear-gradient(#72d27a 0,#b1e48e 115.5px,#daec95 136.5px,#eae587 142.5px,#977968 153.5px,#987066 170.5px,#9a7369 179.5px,#957364 184.5px,#b8a377 188.5px,#ebee8b 192.5px,#d9ec95 196.5px,#d7ec96 201.5px)"></i>
<i style="left:587px;top:4px;width:1px;height:202px;background:linear-gradient(#8ada83 0,#b4e48f 87.5px,#e4ed8f 135.5px,#ebe787 138.5px,#a0866c 148.5px,#966e64 157.5px,#a8837b 179.5px,#947163 185.5px,#b59f75 189.5px,#ecee8a 193.5px,#e4ed8f 201.5px)"></i>
<i style="left:588px;top:4px;width:1px;height:202px;background:linear-gradient(#5cc870 0,#91dc85 109.5px,#b6e58f 130.5px,#dced93 137.5px,#eae687 140.5px,#a89070 147.5px,#946f62 160.5px,#9e776d 175.5px,#976f64 180.5px,#997c69 185.5px,#cdbd80 189.5px,#edea87 191.5px,#ceea96 195.5px,#c8e994 201.5px)"></i>
<i style="left:589px;top:4px;width:1px;height:202px;background:linear-gradient(#6ccf77 0,#a3e08a 108.5px,#cbea96 130.5px,#ede987 138.5px,#9e826b 145.5px,#956d62 164.5px,#ab877f 178.5px,#936d60 184.5px,#ad9672 188.5px,#efee88 192.5px,#dbec94 196.5px,#d8ec96 201.5px)"></i>
<i style="left:590px;top:4px;width:1px;height:202px;background:linear-gradient(#6dcf77 0,#a2e08a 107.5px,#cbea95 129.5px,#ecee8a 137.5px,#9e826b 144.5px,#92695e 158.5px,#b19189 175.5px,#b89a94 178.5px,#926a5f 184.5px,#a89070 188.5px,#eeeb87 192.5px,#dbed94 198.5px,#daec95 201.5px)"></i>
<i style="left:591px;top:4px;width:1px;height:202px;background:linear-gradient(#51c36b 0,#82d881 106.5px,#afe38d 129.5px,#d6ec97 136.5px,#e9e486 139.5px,#9f846c 145.5px,#976f65 167.5px,#b89b94 176.5px,#bb9e99 178.5px,#926a5f 183.5px,#a58d6f 187.5px,#eae587 191.5px,#ccea96 196.5px,#c5e894 201.5px)"></i>
<i style="left:592px;top:4px;width:1px;height:202px;background:linear-gradient(#7ad57d 0,#afe38d 104.5px,#e4ed8f 133.5px,#efee89 136.5px,#9f846c 143.5px,#936b5f 151.5px,#b08e87 168.5px,#e0d5d5 176.5px,#dccece 179.5px,#a68279 183.5px,#92695e 185.5px,#a99170 189.5px,#efee89 193.5px,#e3ed90 201.5px)"></i>
<i style="left:593px;top:4px;width:1px;height:202px;background:linear-gradient(#69ce76 0,#98de87 102.5px,#cdea96 127.5px,#efee88 136.5px,#a3896d 143.5px,#947062 150.5px,#9b746a 160.5px,#af8d85 168.5px,#e0d5d5 175.5px,#ded2d2 179.5px,#a48077 183.5px,#936b5f 185.5px,#b09973 189.5px,#e7e286 192.5px,#dfed92 197.5px,#dced94 201.5px)"></i>
<i style="left:594px;top:4px;width:1px;height:202px;background:linear-gradient(#6ed078 0,#9edf88 102.5px,#deed92 129.5px,#eae587 135.5px,#9f846c 143.5px,#92695e 154.5px,#b59690 167.5px,#ded2d2 172.5px,#eee7e7 178.5px,#d1bfbd 181.5px,#ab887f 183.5px,#946c61 185.5px,#a89070 189.5px,#edee8a 193.5px,#dfed92 201.5px)"></i>
<i style="left:595px;top:4px;width:1px;height:202px;background:linear-gradient(#76d47c 0,#a5e18b 101.5px,#e2ed90 128.5px,#ebe787 132.5px,#967767 144.5px,#997167 155.5px,#ba9d98 165.5px,#e6dcdc 172.5px,#f8f5f5 178.5px,#dfd3d3 181.5px,#a7827a 184.5px,#926a5f 186.5px,#ab9471 190.5px,#ece987 194.5px,#ebee8b 201.5px)"></i>
<i style="left:596px;top:4px;width:1px;height:202px;background:linear-gradient(#5dc870 0,#88da82 101.5px,#c6e994 126.5px,#ebe787 133.5px,#9d816a 144.5px,#976f65 157.5px,#bda29c 167.5px,#e0d4d4 171.5px,#f5f2f2 178.5px,#dbcecd 181.5px,#ad8a82 183.5px,#936c60 186.5px,#aa9271 190.5px,#e5de85 194.5px,#edee8a 201.5px)"></i>
<i style="left:597px;top:4px;width:1px;height:202px;background:linear-gradient(#5dc971 0,#86d982 100.5px,#cbea95 126.5px,#efee88 131.5px,#9f846c 143.5px,#966e64 156.5px,#bb9f99 166.5px,#e0d5d5 171.5px,#f6f2f2 178.5px,#ddd0d0 181.5px,#b19089 183.5px,#936a60 186.5px,#a88f70 191.5px,#cebe80 194.5px,#e1d985 201.5px)"></i>
<i style="left:598px;top:4px;width:1px;height:202px;background:linear-gradient(#8bdb83 0,#b9e690 100.5px,#e8ed8d 126.5px,#dacf83 130.5px,#a1876d 138.5px,#976f64 149.5px,#bea39e 161.5px,#ffffff 177.5px,#e1d5d5 182.5px,#a9867d 186.5px,#926a5f 189.5px,#b39d75 201.5px)"></i>
<i style="left:599px;top:4px;width:1px;height:202px;background:linear-gradient(#71d179 0,#99de87 99.5px,#dded93 126.5px,#f0ee88 129.5px,#a58c6f 139.5px,#946b61 151.5px,#bfa49f 165.5px,#ece5e5 173.5px,#fbf9f9 178.5px,#dccfcf 182.5px,#ac8981 185.5px,#936d61 190.5px,#b09973 201.5px)"></i>
<i style="left:600px;top:4px;width:1px;height:202px;background:linear-gradient(#84d981 0,#aee38d 99.5px,#e1ed91 124.5px,#e5de85 129.5px,#a3896d 138.5px,#966e63 149.5px,#c5ada9 164.5px,#ffffff 177.5px,#d8c9c9 183.5px,#ab877f 187.5px,#936d60 192.5px,#a1866d 201.5px)"></i>
<i style="left:601px;top:4px;width:1px;height:202px;background:linear-gradient(#88da82 0,#b0e48e 99.5px,#e1ed90 124.5px,#ebe787 128.5px,#a48b6e 137.5px,#956d62 148.5px,#bda29d 162.5px,#ffffff 177.5px,#ded1d1 183.5px,#a8847c 188.5px,#936b5f 192.5px,#9f846c 201.5px)"></i>
<i style="left:602px;top:4px;width:1px;height:202px;background:linear-gradient(#73d27a 0,#99de87 100.5px,#e2ed90 127.5px,#f0ee88 129.5px,#a68e6f 138.5px,#92695e 150.5px,#b99c96 165.5px,#c9b4b0 168.5px,#e3d8d8 171.5px,#fdfcfc 178.5px,#d2c1bf 183.5px,#a7837a 187.5px,#936b60 191.5px,#a58c6e 201.5px)"></i>
<i style="left:603px;top:4px;width:1px;height:202px;background:linear-gradient(#59c76f 0,#7bd67e 100.5px,#c3e893 126.5px,#eeee89 131.5px,#a1866c 142.5px,#936a5f 155.5px,#af8d85 167.5px,#e1d6d6 172.5px,#f7f4f4 178.5px,#dfd4d4 181.5px,#ac8981 184.5px,#926b5f 189.5px,#b09a74 201.5px)"></i>
<i style="left:604px;top:4px;width:1px;height:202px;background:linear-gradient(#89da83 0,#aee38d 100.5px,#e1ed90 126.5px,#e5de86 130.5px,#997b68 141.5px,#976f64 148.5px,#b79892 162.5px,#d3c2c1 168.5px,#ffffff 177.5px,#e1d5d5 182.5px,#b08e87 186.5px,#926a5f 192.5px,#9d816a 201.5px)"></i>
<i style="left:605px;top:4px;width:1px;height:202px;background:linear-gradient(#61ca72 0,#82d881 101.5px,#c3e893 126.5px,#f0ee88 133.5px,#977867 144.5px,#976f65 157.5px,#b69790 168.5px,#e0d4d4 172.5px,#f5f1f1 178.5px,#dccfcf 181.5px,#b08f88 183.5px,#926b5f 189.5px,#a89170 201.5px)"></i>
<i style="left:606px;top:4px;width:1px;height:202px;background:linear-gradient(#5ac76f 0,#78d47c 101.5px,#b5e58f 126.5px,#e4ed8f 133.5px,#ede987 136.5px,#a0846c 143.5px,#936e61 151.5px,#9f786f 163.5px,#b3938c 169.5px,#e0d4d4 174.5px,#e9e1e1 178.5px,#dacccc 180.5px,#a78279 183.5px,#936b5f 188.5px,#ac9572 201.5px)"></i>
<i style="left:607px;top:4px;width:1px;height:202px;background:linear-gradient(#68cd75 0,#86d982 101.5px,#c9e995 127.5px,#f0ee88 136.5px,#a1866d 143.5px,#946e61 150.5px,#a37e75 164.5px,#b3938c 169.5px,#dfd3d3 175.5px,#ded1d1 179.5px,#a78279 183.5px,#936d61 190.5px,#a58b6e 201.5px)"></i>
<i style="left:608px;top:4px;width:1px;height:202px;background:linear-gradient(#6fd078 0,#8bdb83 101.5px,#cfeb97 128.5px,#edea87 137.5px,#9f846c 145.5px,#966e63 156.5px,#b3938d 170.5px,#ddd0d0 177.5px,#cfbcba 179.5px,#a48077 183.5px,#936c60 190.5px,#a2886d 201.5px)"></i>
<i style="left:609px;top:4px;width:1px;height:202px;background:linear-gradient(#66cd75 0,#80d880 102.5px,#bce691 128.5px,#edee89 138.5px,#a2886d 148.5px,#946c61 158.5px,#b3938b 174.5px,#bda19c 178.5px,#9a7369 184.5px,#957264 192.5px,#a48a6e 201.5px)"></i>
<i style="left:610px;top:4px;width:1px;height:202px;background:linear-gradient(#54c46c 0,#6dcf77 103.5px,#9ddf88 128.5px,#e1ed91 139.5px,#e7e186 143.5px,#987a68 153.5px,#976f65 168.5px,#9c756b 180.5px,#947163 189.5px,#aa9271 201.5px)"></i>
<i style="left:611px;top:4px;width:1px;height:202px;background:linear-gradient(#66cd75 0,#80d880 105.5px,#afe38e 129.5px,#e4ed8f 140.5px,#eae587 144.5px,#9c7f6a 152.5px,#936a5f 159.5px,#9c756b 181.5px,#947163 192.5px,#a2886d 201.5px)"></i>
<i style="left:612px;top:4px;width:1px;height:202px;background:linear-gradient(#46be66 0,#5fc971 106.5px,#85d981 130.5px,#c0e792 140.5px,#efee89 147.5px,#a2886d 153.5px,#947163 158.5px,#957364 186.5px,#bba678 201.5px)"></i>
<i style="left:613px;top:4px;width:1px;height:202px;background:linear-gradient(#56c56d 0,#6fd179 109.5px,#92dc85 131.5px,#cbea95 141.5px,#eeee89 147.5px,#9e826b 154.5px,#92695e 169.5px,#967566 187.5px,#c8b67e 201.5px)"></i>
<i style="left:614px;top:4px;width:1px;height:202px;background:linear-gradient(#47bf67 0,#60ca72 112.5px,#82d881 135.5px,#dded93 147.5px,#e8e286 150.5px,#a89070 156.5px,#936d61 172.5px,#997c69 186.5px,#dace83 195.5px,#e8e286 201.5px)"></i>
<i style="left:615px;top:4px;width:1px;height:202px;background:linear-gradient(#37b763 0,#4fc26a 116.5px,#72d27a 137.5px,#ade38d 146.5px,#e6ed8e 151.5px,#e3dc85 154.5px,#9e836b 164.5px,#947163 176.5px,#a3896e 185.5px,#ece887 192.5px,#dded93 201.5px)"></i>
<i style="left:616px;top:4px;width:1px;height:202px;background:linear-gradient(#4ac068 0,#63cb73 118.5px,#87da82 138.5px,#c1e893 147.5px,#efee89 154.5px,#9d816b 165.5px,#936e61 178.5px,#b9a477 186.5px,#eeee89 192.5px,#dded93 201.5px)"></i>
<i style="left:617px;top:4px;width:1px;height:202px;background:linear-gradient(#3ebb63 0,#56c66e 120.5px,#7dd77f 140.5px,#b6e58f 149.5px,#eaee8b 157.5px,#e0d784 160.5px,#a48b6e 168.5px,#967767 178.5px,#eeec88 189.5px,#d5ec98 199.5px,#d2ec97 201.5px)"></i>
<i style="left:618px;top:4px;width:1px;height:202px;background:linear-gradient(#2eae75 0,#41bc64 127.5px,#74d37b 145.5px,#deed92 159.5px,#e8e286 164.5px,#b7a276 175.5px,#b49e75 178.5px,#f0ed88 183.5px,#c1e792 192.5px,#aae28c 201.5px)"></i>
<i style="left:619px;top:4px;width:1px;height:202px;background:linear-gradient(#29a97f 0,#34b467 122.5px,#4ec26a 138.5px,#c4e894 159.5px,#edea87 170.5px,#d8cc82 178.5px,#ebee8b 181.5px,#c0e792 188.5px,#9ade87 196.5px,#95dd86 201.5px)"></i>
<i style="left:620px;top:4px;width:1px;height:202px;background:linear-gradient(#2eae73 0,#41bc64 129.5px,#66cc74 141.5px,#b2e48e 159.5px,#deed92 168.5px,#e9ee8c 179.5px,#bbe691 187.5px,#92dc85 196.5px,#8fdc84 201.5px)"></i>
<i style="left:621px;top:4px;width:1px;height:202px;background:linear-gradient(#3ab961 0,#54c46c 130.5px,#82d981 144.5px,#9bde88 157.5px,#daec95 168.5px,#dbed94 180.5px,#8edb84 195.5px,#8ddb84 201.5px)"></i>
<i style="left:622px;top:4px;width:1px;height:202px;background:linear-gradient(#46be66 0,#63cb73 133.5px,#8fdc84 148.5px,#94dd86 157.5px,#d6ec97 171.5px,#d4ec98 180.5px,#9edf89 189.5px,#8bdb83 199.5px,#8bdb83 201.5px)"></i>
<i style="left:623px;top:4px;width:1px;height:202px;background:linear-gradient(#30b070 0,#45be66 133.5px,#6ace76 149.5px,#78d57d 161.5px,#a5e18b 178.5px,#73d27a 185.5px,#67cd75 201.5px)"></i>
<i style="left:624px;top:4px;width:1px;height:202px;background:linear-gradient(#42bc64 0,#5cc870 133.5px,#7bd67e 150.5px,#9cdf88 174.5px,#9bde88 179.5px,#7cd67e 186.5px,#79d57d 201.5px)"></i>
<i style="left:625px;top:4px;width:1px;height:202px;background:linear-gradient(#4cc169 0,#65cc74 133.5px,#7fd880 151.5px,#8bdb83 180.5px,#7ed77f 201.5px)"></i>
<i style="left:626px;top:4px;width:1px;height:202px;background:linear-gradient(#30b06f 0,#43bd65 133.5px,#58c66e 154.5px,#57c66e 201.5px)"></i>
<i style="left:627px;top:4px;width:1px;height:202px;background:linear-gradient(#3ebb63 0,#57c66e 133.5px,#69ce76 167.5px,#67cd75 201.5px)"></i>
<i style="left:628px;top:4px;width:1px;height:202px;background:linear-gradient(#30b070 0,#43bd65 133.5px,#4dc169 201.5px)"></i>
<i style="left:629px;top:4px;width:1px;height:202px;background:linear-gradient(#44bd65 0,#5cc870 132.5px,#63cb73 201.5px)"></i>
<i style="left:513px;top:4px;width:117px;height:202px;background:linear-gradient(rgba(0,0,0,0.03) 0px 2px,rgba(0,0,0,0.05) 2px 3px,rgba(0,0,0,0.05) 3px 5px,rgba(255,255,255,0.03) 5px 6px,rgba(255,255,255,0.04) 6px 8px,rgba(0,0,0,0.03) 8px 9px,rgba(0,0,0,0.03) 9px 11px,rgba(255,255,255,0.00) 11px 13px,rgba(255,255,255,0.02) 13px 15px,rgba(0,0,0,0.01) 15px 16px,rgba(255,255,255,0.07) 16px 17px,rgba(255,255,255,0.01) 17px 19px,rgba(255,255,255,0.05) 19px 21px,rgba(255,255,255,0.05) 21px 23px,rgba(255,255,255,0.01) 23px 24px,rgba(255,255,255,0.07) 24px 25px,rgba(0,0,0,0.03) 25px 26px,rgba(255,255,255,0.02) 26px 27px,rgba(255,255,255,0.06) 27px 29px,rgba(255,255,255,0.03) 29px 30px,rgba(255,255,255,0.12) 30px 32px,rgba(0,0,0,0.03) 32px 34px,rgba(0,0,0,0.04) 34px 35px,rgba(0,0,0,0.04) 35px 36px,rgba(255,255,255,0.05) 36px 38px,rgba(0,0,0,0.01) 38px 40px,rgba(0,0,0,0.04) 40px 42px,rgba(255,255,255,0.04) 42px 43px,rgba(255,255,255,0.03) 43px 44px,rgba(255,255,255,0.08) 44px 46px,rgba(0,0,0,0.00) 46px 48px,rgba(0,0,0,0.00) 48px 49px,rgba(0,0,0,0.02) 49px 50px,rgba(0,0,0,0.02) 50px 52px,rgba(0,0,0,0.01) 52px 53px,rgba(255,255,255,0.11) 53px 55px,rgba(255,255,255,0.00) 55px 56px,rgba(255,255,255,0.10) 56px 58px,rgba(0,0,0,0.01) 58px 60px,rgba(255,255,255,0.12) 60px 62px,rgba(0,0,0,0.00) 62px 64px,rgba(255,255,255,0.01) 64px 66px,rgba(255,255,255,0.13) 66px 67px,rgba(0,0,0,0.02) 67px 69px,rgba(255,255,255,0.02) 69px 70px,rgba(0,0,0,0.04) 70px 71px,rgba(0,0,0,0.01) 71px 72px,rgba(255,255,255,0.06) 72px 74px,rgba(255,255,255,0.11) 74px 75px,rgba(0,0,0,0.03) 75px 77px,rgba(0,0,0,0.02) 77px 78px,rgba(0,0,0,0.00) 78px 79px,rgba(255,255,255,0.03) 79px 80px,rgba(0,0,0,0.02) 80px 81px,rgba(0,0,0,0.00) 81px 83px,rgba(0,0,0,0.01) 83px 84px,rgba(255,255,255,0.08) 84px 85px,rgba(0,0,0,0.02) 85px 86px,rgba(255,255,255,0.01) 86px 87px,rgba(0,0,0,0.03) 87px 89px,rgba(0,0,0,0.02) 89px 90px,rgba(255,255,255,0.10) 90px 92px,rgba(255,255,255,0.10) 92px 93px,rgba(0,0,0,0.01) 93px 94px,rgba(0,0,0,0.02) 94px 95px,rgba(0,0,0,0.00) 95px 97px,rgba(0,0,0,0.04) 97px 98px,rgba(255,255,255,0.04) 98px 100px,rgba(0,0,0,0.00) 100px 101px,rgba(0,0,0,0.02) 101px 102px,rgba(0,0,0,0.02) 102px 103px,rgba(255,255,255,0.04) 103px 104px,rgba(0,0,0,0.03) 104px 106px,rgba(255,255,255,0.03) 106px 108px,rgba(0,0,0,0.02) 108px 109px,rgba(255,255,255,0.01) 109px 111px,rgba(0,0,0,0.05) 111px 113px,rgba(0,0,0,0.02) 113px 115px,rgba(255,255,255,0.05) 115px 116px,rgba(0,0,0,0.01) 116px 118px,rgba(0,0,0,0.03) 118px 119px,rgba(255,255,255,0.00) 119px 120px,rgba(255,255,255,0.03) 120px 122px,rgba(255,255,255,0.05) 122px 123px,rgba(255,255,255,0.01) 123px 125px,rgba(255,255,255,0.01) 125px 127px,rgba(0,0,0,0.01) 127px 129px,rgba(0,0,0,0.02) 129px 131px,rgba(0,0,0,0.03) 131px 132px,rgba(0,0,0,0.02) 132px 134px,rgba(0,0,0,0.05) 134px 135px,rgba(0,0,0,0.00) 135px 136px,rgba(0,0,0,0.05) 136px 139px,rgba(0,0,0,0.02) 139px 143px,rgba(255,255,255,0.08) 143px 146px,rgba(255,255,255,0.06) 146px 149px,rgba(0,0,0,0.05) 149px 151px,rgba(255,255,255,0.04) 151px 154px,rgba(0,0,0,0.05) 154px 156px,rgba(0,0,0,0.02) 156px 160px,rgba(0,0,0,0.01) 160px 163px,rgba(255,255,255,0.02) 163px 167px,rgba(255,255,255,0.04) 167px 171px,rgba(0,0,0,0.02) 171px 174px,rgba(0,0,0,0.02) 174px 178px,rgba(0,0,0,0.03) 178px 180px,rgba(255,255,255,0.00) 180px 182px,rgba(0,0,0,0.02) 182px 186px,rgba(0,0,0,0.01) 186px 188px,rgba(0,0,0,0.05) 188px 190px,rgba(255,255,255,0.01) 190px 194px,rgba(0,0,0,0.00) 194px 196px,rgba(255,255,255,0.01) 196px 200px,rgba(255,255,255,0.10) 200px 202px)"></i>
<i style="left:267px;top:238px;width:2px;height:103px;background:linear-gradient(#000000 0,#000000 102.5px)"></i>
<i style="left:269px;top:238px;width:2px;height:103px;background:linear-gradient(#000000 0,#000000 102.5px)"></i>
<i style="left:271px;top:238px;width:2px;height:103px;background:linear-gradient(#000000 0,#000000 102.5px)"></i>
<i style="left:273px;top:238px;width:2px;height:103px;background:linear-gradient(#000000 0,#000000 102.5px)"></i>
<i style="left:275px;top:238px;width:2px;height:103px;background:linear-gradient(#000000 0,#000000 102.5px)"></i>
<i style="left:277px;top:238px;width:2px;height:103px;background:linear-gradient(#000000 0,#000000 102.5px)"></i>
<i style="left:279px;top:238px;width:2px;height:103px;background:linear-gradient(#000000 0,#000000 102.5px)"></i>
<i style="left:281px;top:238px;width:2px;height:103px;background:linear-gradient(#000000 0,#000000 102.5px)"></i>
<i style="left:283px;top:238px;width:2px;height:103px;background:linear-gradient(#000000 0,#000000 102.5px)"></i>
<i style="left:285px;top:238px;width:2px;height:103px;background:linear-gradient(#000000 0,#000000 102.5px)"></i>
<i style="left:287px;top:238px;width:2px;height:103px;background:linear-gradient(#000000 0,#000000 102.5px)"></i>
<i style="left:289px;top:238px;width:2px;height:103px;background:linear-gradient(#000000 0,#000000 102.5px)"></i>
<i style="left:291px;top:238px;width:2px;height:103px;background:linear-gradient(#000000 0,#000000 102.5px)"></i>
<i style="left:293px;top:238px;width:2px;height:103px;background:linear-gradient(#000000 0,#000000 102.5px)"></i>
<i style="left:295px;top:238px;width:2px;height:103px;background:linear-gradient(#0f0700 0,#000000 102.5px)"></i>
<i style="left:297px;top:238px;width:2px;height:103px;background:linear-gradient(#271300 0,#190c00 65.5px,#000000 83.5px,#000000 102.5px)"></i>
<i style="left:299px;top:238px;width:2px;height:103px;background:linear-gradient(#3c1d01 0,#2e1600 63.5px,#170b00 74.5px,#000000 82.5px,#000000 102.5px)"></i>
<i style="left:301px;top:238px;width:2px;height:103px;background:linear-gradient(#4b2402 0,#3d1d01 62.5px,#231100 74.5px,#000000 82.5px,#000000 102.5px)"></i>
<i style="left:303px;top:238px;width:2px;height:103px;background:linear-gradient(#522802 0,#452101 62.5px,#301700 73.5px,#000000 82.5px,#000000 102.5px)"></i>
<i style="left:305px;top:238px;width:2px;height:103px;background:linear-gradient(#552902 0,#472202 62.5px,#331800 73.5px,#000000 82.5px,#000000 102.5px)"></i>
<i style="left:307px;top:238px;width:2px;height:103px;background:linear-gradient(#552903 0,#482302 62.5px,#331900 73.5px,#000000 82.5px,#000000 102.5px)"></i>
<i style="left:309px;top:238px;width:2px;height:103px;background:linear-gradient(#542902 0,#472202 62.5px,#321800 73.5px,#000000 82.5px,#000000 102.5px)"></i>
<i style="left:311px;top:238px;width:2px;height:103px;background:linear-gradient(#4f2602 0,#422001 62.5px,#271300 74.5px,#000000 82.5px,#000000 102.5px)"></i>
<i style="left:313px;top:238px;width:2px;height:103px;background:linear-gradient(#442101 0,#361a01 63.5px,#1e0e00 74.5px,#000000 82.5px,#000000 102.5px)"></i>
<i style="left:315px;top:238px;width:2px;height:103px;background:linear-gradient(#321800 0,#241100 64.5px,#0a0500 75.5px,#000000 102.5px)"></i>
<i style="left:317px;top:238px;width:2px;height:103px;background:linear-gradient(#1b0d00 0,#0d0600 66.5px,#000000 102.5px)"></i>
<i style="left:319px;top:238px;width:2px;height:103px;background:linear-gradient(#050200 0,#000000 102.5px)"></i>
<i style="left:321px;top:238px;width:2px;height:103px;background:linear-gradient(#000000 0,#000000 102.5px)"></i>
<i style="left:323px;top:238px;width:2px;height:103px;background:linear-gradient(#000000 0,#000000 102.5px)"></i>
<i style="left:325px;top:238px;width:2px;height:103px;background:linear-gradient(#000000 0,#000000 102.5px)"></i>
<i style="left:327px;top:238px;width:2px;height:103px;background:linear-gradient(#000000 0,#0b0500 78.5px,#000000 102.5px)"></i>
<i style="left:329px;top:238px;width:2px;height:103px;background:linear-gradient(#000000 0,#0c0600 59.5px,#442101 81.5px,#1e0e00 89.5px,#000000 95.5px,#000000 102.5px)"></i>
<i style="left:331px;top:238px;width:2px;height:103px;background:linear-gradient(#030100 0,#1a0c00 40.5px,#623003 65.5px,#9d4f05 80.5px,#763905 87.5px,#000000 96.5px,#000000 102.5px)"></i>
<i style="left:333px;top:238px;width:2px;height:103px;background:linear-gradient(#2c1500 0,#482302 32.5px,#a65305 59.5px,#ef8601 74.5px,#ee8401 83.5px,#d06c02 87.5px,#733804 92.5px,#040200 97.5px,#000000 102.5px)"></i>
<i style="left:335px;top:238px;width:2px;height:103px;background:linear-gradient(#6e3604 0,#934905 30.5px,#f88e00 59.5px,#ffd400 78.5px,#ffb000 86.5px,#ef8101 90.5px,#050200 98.5px,#000000 102.5px)"></i>
<i style="left:337px;top:238px;width:2px;height:103px;background:linear-gradient(#b25a04 0,#db7302 29.5px,#ffa000 50.5px,#f6e300 65.5px,#b2e400 77.5px,#cee800 82.5px,#ffdb00 87.5px,#f78800 92.5px,#1a0d00 98.5px,#000000 100.5px,#000000 102.5px)"></i>
<i style="left:339px;top:238px;width:2px;height:103px;background:linear-gradient(#e87a01 0,#ffa700 38.5px,#f5e800 58.5px,#37d400 75.5px,#37d400 79.5px,#9be100 85.5px,#fce600 89.5px,#ff9000 93.5px,#2e1600 98.5px,#000000 100.5px,#000000 102.5px)"></i>
<i style="left:341px;top:238px;width:2px;height:103px;background:linear-gradient(#ff8f00 0,#ffba00 37.5px,#f4ed00 54.5px,#64da00 64.5px,#0ccd02 70.5px,#00c70c 80.5px,#17cf00 83.5px,#6cdb00 86.5px,#f7ec00 90.5px,#fc8900 94.5px,#3e1e01 98.5px,#070300 100.5px,#000000 102.5px)"></i>
<i style="left:343px;top:238px;width:2px;height:103px;background:linear-gradient(#ff9700 0,#ffc400 37.5px,#f8ed00 51.5px,#92e000 59.5px,#01cb03 67.5px,#00bb27 78.5px,#01cb03 84.5px,#3ad400 86.5px,#ddea00 90.5px,#ffe800 91.5px,#ff9300 94.5px,#aa5604 96.5px,#221000 99.5px,#000000 101.5px,#000000 102.5px)"></i>
<i style="left:345px;top:238px;width:2px;height:103px;background:linear-gradient(#ff9900 0,#ffc700 37.5px,#fcee00 50.5px,#96e100 58.5px,#08cd00 65.5px,#00b82e 78.5px,#01cc00 85.5px,#ffee00 91.5px,#ff9700 94.5px,#e47801 95.5px,#251200 99.5px,#000000 101.5px,#000000 102.5px)"></i>
<i style="left:347px;top:238px;width:2px;height:103px;background:linear-gradient(#ff9900 0,#ffc600 37.5px,#fdee00 50.5px,#98e100 58.5px,#00cb02 66.5px,#00b92d 78.5px,#05cd00 85.5px,#ffec00 91.5px,#ff9600 94.5px,#e27702 95.5px,#241100 99.5px,#000000 101.5px,#000000 102.5px)"></i>
<i style="left:349px;top:238px;width:2px;height:103px;background:linear-gradient(#ff9500 0,#ffc100 37.5px,#f6ed00 52.5px,#7add00 61.5px,#04cb03 68.5px,#00bf1f 79.5px,#0bcd00 84.5px,#77dc00 87.5px,#ffe200 91.5px,#ff9000 94.5px,#200f00 99.5px,#000000 101.5px,#000000 102.5px)"></i>
<i style="left:351px;top:238px;width:2px;height:103px;background:linear-gradient(#fb8800 0,#ffb300 37.5px,#f7eb00 55.5px,#72dc00 65.5px,#13ce02 72.5px,#07ca06 79.5px,#22d100 82.5px,#88df00 86.5px,#ffe700 90.5px,#f58201 94.5px,#381b01 98.5px,#040200 100.5px,#000000 102.5px)"></i>
<i style="left:353px;top:238px;width:2px;height:103px;background:linear-gradient(#d46f02 0,#ff9800 37.5px,#ffd800 57.5px,#d7e900 64.5px,#6bdb00 75.5px,#73dc00 80.5px,#d3e800 86.5px,#fbe500 88.5px,#f68500 93.5px,#271200 98.5px,#000000 100.5px,#000000 102.5px)"></i>
<i style="left:355px;top:238px;width:2px;height:103px;background:linear-gradient(#984c05 0,#be6203 29.5px,#ff9b00 54.5px,#f4e100 70.5px,#e5e900 80.5px,#ffd300 86.5px,#f88b00 91.5px,#c16403 93.5px,#110800 98.5px,#000000 100.5px,#000000 102.5px)"></i>
<i style="left:357px;top:238px;width:2px;height:103px;background:linear-gradient(#522802 0,#733804 30.5px,#d56f02 57.5px,#ffa300 70.5px,#ffb600 80.5px,#f98f00 87.5px,#d16d02 90.5px,#110800 97.5px,#000000 99.5px,#000000 102.5px)"></i>
<i style="left:359px;top:238px;width:2px;height:103px;background:linear-gradient(#160b00 0,#301701 34.5px,#884305 61.5px,#dd7402 79.5px,#b95e04 86.5px,#572a03 92.5px,#070300 96.5px,#000000 102.5px)"></i>
<i style="left:361px;top:238px;width:2px;height:103px;background:linear-gradient(#000000 0,#100700 46.5px,#5a2c03 71.5px,#753905 81.5px,#4b2402 88.5px,#000000 95.5px,#000000 102.5px)"></i>
<i style="left:363px;top:238px;width:2px;height:103px;background:linear-gradient(#000000 0,#0b0500 67.5px,#281300 82.5px,#000000 95.5px,#000000 102.5px)"></i>
<i style="left:365px;top:238px;width:2px;height:103px;background:linear-gradient(#000000 0,#000000 102.5px)"></i>
<i style="left:367px;top:238px;width:2px;height:103px;background:linear-gradient(#000000 0,#000000 102.5px)"></i>
<i style="left:369px;top:238px;width:2px;height:103px;background:linear-gradient(#000000 0,#000000 102.5px)"></i>
<i style="left:371px;top:238px;width:2px;height:103px;background:linear-gradient(#000000 0,#000000 102.5px)"></i>
<i style="left:373px;top:238px;width:2px;height:103px;background:linear-gradient(#000000 0,#000000 102.5px)"></i>
<i style="left:375px;top:238px;width:2px;height:103px;background:linear-gradient(#000000 0,#000000 102.5px)"></i>
<i style="left:377px;top:238px;width:2px;height:103px;background:linear-gradient(#000000 0,#000000 102.5px)"></i>
<i style="left:379px;top:238px;width:2px;height:103px;background:linear-gradient(#000000 0,#000000 102.5px)"></i>
<i style="left:381px;top:238px;width:2px;height:103px;background:linear-gradient(#000000 0,#000000 102.5px)"></i>
<i style="left:383px;top:238px;width:1px;height:103px;background:linear-gradient(#000000 0,#000000 102.5px)"></i>
<i style="left:267px;top:351px;width:2px;height:103px;background:linear-gradient(#3a1c01 0,#572a03 4.5px,#1a0d00 9.5px,#000000 12.5px,#090400 50.5px,#d66f02 65.5px,#fe8b00 71.5px,#f38101 75.5px,#934806 80.5px,#160a00 85.5px,#000000 88.5px,#000000 92.5px,#653104 98.5px,#4b2402 101.5px,#361a01 102.5px)"></i>
<i style="left:269px;top:351px;width:2px;height:103px;background:linear-gradient(#482302 0,#683304 3.5px,#572a03 6.5px,#030100 11.5px,#040200 49.5px,#653104 56.5px,#f58201 66.5px,#ff9d00 73.5px,#f78400 77.5px,#100800 86.5px,#000000 89.5px,#0b0500 93.5px,#5d2d03 98.5px,#452101 101.5px,#311700 102.5px)"></i>
<i style="left:271px;top:351px;width:2px;height:103px;background:linear-gradient(#512702 0,#743804 3.5px,#612f03 6.5px,#000000 12.5px,#070300 49.5px,#6c3404 56.5px,#ff8c00 66.5px,#ffaf00 73.5px,#ff8c00 78.5px,#944906 82.5px,#1d0e00 86.5px,#000000 89.5px,#040200 93.5px,#482302 98.5px,#331800 101.5px,#221000 102.5px)"></i>
<i style="left:273px;top:351px;width:2px;height:103px;background:linear-gradient(#542902 0,#783a05 3.5px,#653104 6.5px,#000000 12.5px,#0a0500 49.5px,#5e2d03 55.5px,#ff8c00 65.5px,#ffc100 73.5px,#ffa000 78.5px,#f38101 80.5px,#2c1500 86.5px,#020100 88.5px,#040200 94.5px,#2b1500 98.5px,#0f0700 102.5px)"></i>
<i style="left:275px;top:351px;width:2px;height:103px;background:linear-gradient(#512702 0,#743804 3.5px,#612f03 6.5px,#000000 12.5px,#090400 41.5px,#0a0500 46.5px,#130900 50.5px,#fc8600 64.5px,#ffd300 73.5px,#ffb400 78.5px,#f38101 81.5px,#211000 87.5px,#000000 89.5px,#0b0500 100.5px,#000000 102.5px)"></i>
<i style="left:277px;top:351px;width:2px;height:103px;background:linear-gradient(#482302 0,#683304 3.5px,#572a03 6.5px,#030100 11.5px,#070300 40.5px,#1c0d00 44.5px,#0c0600 49.5px,#5e2d03 55.5px,#ff8800 64.5px,#ffe300 73.5px,#ffc700 78.5px,#ff9400 81.5px,#ef7e01 82.5px,#301700 87.5px,#020100 89.5px,#000000 102.5px)"></i>
<i style="left:279px;top:351px;width:2px;height:103px;background:linear-gradient(#3a1c01 0,#572a03 4.5px,#1a0d00 9.5px,#000000 12.5px,#010100 39.5px,#281300 43.5px,#0d0600 49.5px,#482302 54.5px,#ff8800 64.5px,#fdec00 72.5px,#fbec00 76.5px,#ffba00 80.5px,#ff9100 82.5px,#ba5f04 84.5px,#221000 88.5px,#000000 90.5px,#000000 102.5px)"></i>
<i style="left:281px;top:351px;width:2px;height:103px;background:linear-gradient(#291400 0,#411f01 4.5px,#000000 11.5px,#090400 39.5px,#341900 43.5px,#0d0600 49.5px,#432001 54.5px,#fb8500 64.5px,#fced00 71.5px,#dae900 74.5px,#edec00 77.5px,#ffcd00 80.5px,#fe8b00 83.5px,#301700 88.5px,#000000 90.5px,#000000 102.5px)"></i>
<i style="left:283px;top:351px;width:2px;height:103px;background:linear-gradient(#180b00 0,#271300 5.5px,#000000 10.5px,#000000 38.5px,#3d1d01 42.5px,#311800 45.5px,#0c0600 49.5px,#3c1d01 54.5px,#da7202 63.5px,#ff9100 65.5px,#ffe900 70.5px,#c3e600 74.5px,#d1e800 77.5px,#ffe000 80.5px,#f68200 84.5px,#401f01 88.5px,#060300 90.5px,#000000 102.5px)"></i>
<i style="left:285px;top:351px;width:2px;height:103px;background:linear-gradient(#070400 0,#130900 5.5px,#000000 12.5px,#040200 38.5px,#482302 42.5px,#3a1c01 45.5px,#0b0500 49.5px,#261200 53.5px,#cf6b03 63.5px,#ff8d00 65.5px,#fdee00 70.5px,#b9e500 73.5px,#ade400 76.5px,#dcea00 79.5px,#f8ed00 80.5px,#ff9300 84.5px,#e17702 85.5px,#2d1500 89.5px,#000000 91.5px,#000000 102.5px)"></i>
<i style="left:287px;top:351px;width:2px;height:103px;background:linear-gradient(#000000 0,#0a0500 38.5px,#542902 42.5px,#432001 45.5px,#0a0500 49.5px,#1f0f00 53.5px,#aa5504 62.5px,#fd8800 65.5px,#f6ed00 70.5px,#a9e300 73.5px,#97e100 76.5px,#c0e600 79.5px,#faec00 81.5px,#fb8800 85.5px,#3c1d01 89.5px,#010100 91.5px,#000000 102.5px)"></i>
<i style="left:289px;top:351px;width:2px;height:103px;background:linear-gradient(#000000 0,#000000 37.5px,#5f2e03 42.5px,#4c2502 45.5px,#080400 49.5px,#160b00 53.5px,#854106 61.5px,#d06c02 64.5px,#f38101 65.5px,#ffdf00 69.5px,#cfe800 71.5px,#8bdf00 74.5px,#86df00 77.5px,#c0e600 80.5px,#feea00 82.5px,#ff9700 85.5px,#e47801 86.5px,#261200 90.5px,#000000 92.5px,#000000 102.5px)"></i>
<i style="left:291px;top:351px;width:2px;height:103px;background:linear-gradient(#000000 0,#000000 37.5px,#5e2d03 41.5px,#633003 44.5px,#070300 49.5px,#0e0700 53.5px,#733804 61.5px,#c26403 64.5px,#ff9200 66.5px,#ffe000 69.5px,#c7e700 71.5px,#79dd00 74.5px,#6ddb00 77.5px,#a7e300 80.5px,#ffe200 83.5px,#fc8800 86.5px,#341900 90.5px,#000000 92.5px,#000000 102.5px)"></i>
<i style="left:293px;top:351px;width:2px;height:103px;background:linear-gradient(#000000 0,#020100 37.5px,#673204 41.5px,#6b3404 44.5px,#050300 49.5px,#0e0600 54.5px,#602f03 61.5px,#b45b04 64.5px,#ff8d00 66.5px,#ffe000 69.5px,#c2e600 71.5px,#6adb00 74.5px,#56d800 77.5px,#8ee000 80.5px,#f8ed00 83.5px,#ff9700 86.5px,#df7502 87.5px,#422001 90.5px,#020100 92.5px,#000000 102.5px)"></i>
<i style="left:295px;top:351px;width:2px;height:103px;background:linear-gradient(#000000 0,#060300 37.5px,#6f3604 41.5px,#733804 44.5px,#040200 49.5px,#0c0600 55.5px,#4f2602 61.5px,#a65305 64.5px,#fe8800 66.5px,#ffe000 69.5px,#bde600 71.5px,#5cd900 74.5px,#41d500 77.5px,#72dc00 80.5px,#ffe600 84.5px,#f98400 87.5px,#522802 90.5px,#090400 92.5px,#000000 102.5px)"></i>
<i style="left:297px;top:351px;width:2px;height:103px;background:linear-gradient(#000000 0,#0a0500 37.5px,#763905 41.5px,#793b05 44.5px,#030100 49.5px,#090400 56.5px,#3e1e01 61.5px,#994c05 64.5px,#f78300 66.5px,#ffe000 69.5px,#b9e500 71.5px,#50d700 74.5px,#2ed200 77.5px,#56d800 80.5px,#f3ed00 84.5px,#ff9200 87.5px,#341900 91.5px,#000000 93.5px,#000000 102.5px)"></i>
<i style="left:299px;top:351px;width:2px;height:103px;background:linear-gradient(#000000 0,#000000 36.5px,#2c1500 38.5px,#7b3c05 41.5px,#7e3d05 44.5px,#020100 49.5px,#0c0600 58.5px,#462202 62.5px,#b95f04 65.5px,#ee7e01 66.5px,#ffbe00 68.5px,#ffdf00 69.5px,#b6e500 71.5px,#45d600 74.5px,#1bd000 77.5px,#3ad400 80.5px,#abe300 83.5px,#ffe400 85.5px,#ff9f00 87.5px,#e87b01 88.5px,#411f01 91.5px,#000000 93.5px,#000000 102.5px)"></i>
<i style="left:301px;top:351px;width:2px;height:103px;background:linear-gradient(#000000 0,#000000 36.5px,#301700 38.5px,#7f3e05 41.5px,#823f05 44.5px,#010000 49.5px,#080400 59.5px,#381b01 62.5px,#af5904 65.5px,#e67901 66.5px,#ff9b00 67.5px,#ffde00 69.5px,#e3eb00 70.5px,#3ad400 74.5px,#06cd00 77.5px,#1bd000 80.5px,#5fd900 82.5px,#f6ed00 85.5px,#fc8700 88.5px,#4e2602 91.5px,#050200 93.5px,#000000 102.5px)"></i>
<i style="left:303px;top:351px;width:2px;height:103px;background:linear-gradient(#000000 0,#000000 36.5px,#331900 38.5px,#833f05 41.5px,#844006 44.5px,#391b01 47.5px,#000000 49.5px,#080400 60.5px,#4c2402 63.5px,#de7502 66.5px,#ff9800 67.5px,#ffde00 69.5px,#e3ea00 70.5px,#2ed200 74.5px,#00cb02 76.5px,#01cb03 80.5px,#12cf00 81.5px,#a6e300 84.5px,#ddea00 85.5px,#ffde00 86.5px,#ff9300 88.5px,#5b2c03 91.5px,#0b0500 93.5px,#000000 101.5px,#000000 102.5px)"></i>
<i style="left:305px;top:351px;width:2px;height:103px;background:linear-gradient(#000000 0,#000000 36.5px,#854006 41.5px,#864106 44.5px,#3a1c01 47.5px,#000000 49.5px,#010000 60.5px,#411f01 63.5px,#d77002 66.5px,#ff9500 67.5px,#ffdc00 69.5px,#e3ea00 70.5px,#21d100 74.5px,#02cc01 75.5px,#00c217 79.5px,#0ece00 82.5px,#fdeb00 86.5px,#ff9e00 88.5px,#e37701 89.5px,#371a01 92.5px,#000000 94.5px,#000000 102.5px)"></i>
<i style="left:307px;top:351px;width:2px;height:103px;background:linear-gradient(#000000 0,#000000 36.5px,#864106 41.5px,#874106 44.5px,#3a1c01 47.5px,#000000 49.5px,#050200 61.5px,#381b01 63.5px,#d06c02 66.5px,#ff9200 67.5px,#ffdb00 69.5px,#e3eb00 70.5px,#11ce00 74.5px,#00c216 76.5px,#00bb27 80.5px,#00c60e 82.5px,#13cf00 83.5px,#e9eb00 86.5px,#ffd200 87.5px,#f48201 89.5px,#411f01 92.5px,#000000 94.5px,#000000 102.5px)"></i>
<i style="left:309px;top:351px;width:2px;height:103px;background:linear-gradient(#000000 0,#000000 36.5px,#753905 40.5px,#8c4406 43.5px,#773a05 45.5px,#000000 49.5px,#000000 61.5px,#301700 63.5px,#c96803 66.5px,#ff8f00 67.5px,#ffd900 69.5px,#e5eb00 70.5px,#01cb02 74.5px,#00ad45 79.5px,#00bb27 82.5px,#00c60f 83.5px,#29d200 84.5px,#cfe800 86.5px,#ffdf00 87.5px,#ff8b00 89.5px,#4a2402 92.5px,#010100 94.5px,#000000 102.5px)"></i>
<i style="left:311px;top:351px;width:2px;height:103px;background:linear-gradient(#000000 0,#000000 36.5px,#864106 41.5px,#864106 44.5px,#391b01 47.5px,#000000 49.5px,#000000 61.5px,#291400 63.5px,#c36403 66.5px,#ff8b00 67.5px,#ffd700 69.5px,#e6eb00 70.5px,#25d100 73.5px,#00c70b 74.5px,#00976d 79.5px,#009e60 81.5px,#00c908 84.5px,#fdeb00 87.5px,#ff9400 89.5px,#542802 92.5px,#060300 94.5px,#000000 102.5px)"></i>
<i style="left:313px;top:351px;width:2px;height:103px;background:linear-gradient(#000000 0,#000000 36.5px,#844005 41.5px,#844006 44.5px,#371a01 47.5px,#000000 49.5px,#060300 62.5px,#4b2402 64.5px,#fe8700 67.5px,#ffd400 69.5px,#e9eb00 70.5px,#13cf00 73.5px,#00b534 75.5px,#009276 77.5px,#2d8282 79.5px,#308181 80.5px,#009276 82.5px,#00bd23 84.5px,#17cf00 85.5px,#8ee000 86.5px,#e7eb00 87.5px,#ffca00 88.5px,#ff9d00 89.5px,#da7202 90.5px,#5c2d03 92.5px,#0a0500 94.5px,#000000 102.5px)"></i>
<i style="left:315px;top:351px;width:2px;height:103px;background:linear-gradient(#000000 0,#000000 36.5px,#331800 38.5px,#823f05 41.5px,#823f05 44.5px,#341900 47.5px,#000000 49.5px,#010100 62.5px,#442101 64.5px,#f68300 67.5px,#ffd100 69.5px,#ecec00 70.5px,#59d800 72.5px,#02cc01 73.5px,#00907a 76.5px,#748484 78.5px,#959595 79.5px,#9a9a9a 80.5px,#848b8b 81.5px,#4c7d7d 82.5px,#058e7c 83.5px,#00c511 85.5px,#5bd900 86.5px,#cbe700 87.5px,#ffd700 88.5px,#ffa600 89.5px,#e77a01 90.5px,#321800 93.5px,#0e0700 94.5px,#000000 97.5px,#000000 102.5px)"></i>
<i style="left:317px;top:351px;width:2px;height:103px;background:linear-gradient(#000000 0,#000000 36.5px,#301700 38.5px,#7e3d05 41.5px,#7e3d05 44.5px,#301700 47.5px,#000000 49.5px,#000000 62.5px,#3d1d01 64.5px,#ed7d01 67.5px,#ffcd00 69.5px,#f0ec00 70.5px,#00c80a 73.5px,#00986b 75.5px,#388080 76.5px,#949494 77.5px,#cdcdcd 78.5px,#e6e8ec 79.5px,#e3e3e3 81.5px,#b4b4b4 82.5px,#5e7d7d 83.5px,#009375 84.5px,#00b82f 85.5px,#1fd000 86.5px,#ace300 87.5px,#ffe400 88.5px,#f38101 90.5px,#6c3404 92.5px,#120900 94.5px,#000000 96.5px,#000000 102.5px)"></i>
<i style="left:319px;top:351px;width:2px;height:103px;background:linear-gradient(#000000 0,#000000 36.5px,#2c1500 38.5px,#793b05 41.5px,#793b05 44.5px,#0d0600 48.5px,#000000 52.5px,#000000 62.5px,#361a00 64.5px,#e37801 67.5px,#ff9f00 68.5px,#f6ed00 70.5px,#aae300 71.5px,#44d600 72.5px,#00c314 73.5px,#0f8785 75.5px,#8d8d8d 76.5px,#e3e3e3 77.5px,#92adff 78.5px,#3958f5 79.5px,#2341f2 80.5px,#4c6af7 81.5px,#becdfb 82.5px,#c0c0c0 83.5px,#457e7e 84.5px,#00a455 85.5px,#00c60e 86.5px,#f9ed00 88.5px,#fd8800 90.5px,#733804 92.5px,#150a00 94.5px,#000000 95.5px,#000000 102.5px)"></i>
<i style="left:321px;top:351px;width:2px;height:103px;background:linear-gradient(#000000 0,#090400 37.5px,#733804 41.5px,#733804 44.5px,#0a0500 48.5px,#000000 62.5px,#0c0600 63.5px,#5e2e03 65.5px,#d97102 67.5px,#ff9a00 68.5px,#fcee00 70.5px,#abe300 71.5px,#39d400 72.5px,#00bf1e 73.5px,#009e61 74.5px,#557c7c 75.5px,#d2d2d2 76.5px,#6a8dfe 77.5px,#0a14e4 78.5px,#0000dd 80.5px,#0000dd 81.5px,#1020e8 82.5px,#b4c6ff 83.5px,#a8a8a8 84.5px,#0b8b7f 85.5px,#00ba2a 86.5px,#50d700 87.5px,#dfea00 88.5px,#ffc200 89.5px,#ff8e00 90.5px,#411f01 93.5px,#000000 95.5px,#000000 102.5px)"></i>
<i style="left:323px;top:351px;width:2px;height:103px;background:linear-gradient(#000000 0,#050300 37.5px,#6c3404 41.5px,#6c3404 44.5px,#060300 48.5px,#070400 63.5px,#552902 65.5px,#ff9300 68.5px,#ffeb00 70.5px,#ace400 71.5px,#2fd300 72.5px,#00ba29 73.5px,#008f7b 74.5px,#959595 75.5px,#c7d5ff 76.5px,#070ee2 77.5px,#0000dd 80.5px,#0000dd 82.5px,#0e1be6 83.5px,#dee3f2 84.5px,#607c7c 85.5px,#00aa4b 86.5px,#16cf00 87.5px,#c3e600 88.5px,#ffcc00 89.5px,#ff9400 90.5px,#7e3d05 92.5px,#1b0d00 94.5px,#000000 95.5px,#000000 102.5px)"></i>
<i style="left:325px;top:351px;width:2px;height:103px;background:linear-gradient(#000000 0,#010100 37.5px,#643003 41.5px,#643003 44.5px,#010100 48.5px,#030100 63.5px,#4c2502 65.5px,#ff8c00 68.5px,#ffe600 70.5px,#b0e400 71.5px,#26d100 72.5px,#00b534 73.5px,#178585 74.5px,#cacaca 75.5px,#2448f5 76.5px,#0000dd 77.5px,#0000dd 83.5px,#3658f7 84.5px,#b3b3b3 85.5px,#009374 86.5px,#00c60e 87.5px,#a6e300 88.5px,#ffd600 89.5px,#ff9a00 90.5px,#833f05 92.5px,#1d0e00 94.5px,#000000 95.5px,#000000 102.5px)"></i>
<i style="left:327px;top:351px;width:2px;height:103px;background:linear-gradient(#000000 0,#000000 37.5px,#5a2c03 41.5px,#5a2c03 44.5px,#000000 48.5px,#000000 63.5px,#422001 65.5px,#f98400 68.5px,#ffdf00 70.5px,#b5e500 71.5px,#20d000 72.5px,#00b13d 73.5px,#437e7e 74.5px,#f4f4f4 75.5px,#0000dd 76.5px,#0000dd 84.5px,#e9ebf3 85.5px,#2a8282 86.5px,#00bc25 87.5px,#85de00 88.5px,#ffe000 89.5px,#ff9f00 90.5px,#cd6b03 91.5px,#4a2402 93.5px,#000000 95.5px,#000000 102.5px)"></i>
<i style="left:329px;top:351px;width:2px;height:103px;background:linear-gradient(#000000 0,#000000 37.5px,#592b03 42.5px,#3e1e01 45.5px,#000000 48.5px,#000000 63.5px,#381b01 65.5px,#e97b01 68.5px,#ffa600 69.5px,#ffd800 70.5px,#bde600 71.5px,#1ed000 72.5px,#00ad45 73.5px,#697979 74.5px,#a9beff 75.5px,#0000dd 76.5px,#0000dd 84.5px,#5980fd 85.5px,#768080 86.5px,#00b23c 87.5px,#5ed900 88.5px,#ffeb00 89.5px,#ffa400 90.5px,#d26d02 91.5px,#4b2402 93.5px,#010000 95.5px,#000000 102.5px)"></i>
<i style="left:331px;top:351px;width:2px;height:103px;background:linear-gradient(#000000 0,#080400 38.5px,#4d2502 42.5px,#341900 45.5px,#000000 48.5px,#000000 63.5px,#0c0600 64.5px,#5e2d03 66.5px,#d97102 68.5px,#ff9d00 69.5px,#ffcf00 70.5px,#c7e700 71.5px,#22d100 72.5px,#00aa4b 73.5px,#828282 74.5px,#4673ff 75.5px,#0000dd 76.5px,#0000dd 84.5px,#0b17e5 85.5px,#adadad 86.5px,#00a456 87.5px,#38d400 88.5px,#f5ed00 89.5px,#ffa800 90.5px,#d56f02 91.5px,#4c2502 93.5px,#010100 95.5px,#000000 102.5px)"></i>
<i style="left:333px;top:351px;width:2px;height:103px;background:linear-gradient(#000000 0,#020100 38.5px,#411f01 42.5px,#2a1400 45.5px,#020100 47.5px,#060300 64.5px,#512702 66.5px,#ff9300 69.5px,#ffc500 70.5px,#d5e900 71.5px,#2dd200 72.5px,#00a94c 73.5px,#8e8e8e 74.5px,#264bf6 75.5px,#0000dd 76.5px,#0000dd 85.5px,#d8d8d8 86.5px,#00966e 87.5px,#17cf00 88.5px,#e8eb00 89.5px,#ffac00 90.5px,#d77102 91.5px,#4b2402 93.5px,#010100 95.5px,#000000 102.5px)"></i>
<i style="left:335px;top:351px;width:2px;height:103px;background:linear-gradient(#000000 0,#000000 38.5px,#351900 42.5px,#1f0f00 45.5px,#000000 47.5px,#010000 64.5px,#442101 66.5px,#fd8800 69.5px,#ffba00 70.5px,#e6eb00 71.5px,#3fd500 72.5px,#00ac48 73.5px,#919191 74.5px,#1d3af0 75.5px,#0000dd 76.5px,#0000dd 85.5px,#f7f7f7 86.5px,#008b82 87.5px,#01cb02 88.5px,#deea00 89.5px,#ffae00 90.5px,#d87102 91.5px,#4a2402 93.5px,#010000 95.5px,#000000 102.5px)"></i>
<i style="left:337px;top:351px;width:2px;height:103px;background:linear-gradient(#000000 0,#050300 39.5px,#281300 42.5px,#150a00 45.5px,#000000 48.5px,#000000 64.5px,#371a01 66.5px,#a45205 68.5px,#eb7c01 69.5px,#ffae00 70.5px,#faed00 71.5px,#58d800 72.5px,#00b03f 73.5px,#898989 74.5px,#1e3cf1 75.5px,#0000dd 76.5px,#0000dd 85.5px,#d1dcff 86.5px,#0f8686 87.5px,#00c908 88.5px,#d7e900 89.5px,#ffaf00 90.5px,#d77002 91.5px,#482302 93.5px,#000000 95.5px,#000000 102.5px)"></i>
<i style="left:339px;top:351px;width:2px;height:103px;background:linear-gradient(#000000 0,#000000 39.5px,#1d0e00 43.5px,#000000 47.5px,#000000 64.5px,#0b0500 65.5px,#582a03 67.5px,#d56f02 69.5px,#ffa100 70.5px,#ffe200 71.5px,#7add00 72.5px,#00b633 73.5px,#757a7a 74.5px,#2952f8 75.5px,#0000dd 76.5px,#0000dd 85.5px,#a9beff 86.5px,#1d8484 87.5px,#00c70b 88.5px,#d6e900 89.5px,#ffae00 90.5px,#d36e02 91.5px,#452101 93.5px,#000000 95.5px,#000000 102.5px)"></i>
<i style="left:341px;top:351px;width:2px;height:103px;background:linear-gradient(#000000 0,#020100 40.5px,#110800 43.5px,#000000 49.5px,#030100 65.5px,#482302 67.5px,#bf6203 69.5px,#ff9300 70.5px,#ffd100 71.5px,#9ee200 72.5px,#00bd22 73.5px,#4c7d7d 74.5px,#6088ff 75.5px,#0000dd 76.5px,#0000dd 85.5px,#a7bdff 86.5px,#1d8484 87.5px,#00c80a 88.5px,#dae900 89.5px,#ffab00 90.5px,#ce6b03 91.5px,#411f01 93.5px,#000000 95.5px,#000000 102.5px)"></i>
<i style="left:343px;top:351px;width:2px;height:103px;background:linear-gradient(#000000 0,#000000 65.5px,#391b01 67.5px,#a85505 69.5px,#f88400 70.5px,#ffbf00 71.5px,#c2e600 72.5px,#00c60e 73.5px,#158585 74.5px,#dbe4ff 75.5px,#0000dd 76.5px,#0000dd 85.5px,#cdd9ff 86.5px,#0e8686 87.5px,#00ca05 88.5px,#e3ea00 89.5px,#ffa700 90.5px,#c66603 91.5px,#773a05 92.5px,#150a00 94.5px,#000000 95.5px,#000000 102.5px)"></i>
<i style="left:345px;top:351px;width:2px;height:103px;background:linear-gradient(#000000 0,#000000 65.5px,#0b0500 66.5px,#572a03 68.5px,#dc7302 70.5px,#ffac00 71.5px,#eaeb00 72.5px,#1ad000 73.5px,#00966f 74.5px,#dcdcdc 75.5px,#0000dd 76.5px,#0000dd 85.5px,#f7f7f7 86.5px,#008d7f 87.5px,#0ece00 88.5px,#f2ec00 89.5px,#ffa000 90.5px,#6f3604 92.5px,#110800 94.5px,#000000 96.5px,#000000 102.5px)"></i>
<i style="left:347px;top:351px;width:2px;height:103px;background:linear-gradient(#000000 0,#020100 66.5px,#452101 68.5px,#bf6203 70.5px,#ff9900 71.5px,#ffe100 72.5px,#62da00 73.5px,#00ac46 74.5px,#9c9c9c 75.5px,#1326ea 76.5px,#0000dd 77.5px,#0000dd 85.5px,#d6d6d6 86.5px,#009a68 87.5px,#34d300 88.5px,#ffe900 89.5px,#ff9700 90.5px,#b15a04 91.5px,#653104 92.5px,#0d0600 94.5px,#000000 97.5px,#000000 102.5px)"></i>
<i style="left:349px;top:351px;width:2px;height:103px;background:linear-gradient(#000000 0,#000000 66.5px,#341900 68.5px,#a45205 70.5px,#f88500 71.5px,#ffc600 72.5px,#a8e300 73.5px,#00be20 74.5px,#407f7f 75.5px,#aabfff 76.5px,#0000dd 77.5px,#0000dd 84.5px,#1325e9 85.5px,#a3a3a3 86.5px,#00ab4a 87.5px,#64da00 88.5px,#ffda00 89.5px,#ff8c00 90.5px,#a35205 91.5px,#5b2c03 92.5px,#090400 94.5px,#000000 102.5px)"></i>
<i style="left:351px;top:351px;width:2px;height:103px;background:linear-gradient(#000000 0,#070300 67.5px,#4e2502 69.5px,#d56f02 71.5px,#ffac00 72.5px,#e4eb00 73.5px,#15ce02 74.5px,#00976e 75.5px,#c6c6c6 76.5px,#0e1ce6 77.5px,#0000dd 78.5px,#0000dd 84.5px,#8da9ff 85.5px,#5c7b7b 86.5px,#00b92c 87.5px,#99e100 88.5px,#ffc800 89.5px,#f18001 90.5px,#944906 91.5px,#502702 92.5px,#050200 94.5px,#000000 102.5px)"></i>
<i style="left:353px;top:351px;width:2px;height:103px;background:linear-gradient(#000000 0,#000000 67.5px,#3a1c01 69.5px,#b25b04 71.5px,#ff9200 72.5px,#ffda00 73.5px,#79dd00 74.5px,#00b633 75.5px,#587e7e 76.5px,#b8c8fa 77.5px,#0000dd 78.5px,#0000dd 83.5px,#0f1ee7 84.5px,#d8d8d8 85.5px,#0a8c7e 86.5px,#00c70c 87.5px,#c9e700 88.5px,#ffb400 89.5px,#d87102 90.5px,#844005 91.5px,#442101 92.5px,#010000 94.5px,#000000 102.5px)"></i>
<i style="left:355px;top:351px;width:2px;height:103px;background:linear-gradient(#000000 0,#0a0500 68.5px,#532802 70.5px,#e47801 72.5px,#ffb700 73.5px,#cee800 74.5px,#0ecb07 75.5px,#00996a 76.5px,#a2a2a2 77.5px,#7e99fc 78.5px,#0306df 79.5px,#0000dd 82.5px,#0a14e4 83.5px,#b9c9fa 84.5px,#778787 85.5px,#00a94c 86.5px,#3dd400 87.5px,#f7ea00 88.5px,#ffa000 89.5px,#713704 91.5px,#140a00 93.5px,#000000 95.5px,#000000 102.5px)"></i>
<i style="left:357px;top:351px;width:2px;height:103px;background:linear-gradient(#000000 0,#010000 68.5px,#3c1d01 70.5px,#b95f04 72.5px,#ff9700 73.5px,#ffde00 74.5px,#7ddd00 75.5px,#00bc25 76.5px,#1a897c 77.5px,#b3b3b3 78.5px,#a2b8fb 79.5px,#2e46f0 80.5px,#162beb 81.5px,#354ef2 82.5px,#b2c3f8 83.5px,#a6a6a6 84.5px,#0a8e79 85.5px,#00c01b 86.5px,#98e100 87.5px,#ffd100 88.5px,#fd8b00 89.5px,#5f2e03 91.5px,#0d0600 93.5px,#000000 97.5px,#000000 102.5px)"></i>
<i style="left:359px;top:351px;width:2px;height:103px;background:linear-gradient(#000000 0,#000000 68.5px,#281300 70.5px,#934806 72.5px,#e47801 73.5px,#ffb400 74.5px,#e0ea00 75.5px,#36d300 76.5px,#00b239 77.5px,#1f887c 78.5px,#929898 79.5px,#d2d2d2 80.5px,#d8dbe3 81.5px,#d2d2d2 82.5px,#949797 83.5px,#1e877e 84.5px,#00b23a 85.5px,#36d300 86.5px,#e2ea00 87.5px,#ffb200 88.5px,#df7502 89.5px,#4d2502 91.5px,#060300 93.5px,#000000 102.5px)"></i>
<i style="left:361px;top:351px;width:2px;height:103px;background:linear-gradient(#000000 0,#010000 69.5px,#3a1c01 71.5px,#b35b04 73.5px,#fe8f00 74.5px,#ffcd00 75.5px,#b9e500 76.5px,#20cf04 77.5px,#00b436 78.5px,#059471 79.5px,#4c8181 81.5px,#368080 82.5px,#0b9174 83.5px,#00af3f 84.5px,#13cc07 85.5px,#a9e300 86.5px,#ffd600 87.5px,#ff9600 88.5px,#723804 90.5px,#190c00 92.5px,#010000 93.5px,#000000 102.5px)"></i>
<i style="left:363px;top:351px;width:2px;height:103px;background:linear-gradient(#000000 0,#080400 70.5px,#4d2502 72.5px,#d06c02 74.5px,#ffa100 75.5px,#ffdd00 76.5px,#aee400 77.5px,#2bd201 78.5px,#00bf1d 79.5px,#00a94c 81.5px,#00ad43 82.5px,#00bb27 83.5px,#18cd06 84.5px,#f5e600 86.5px,#ffaf00 87.5px,#e67901 88.5px,#5b2c03 90.5px,#110800 92.5px,#000000 94.5px,#000000 102.5px)"></i>
<i style="left:365px;top:351px;width:2px;height:103px;background:linear-gradient(#000000 0,#000000 70.5px,#321800 72.5px,#9d4e05 74.5px,#e67901 75.5px,#ffaa00 76.5px,#ffdf00 77.5px,#c1e600 78.5px,#6bdb00 79.5px,#2ad102 80.5px,#1bcc08 81.5px,#21ce05 82.5px,#4cd700 83.5px,#eee800 85.5px,#fc8d00 87.5px,#7a3b05 89.5px,#241100 91.5px,#000000 93.5px,#000000 102.5px)"></i>
<i style="left:367px;top:351px;width:2px;height:103px;background:linear-gradient(#000000 0,#030200 71.5px,#3e1e01 73.5px,#aa5604 75.5px,#ee7f01 76.5px,#ffd200 78.5px,#e9e700 79.5px,#afe400 81.5px,#b6e500 82.5px,#f9e200 84.5px,#ff9600 86.5px,#5e2e03 89.5px,#1d0e00 91.5px,#000000 94.5px,#000000 102.5px)"></i>
<i style="left:369px;top:351px;width:2px;height:103px;background:linear-gradient(#000000 0,#0a0500 72.5px,#482302 74.5px,#e97b01 77.5px,#ff9c00 78.5px,#ffd800 81.5px,#ffc800 83.5px,#ff9300 85.5px,#723704 88.5px,#2d1600 90.5px,#0a0500 93.5px,#090400 102.5px)"></i>
<i style="left:371px;top:351px;width:2px;height:103px;background:linear-gradient(#000000 0,#000000 72.5px,#291400 74.5px,#f38601 79.5px,#ff9f00 82.5px,#f28301 84.5px,#3c1d01 89.5px,#1a0d00 92.5px,#301700 101.5px,#2b1400 102.5px)"></i>
<i style="left:373px;top:351px;width:2px;height:103px;background:linear-gradient(#000000 0,#010100 73.5px,#4b2402 76.5px,#c96803 80.5px,#d67002 82.5px,#994b05 85.5px,#442101 88.5px,#291300 91.5px,#643003 100.5px,#582b03 102.5px)"></i>
<i style="left:375px;top:351px;width:2px;height:103px;background:linear-gradient(#000000 0,#020100 74.5px,#894305 80.5px,#8e4605 83.5px,#381b01 88.5px,#361a01 91.5px,#964a05 98.5px,#8b4405 102.5px)"></i>
<i style="left:377px;top:351px;width:2px;height:103px;background:linear-gradient(#000000 0,#100800 14.5px,#040200 25.5px,#020100 75.5px,#5e2d03 81.5px,#482302 85.5px,#311800 89.5px,#6b3404 93.5px,#c66603 98.5px,#c66603 101.5px,#ba5f04 102.5px)"></i>
<i style="left:379px;top:351px;width:2px;height:103px;background:linear-gradient(#000000 0,#0b0500 8.5px,#361a01 18.5px,#000000 31.5px,#0a0500 77.5px,#381b01 82.5px,#2a1400 88.5px,#512702 91.5px,#df7502 97.5px,#f48201 100.5px,#df7502 102.5px)"></i>
<i style="left:381px;top:351px;width:2px;height:103px;background:linear-gradient(#000000 0,#0a0500 6.5px,#502702 16.5px,#3c1d01 23.5px,#000000 31.5px,#030200 78.5px,#1b0d00 84.5px,#241100 88.5px,#572a03 91.5px,#f48101 97.5px,#ff8a00 101.5px,#f38101 102.5px)"></i>
<i style="left:383px;top:351px;width:1px;height:103px;background:linear-gradient(#000000 0,#0f0700 6.5px,#5a2c03 16.5px,#442101 23.5px,#000000 32.5px,#080400 81.5px,#1f0f00 88.5px,#723704 92.5px,#f78300 97.5px,#ff8b00 101.5px,#f68300 102.5px)"></i>
<i style="left:390px;top:238px;width:2px;height:103px;background:linear-gradient(#000000 0,#000000 92.5px,#643003 98.5px,#4b2402 101.5px,#361a00 102.5px)"></i>
<i style="left:392px;top:238px;width:2px;height:103px;background:linear-gradient(#000000 0,#040200 93.5px,#532802 98.5px,#3d1d01 101.5px,#2a1400 102.5px)"></i>
<i style="left:394px;top:238px;width:2px;height:103px;background:linear-gradient(#000000 0,#040200 94.5px,#2b1400 98.5px,#0f0700 102.5px)"></i>
<i style="left:396px;top:238px;width:2px;height:103px;background:linear-gradient(#000000 0,#000000 102.5px)"></i>
<i style="left:398px;top:238px;width:2px;height:103px;background:linear-gradient(#000000 0,#000000 102.5px)"></i>
<i style="left:400px;top:238px;width:2px;height:103px;background:linear-gradient(#000000 0,#000000 102.5px)"></i>
<i style="left:402px;top:238px;width:2px;height:103px;background:linear-gradient(#000000 0,#000000 102.5px)"></i>
<i style="left:404px;top:238px;width:2px;height:103px;background:linear-gradient(#000000 0,#000000 102.5px)"></i>
<i style="left:406px;top:238px;width:2px;height:103px;background:linear-gradient(#000000 0,#000000 102.5px)"></i>
<i style="left:408px;top:238px;width:2px;height:103px;background:linear-gradient(#000000 0,#000000 102.5px)"></i>
<i style="left:410px;top:238px;width:2px;height:103px;background:linear-gradient(#000000 0,#000000 102.5px)"></i>
<i style="left:412px;top:238px;width:2px;height:103px;background:linear-gradient(#000000 0,#030100 102.5px)"></i>
<i style="left:414px;top:238px;width:2px;height:103px;background:linear-gradient(#0f0700 0,#150a00 102.5px)"></i>
<i style="left:416px;top:238px;width:2px;height:103px;background:linear-gradient(#2a1400 0,#271200 102.5px)"></i>
<i style="left:418px;top:238px;width:2px;height:103px;background:linear-gradient(#411f01 0,#341900 102.5px)"></i>
<i style="left:420px;top:238px;width:2px;height:103px;background:linear-gradient(#512702 0,#3c1d01 102.5px)"></i>
<i style="left:422px;top:238px;width:2px;height:103px;background:linear-gradient(#582a03 0,#401f01 102.5px)"></i>
<i style="left:424px;top:238px;width:2px;height:103px;background:linear-gradient(#592b03 0,#411f01 102.5px)"></i>
<i style="left:426px;top:238px;width:2px;height:103px;background:linear-gradient(#592b03 0,#411f01 102.5px)"></i>
<i style="left:428px;top:238px;width:2px;height:103px;background:linear-gradient(#552902 0,#3f1e01 102.5px)"></i>
<i style="left:430px;top:238px;width:2px;height:103px;background:linear-gradient(#4a2402 0,#391b01 102.5px)"></i>
<i style="left:432px;top:238px;width:2px;height:103px;background:linear-gradient(#361a01 0,#2e1600 102.5px)"></i>
<i style="left:434px;top:238px;width:2px;height:103px;background:linear-gradient(#1d0e00 0,#1e0e00 102.5px)"></i>
<i style="left:436px;top:238px;width:2px;height:103px;background:linear-gradient(#040200 0,#0b0500 102.5px)"></i>
<i style="left:438px;top:238px;width:2px;height:103px;background:linear-gradient(#000000 0,#000000 102.5px)"></i>
<i style="left:440px;top:238px;width:2px;height:103px;background:linear-gradient(#000000 0,#000000 102.5px)"></i>
<i style="left:442px;top:238px;width:2px;height:103px;background:linear-gradient(#000000 0,#000000 102.5px)"></i>
<i style="left:444px;top:238px;width:2px;height:103px;background:linear-gradient(#000000 0,#000000 102.5px)"></i>
<i style="left:446px;top:238px;width:2px;height:103px;background:linear-gradient(#000000 0,#000000 102.5px)"></i>
<i style="left:448px;top:238px;width:2px;height:103px;background:linear-gradient(#000000 0,#000000 102.5px)"></i>
<i style="left:450px;top:238px;width:2px;height:103px;background:linear-gradient(#000000 0,#000000 102.5px)"></i>
<i style="left:452px;top:238px;width:2px;height:103px;background:linear-gradient(#000000 0,#000000 102.5px)"></i>
<i style="left:454px;top:238px;width:2px;height:103px;background:linear-gradient(#000000 0,#000000 102.5px)"></i>
<i style="left:456px;top:238px;width:2px;height:103px;background:linear-gradient(#000000 0,#0c0600 58.5px,#3c1d01 78.5px,#130900 90.5px,#000000 97.5px,#000000 102.5px)"></i>
<i style="left:458px;top:238px;width:2px;height:103px;background:linear-gradient(#020100 0,#140900 38.5px,#683304 64.5px,#924805 76.5px,#6a3404 87.5px,#030100 96.5px,#000000 102.5px)"></i>
<i style="left:460px;top:238px;width:2px;height:103px;background:linear-gradient(#291300 0,#3c1d01 29.5px,#a75405 56.5px,#ec8301 71.5px,#df7502 83.5px,#9e4f05 90.5px,#040200 98.5px,#000000 102.5px)"></i>
<i style="left:462px;top:238px;width:2px;height:103px;background:linear-gradient(#6b3404 0,#7f3e05 26.5px,#c46503 43.5px,#ff9d00 58.5px,#ffce00 74.5px,#fd9200 88.5px,#d87102 91.5px,#0e0700 99.5px,#000000 102.5px)"></i>
<i style="left:464px;top:238px;width:2px;height:103px;background:linear-gradient(#ae5804 0,#c76703 26.5px,#ff9f00 45.5px,#f5e200 60.5px,#bae500 73.5px,#ffde00 85.5px,#fa8b00 92.5px,#874205 96.5px,#2b1500 99.5px,#020100 102.5px)"></i>
<i style="left:466px;top:238px;width:2px;height:103px;background:linear-gradient(#e57901 0,#ff9200 30.5px,#f7e600 51.5px,#3ad400 71.5px,#4ad600 76.5px,#fae700 88.5px,#ff9900 93.5px,#f78500 94.5px,#492302 99.5px,#100800 102.5px)"></i>
<i style="left:468px;top:238px;width:2px;height:103px;background:linear-gradient(#ff8e00 0,#ffa500 29.5px,#f5ec00 47.5px,#0ecd02 65.5px,#00c60e 75.5px,#13cf00 79.5px,#fcea00 90.5px,#f98600 95.5px,#633003 99.5px,#1f0f00 102.5px)"></i>
<i style="left:470px;top:238px;width:2px;height:103px;background:linear-gradient(#ff9700 0,#ffaf00 29.5px,#fbed00 44.5px,#6ddb00 54.5px,#04cc02 61.5px,#00bb26 74.5px,#07cd01 81.5px,#ffe700 91.5px,#ff9500 95.5px,#f17f01 96.5px,#7b3c05 99.5px,#2c1500 102.5px)"></i>
<i style="left:472px;top:238px;width:2px;height:103px;background:linear-gradient(#ff9900 0,#ffb200 29.5px,#feee00 43.5px,#7fde00 52.5px,#03cc00 59.5px,#00b82e 74.5px,#07cd00 82.5px,#fdee00 91.5px,#ff8d00 96.5px,#582a03 101.5px,#391c01 102.5px)"></i>
<i style="left:474px;top:238px;width:2px;height:103px;background:linear-gradient(#ff9900 0,#ffb100 29.5px,#feee00 43.5px,#82de00 52.5px,#06cd00 59.5px,#00b82d 74.5px,#0bce00 82.5px,#f9ed00 91.5px,#f78300 97.5px,#482302 102.5px)"></i>
<i style="left:476px;top:238px;width:2px;height:103px;background:linear-gradient(#ff9500 0,#ffad00 29.5px,#f6ed00 45.5px,#56d800 56.5px,#06cc02 62.5px,#00bd21 74.5px,#04cb03 80.5px,#fded00 91.5px,#ff8f00 97.5px,#572a03 102.5px)"></i>
<i style="left:478px;top:238px;width:2px;height:103px;background:linear-gradient(#fc8900 0,#ffa200 30.5px,#f5eb00 48.5px,#11cd02 67.5px,#06ca07 75.5px,#2cd200 79.5px,#f9eb00 90.5px,#ff9700 97.5px,#f58201 98.5px,#633003 102.5px)"></i>
<i style="left:480px;top:238px;width:2px;height:103px;background:linear-gradient(#d77002 0,#f28101 26.5px,#ffc700 47.5px,#ece900 55.5px,#62da00 71.5px,#70db00 76.5px,#ffe400 88.5px,#ff9800 97.5px,#fc8600 98.5px,#683304 102.5px)"></i>
<i style="left:482px;top:238px;width:2px;height:103px;background:linear-gradient(#9c4d05 0,#b25b04 26.5px,#ff9c00 48.5px,#f3e200 65.5px,#e1ea00 75.5px,#ffcf00 85.5px,#ff9100 97.5px,#f68300 98.5px,#673204 102.5px)"></i>
<i style="left:484px;top:238px;width:2px;height:103px;background:linear-gradient(#552903 0,#6a3304 27.5px,#c66703 49.5px,#ff9b00 63.5px,#ffb600 76.5px,#f48401 93.5px,#f88400 97.5px,#ad5704 100.5px,#5f2e03 102.5px)"></i>
<i style="left:486px;top:238px;width:2px;height:103px;background:linear-gradient(#180c00 0,#2c1500 31.5px,#934905 58.5px,#dc7302 75.5px,#a95504 91.5px,#d97102 96.5px,#b55c04 99.5px,#522802 102.5px)"></i>
<i style="left:488px;top:238px;width:2px;height:103px;background:linear-gradient(#000000 0,#0e0700 42.5px,#5b2c03 67.5px,#753905 78.5px,#5a2b03 89.5px,#823f05 93.5px,#af5904 96.5px,#9c4d05 99.5px,#432001 102.5px)"></i>
<i style="left:490px;top:238px;width:2px;height:103px;background:linear-gradient(#000000 0,#0c0600 64.5px,#281300 79.5px,#1e0e00 89.5px,#502702 93.5px,#874205 96.5px,#7d3d05 99.5px,#321800 102.5px)"></i>
<i style="left:492px;top:238px;width:2px;height:103px;background:linear-gradient(#000000 0,#040200 90.5px,#673204 97.5px,#4b2402 100.5px,#200f00 102.5px)"></i>
<i style="left:494px;top:238px;width:2px;height:103px;background:linear-gradient(#000000 0,#040200 92.5px,#432001 97.5px,#2f1600 100.5px,#0e0700 102.5px)"></i>
<i style="left:496px;top:238px;width:2px;height:103px;background:linear-gradient(#000000 0,#010100 93.5px,#231100 98.5px,#010000 102.5px)"></i>
<i style="left:498px;top:238px;width:2px;height:103px;background:linear-gradient(#000000 0,#000000 102.5px)"></i>
<i style="left:500px;top:238px;width:2px;height:103px;background:linear-gradient(#000000 0,#000000 102.5px)"></i>
<i style="left:502px;top:238px;width:2px;height:103px;background:linear-gradient(#000000 0,#000000 102.5px)"></i>
<i style="left:504px;top:238px;width:2px;height:103px;background:linear-gradient(#000000 0,#000000 102.5px)"></i>
<i style="left:506px;top:238px;width:1px;height:103px;background:linear-gradient(#000000 0,#000000 102.5px)"></i>
<i style="left:390px;top:351px;width:2px;height:103px;background:linear-gradient(#000000 0,#090400 16.5px,#211000 21.5px,#000000 28.5px,#010000 55.5px,#4f2602 62.5px,#3f1e01 67.5px,#010100 73.5px,#130900 79.5px,#6b3404 90.5px,#8f4606 100.5px,#723704 102.5px)"></i>
<i style="left:392px;top:351px;width:2px;height:103px;background:linear-gradient(#000000 0,#070300 16.5px,#281300 21.5px,#000000 29.5px,#060300 56.5px,#432001 63.5px,#1e0e00 69.5px,#000000 74.5px,#271300 80.5px,#693304 89.5px,#9a4c05 100.5px,#7e3d05 102.5px)"></i>
<i style="left:394px;top:351px;width:2px;height:103px;background:linear-gradient(#000000 0,#040200 16.5px,#2d1600 22.5px,#000000 29.5px,#090400 42.5px,#060300 58.5px,#200f00 64.5px,#000000 74.5px,#5f2e03 86.5px,#7f3e05 95.5px,#9c4d05 100.5px,#813f05 102.5px)"></i>
<i style="left:396px;top:351px;width:2px;height:103px;background:linear-gradient(#000000 0,#010000 16.5px,#321800 22.5px,#000000 30.5px,#0c0600 38.5px,#0a0500 43.5px,#030200 75.5px,#5b2c03 83.5px,#6c3404 94.5px,#964a05 99.5px,#7a3b05 102.5px)"></i>
<i style="left:398px;top:351px;width:2px;height:103px;background:linear-gradient(#000000 0,#080400 17.5px,#371a01 23.5px,#000000 31.5px,#080400 37.5px,#180b00 42.5px,#000000 47.5px,#000000 74.5px,#673204 82.5px,#572a03 93.5px,#823f05 100.5px,#6a3304 102.5px)"></i>
<i style="left:400px;top:351px;width:2px;height:103px;background:linear-gradient(#000000 0,#030100 17.5px,#3a1c01 23.5px,#1b0d00 28.5px,#000000 32.5px,#090500 37.5px,#200f00 42.5px,#000000 48.5px,#050300 74.5px,#6e3604 80.5px,#793b05 84.5px,#432001 92.5px,#683304 100.5px,#542802 102.5px)"></i>
<i style="left:402px;top:351px;width:2px;height:103px;background:linear-gradient(#000000 0,#090400 18.5px,#3e1e01 24.5px,#000000 33.5px,#140900 38.5px,#241100 43.5px,#000000 48.5px,#010100 73.5px,#8b4406 80.5px,#8c4406 84.5px,#361a00 91.5px,#3d1d01 96.5px,#4b2402 100.5px,#3a1c01 102.5px)"></i>
<i style="left:404px;top:351px;width:2px;height:103px;background:linear-gradient(#000000 0,#030100 18.5px,#3f1e01 24.5px,#211000 29.5px,#000000 33.5px,#150a00 38.5px,#2c1500 43.5px,#000000 48.5px,#000000 72.5px,#3e1e01 75.5px,#9e4e05 79.5px,#b25a04 82.5px,#823f05 86.5px,#291400 91.5px,#251200 96.5px,#2a1400 101.5px,#211000 102.5px)"></i>
<i style="left:406px;top:351px;width:2px;height:103px;background:linear-gradient(#000000 0,#080400 19.5px,#411f01 25.5px,#000000 34.5px,#341900 43.5px,#000000 49.5px,#040200 72.5px,#ad5804 78.5px,#d36e02 81.5px,#be6203 84.5px,#211000 91.5px,#0d0600 95.5px,#0b0500 102.5px)"></i>
<i style="left:408px;top:351px;width:2px;height:103px;background:linear-gradient(#000000 0,#020100 19.5px,#3f1f01 25.5px,#241100 30.5px,#020100 35.5px,#3b1c01 43.5px,#000000 50.5px,#000000 71.5px,#512702 74.5px,#d26d02 78.5px,#f78500 81.5px,#df7502 84.5px,#1e0e00 91.5px,#010000 94.5px,#000000 102.5px)"></i>
<i style="left:410px;top:351px;width:2px;height:103px;background:linear-gradient(#000000 0,#060300 20.5px,#3f1f01 26.5px,#050200 35.5px,#412001 43.5px,#200f00 47.5px,#000000 50.5px,#050300 71.5px,#f78500 78.5px,#ff9a00 82.5px,#fd8b00 84.5px,#aa5604 87.5px,#200f00 91.5px,#000000 93.5px,#000000 102.5px)"></i>
<i style="left:412px;top:351px;width:2px;height:103px;background:linear-gradient(#000000 0,#0a0500 21.5px,#3e1e01 27.5px,#080400 36.5px,#472202 43.5px,#2a1400 47.5px,#000000 50.5px,#000000 70.5px,#351900 72.5px,#e07602 76.5px,#fd8b00 77.5px,#ffb200 81.5px,#ff9200 85.5px,#ef7f01 86.5px,#271300 91.5px,#000000 93.5px,#000000 102.5px)"></i>
<i style="left:414px;top:351px;width:2px;height:103px;background:linear-gradient(#000000 0,#020100 21.5px,#3a1c01 27.5px,#090400 36.5px,#4d2502 44.5px,#241100 48.5px,#000000 51.5px,#030100 70.5px,#7b3c05 73.5px,#fe8c00 76.5px,#ffc700 80.5px,#ffb700 84.5px,#ff9400 86.5px,#eb7c01 87.5px,#341900 91.5px,#000000 93.5px,#000000 102.5px)"></i>
<i style="left:416px;top:351px;width:2px;height:103px;background:linear-gradient(#000000 0,#050200 22.5px,#371a01 28.5px,#0d0600 37.5px,#512702 44.5px,#2e1600 48.5px,#000000 51.5px,#000000 69.5px,#0e0700 70.5px,#984b05 73.5px,#fa8700 75.5px,#ffd600 79.5px,#ffe100 82.5px,#ffa900 86.5px,#ff9100 87.5px,#ab5604 89.5px,#1e0e00 92.5px,#010100 93.5px,#000000 102.5px)"></i>
<i style="left:418px;top:351px;width:2px;height:103px;background:linear-gradient(#000000 0,#070300 23.5px,#331800 29.5px,#0d0600 37.5px,#542902 44.5px,#452101 47.5px,#000000 52.5px,#000000 69.5px,#472202 71.5px,#ed7d01 74.5px,#ffb600 76.5px,#fbea00 79.5px,#eeec00 82.5px,#ffd500 85.5px,#fc8a00 88.5px,#2d1600 92.5px,#0a0500 93.5px,#000000 102.5px)"></i>
<i style="left:420px;top:351px;width:2px;height:103px;background:linear-gradient(#000000 0,#090400 24.5px,#2d1600 29.5px,#0c0600 37.5px,#592b03 45.5px,#2f1700 49.5px,#000000 52.5px,#050300 69.5px,#5c2c03 71.5px,#ff9000 74.5px,#ffe300 77.5px,#c7e700 81.5px,#e7eb00 84.5px,#ffd600 86.5px,#ff9f00 88.5px,#ee7e01 89.5px,#401f01 92.5px,#160a00 93.5px,#000000 94.5px,#000000 102.5px)"></i>
<i style="left:422px;top:351px;width:2px;height:103px;background:linear-gradient(#000000 0,#090400 25.5px,#281300 30.5px,#0f0700 38.5px,#5b2c03 45.5px,#482302 48.5px,#040200 52.5px,#000000 68.5px,#100700 69.5px,#723704 71.5px,#f07f01 73.5px,#ffdf00 76.5px,#cfe800 78.5px,#a4e200 81.5px,#c2e600 84.5px,#fbea00 86.5px,#ff9200 89.5px,#934806 91.5px,#241100 93.5px,#020100 94.5px,#000000 102.5px)"></i>
<i style="left:424px;top:351px;width:2px;height:103px;background:linear-gradient(#000000 0,#090400 26.5px,#221000 31.5px,#0d0600 38.5px,#5b2c03 45.5px,#4e2602 48.5px,#000000 53.5px,#000000 68.5px,#1b0d00 69.5px,#894306 71.5px,#ff9000 73.5px,#f6ed00 76.5px,#98e100 79.5px,#82de00 82.5px,#bbe500 85.5px,#ffe800 87.5px,#f28001 90.5px,#351a00 93.5px,#0c0600 94.5px,#000000 100.5px,#000000 102.5px)"></i>
<i style="left:426px;top:351px;width:2px;height:103px;background:linear-gradient(#000000 0,#080400 27.5px,#190c00 33.5px,#100800 39.5px,#5e2d03 46.5px,#472202 49.5px,#020100 53.5px,#010100 68.5px,#5d2d03 70.5px,#e47801 72.5px,#ffa000 73.5px,#ffe800 75.5px,#74dc00 79.5px,#5bd900 82.5px,#9ae100 85.5px,#e7eb00 87.5px,#ffdd00 88.5px,#ff9300 90.5px,#492302 93.5px,#180c00 94.5px,#000000 95.5px,#000000 102.5px)"></i>
<i style="left:428px;top:351px;width:2px;height:103px;background:linear-gradient(#000000 0,#070300 28.5px,#120800 34.5px,#0d0600 39.5px,#5d2d03 46.5px,#4c2502 49.5px,#000000 54.5px,#080400 68.5px,#6f3604 70.5px,#fb8700 72.5px,#ffd700 74.5px,#ecec00 75.5px,#6ddb00 78.5px,#40d500 80.5px,#43d500 83.5px,#9de200 86.5px,#f9ec00 88.5px,#ffa500 90.5px,#ea7c01 91.5px,#261200 94.5px,#010000 95.5px,#000000 102.5px)"></i>
<i style="left:430px;top:351px;width:2px;height:103px;background:linear-gradient(#000000 0,#0a0500 30.5px,#100700 40.5px,#5a2c03 46.5px,#512702 49.5px,#000000 54.5px,#000000 67.5px,#100800 68.5px,#823f05 70.5px,#ff9500 72.5px,#ffe700 74.5px,#4dd700 78.5px,#1ad000 81.5px,#37d400 84.5px,#a9e300 87.5px,#ffdf00 89.5px,#ff8d00 91.5px,#351a00 94.5px,#090400 95.5px,#000000 102.5px)"></i>
<i style="left:432px;top:351px;width:2px;height:103px;background:linear-gradient(#000000 0,#0b0500 40.5px,#5b2c03 47.5px,#472202 50.5px,#030200 54.5px,#000000 67.5px,#190c00 68.5px,#944906 70.5px,#df7502 71.5px,#ffa200 72.5px,#f2ec00 74.5px,#55d800 77.5px,#18cf00 79.5px,#04cc01 82.5px,#1ad000 84.5px,#5ad800 86.5px,#f9ed00 89.5px,#ff9d00 91.5px,#d66f02 92.5px,#462202 94.5px,#140900 95.5px,#000000 97.5px,#000000 102.5px)"></i>
<i style="left:434px;top:351px;width:2px;height:103px;background:linear-gradient(#000000 0,#060300 40.5px,#572a03 47.5px,#4a2402 50.5px,#000000 55.5px,#000000 67.5px,#211000 68.5px,#a45205 70.5px,#f38101 71.5px,#ffdb00 73.5px,#dbea00 74.5px,#3bd400 77.5px,#03cc01 79.5px,#04cc01 84.5px,#3cd400 86.5px,#deea00 89.5px,#ffd900 90.5px,#f07f01 92.5px,#582a03 94.5px,#1f0f00 95.5px,#000000 96.5px,#000000 102.5px)"></i>
<i style="left:436px;top:351px;width:2px;height:103px;background:linear-gradient(#000000 0,#080400 41.5px,#552903 48.5px,#2f1700 52.5px,#000000 55.5px,#000000 67.5px,#291400 68.5px,#ff8c00 71.5px,#ffe800 73.5px,#23d100 77.5px,#04cc00 78.5px,#00c907 84.5px,#04cc01 85.5px,#4fd700 87.5px,#ffe900 90.5px,#ff8e00 92.5px,#2b1500 95.5px,#010100 96.5px,#000000 102.5px)"></i>
<i style="left:438px;top:351px;width:2px;height:103px;background:linear-gradient(#000000 0,#030100 41.5px,#502702 48.5px,#331800 52.5px,#020100 55.5px,#050200 67.5px,#321800 68.5px,#ff9600 71.5px,#f7ed00 73.5px,#3bd400 76.5px,#10ce00 77.5px,#00c70c 79.5px,#00c906 85.5px,#0cce00 86.5px,#6ddb00 88.5px,#efec00 90.5px,#ff9b00 92.5px,#cc6a03 93.5px,#381b01 95.5px,#080400 96.5px,#000000 102.5px)"></i>
<i style="left:440px;top:351px;width:2px;height:103px;background:linear-gradient(#000000 0,#050200 42.5px,#4a2402 48.5px,#412001 51.5px,#000000 56.5px,#090400 67.5px,#3a1c01 68.5px,#d16d02 70.5px,#ff9f00 71.5px,#ffcf00 72.5px,#e5eb00 73.5px,#27d100 76.5px,#01cc01 77.5px,#00c315 83.5px,#00cb03 86.5px,#1fd000 87.5px,#d8e900 90.5px,#ffd800 91.5px,#ffa800 92.5px,#e17602 93.5px,#452101 95.5px,#100800 96.5px,#000000 98.5px,#000000 102.5px)"></i>
<i style="left:442px;top:351px;width:2px;height:103px;background:linear-gradient(#000000 0,#080400 43.5px,#472202 49.5px,#281300 53.5px,#000000 56.5px,#000000 66.5px,#0d0600 67.5px,#411f01 68.5px,#de7402 70.5px,#ffa700 71.5px,#ffd800 72.5px,#d6e900 73.5px,#17cf00 76.5px,#00ca06 77.5px,#00c118 83.5px,#0cce00 87.5px,#80de00 89.5px,#ffe500 91.5px,#f58201 93.5px,#522802 95.5px,#190c00 96.5px,#000000 97.5px,#000000 102.5px)"></i>
<i style="left:444px;top:351px;width:2px;height:103px;background:linear-gradient(#000000 0,#010100 43.5px,#401f01 49.5px,#291400 53.5px,#000000 56.5px,#000000 66.5px,#120800 67.5px,#482302 68.5px,#e97b01 70.5px,#ffae00 71.5px,#ffe000 72.5px,#83de00 74.5px,#09cd00 76.5px,#00c01c 82.5px,#00cb02 87.5px,#2ad200 88.5px,#faed00 91.5px,#ff8d00 93.5px,#602e03 95.5px,#211000 96.5px,#000000 97.5px,#000000 102.5px)"></i>
<i style="left:446px;top:351px;width:2px;height:103px;background:linear-gradient(#000000 0,#030200 44.5px,#3c1d01 50.5px,#0f0700 55.5px,#000000 59.5px,#000000 66.5px,#150a00 67.5px,#4e2602 68.5px,#f48101 70.5px,#ffe800 72.5px,#30d300 75.5px,#00cc01 76.5px,#00bf1d 81.5px,#00c907 87.5px,#19cf00 88.5px,#e9eb00 91.5px,#ffca00 92.5px,#ff9700 93.5px,#6c3504 95.5px,#291400 96.5px,#000000 97.5px,#000000 102.5px)"></i>
<i style="left:448px;top:351px;width:2px;height:103px;background:linear-gradient(#000000 0,#060300 45.5px,#341900 50.5px,#1d0e00 54.5px,#000000 57.5px,#000000 66.5px,#180c00 67.5px,#532802 68.5px,#fc8600 70.5px,#feed00 72.5px,#25d100 75.5px,#00ca04 76.5px,#00be1f 82.5px,#00c70b 87.5px,#0bce00 88.5px,#90e000 90.5px,#d9e900 91.5px,#ffd300 92.5px,#ff9f00 93.5px,#cd6a03 94.5px,#321800 96.5px,#030100 97.5px,#000000 102.5px)"></i>
<i style="left:450px;top:351px;width:2px;height:103px;background:linear-gradient(#000000 0,#090400 46.5px,#2f1600 51.5px,#000000 58.5px,#000000 66.5px,#1b0d00 67.5px,#572a03 68.5px,#ff8a00 70.5px,#f8ed00 72.5px,#1cd000 75.5px,#00c907 76.5px,#00bb27 84.5px,#01cc01 88.5px,#36d400 89.5px,#cbe700 91.5px,#ffdc00 92.5px,#ffa700 93.5px,#da7202 94.5px,#3a1c01 96.5px,#080400 97.5px,#000000 102.5px)"></i>
<i style="left:452px;top:351px;width:2px;height:103px;background:linear-gradient(#000000 0,#010100 46.5px,#271300 52.5px,#000000 58.5px,#000000 66.5px,#1d0e00 67.5px,#ac5704 69.5px,#ff8d00 70.5px,#f2ec00 72.5px,#15cf00 75.5px,#00c809 76.5px,#00b730 81.5px,#00a25a 83.5px,#00b535 85.5px,#00ca04 88.5px,#2ad200 89.5px,#ffe400 92.5px,#ffaf00 93.5px,#e67901 94.5px,#411f01 96.5px,#0c0600 97.5px,#000000 102.5px)"></i>
<i style="left:454px;top:351px;width:2px;height:103px;background:linear-gradient(#000000 0,#030100 47.5px,#211000 52.5px,#000000 59.5px,#000000 66.5px,#1e0e00 67.5px,#af5904 69.5px,#ff8f00 70.5px,#edec00 72.5px,#10ce00 75.5px,#00c315 77.5px,#00b730 80.5px,#009b66 81.5px,#4b8989 82.5px,#8fa6a6 83.5px,#6f9999 84.5px,#158f74 85.5px,#00b339 86.5px,#00c907 88.5px,#20d000 89.5px,#ffea00 92.5px,#f18001 94.5px,#482302 96.5px,#100800 97.5px,#000000 99.5px,#000000 102.5px)"></i>
<i style="left:456px;top:351px;width:2px;height:103px;background:linear-gradient(#000000 0,#040200 48.5px,#190c00 53.5px,#000000 59.5px,#000000 66.5px,#1e0e00 67.5px,#b15a04 69.5px,#ff9000 70.5px,#ffc600 71.5px,#eaeb00 72.5px,#4cd700 74.5px,#0cce00 75.5px,#00bb27 79.5px,#00a05c 80.5px,#91a2a2 81.5px,#8286ef 82.5px,#172eec 83.5px,#4453ee 84.5px,#b9bfd2 85.5px,#138e76 86.5px,#00bb28 87.5px,#00c80a 88.5px,#18cf00 89.5px,#fcee00 92.5px,#fa8500 94.5px,#4e2602 96.5px,#140900 97.5px,#000000 99.5px,#000000 102.5px)"></i>
<i style="left:458px;top:351px;width:2px;height:103px;background:linear-gradient(#000000 0,#040200 49.5px,#110800 54.5px,#000000 61.5px,#000000 66.5px,#1e0e00 67.5px,#b15a04 69.5px,#ff9000 70.5px,#ffc600 71.5px,#eaeb00 72.5px,#4bd600 74.5px,#0bcd00 75.5px,#00bf1d 78.5px,#00b437 79.5px,#518282 80.5px,#3d4eee 81.5px,#0000dd 82.5px,#0000dd 85.5px,#bebebe 86.5px,#00a94d 87.5px,#00c510 88.5px,#12ce00 89.5px,#f5ed00 92.5px,#ff8900 94.5px,#532802 96.5px,#170b00 97.5px,#000000 98.5px,#000000 102.5px)"></i>
<i style="left:460px;top:351px;width:2px;height:103px;background:linear-gradient(#000000 0,#090400 51.5px,#000000 66.5px,#1d0e00 67.5px,#5c2d03 68.5px,#ff9000 70.5px,#ffc500 71.5px,#ebeb00 72.5px,#4bd600 74.5px,#0bcd00 75.5px,#00be20 78.5px,#00a15a 79.5px,#c6cee7 80.5px,#0000dd 81.5px,#0000dd 85.5px,#1933ee 86.5px,#19877f 87.5px,#00c11a 88.5px,#0dce00 89.5px,#efec00 92.5px,#ff8d00 94.5px,#572a03 96.5px,#1a0c00 97.5px,#000000 98.5px,#000000 102.5px)"></i>
<i style="left:462px;top:351px;width:2px;height:103px;background:linear-gradient(#000000 0,#000000 66.5px,#1b0d00 67.5px,#592b03 68.5px,#ff8e00 70.5px,#edec00 72.5px,#0cce00 75.5px,#00bc25 78.5px,#108881 79.5px,#0e1de7 80.5px,#0000dd 81.5px,#0000dd 86.5px,#979797 87.5px,#00bb28 88.5px,#08cd00 89.5px,#ecec00 92.5px,#ff8f00 94.5px,#5b2c03 96.5px,#1c0d00 97.5px,#000000 98.5px,#000000 102.5px)"></i>
<i style="left:464px;top:351px;width:2px;height:103px;background:linear-gradient(#000000 0,#000000 66.5px,#190c00 67.5px,#562903 68.5px,#ff8b00 70.5px,#f2ec00 72.5px,#10ce00 75.5px,#00c216 77.5px,#00b92b 78.5px,#637a7a 79.5px,#0000dd 80.5px,#0000dd 86.5px,#ecedef 87.5px,#00b438 88.5px,#04cd00 89.5px,#eaeb00 92.5px,#ffc600 93.5px,#ff9000 94.5px,#5d2d03 96.5px,#1d0e00 97.5px,#000000 98.5px,#000000 102.5px)"></i>
<i style="left:466px;top:351px;width:2px;height:103px;background:linear-gradient(#000000 0,#000000 66.5px,#160b00 67.5px,#512702 68.5px,#fe8800 70.5px,#f8ed00 72.5px,#15cf00 75.5px,#00c80a 76.5px,#00b730 78.5px,#999999 79.5px,#0000dd 80.5px,#0000dd 86.5px,#7d9eff 87.5px,#00ad45 88.5px,#03cc00 89.5px,#eaeb00 92.5px,#ffc600 93.5px,#ff9000 94.5px,#5d2d03 96.5px,#1e0e00 97.5px,#000000 98.5px,#000000 102.5px)"></i>
<i style="left:468px;top:351px;width:2px;height:103px;background:linear-gradient(#000000 0,#000000 66.5px,#130900 67.5px,#4c2502 68.5px,#f68300 70.5px,#ffed00 72.5px,#1cd000 75.5px,#00c908 76.5px,#00b631 78.5px,#a9a9a9 79.5px,#0000dd 80.5px,#0000dd 86.5px,#3f6fff 87.5px,#00ab4a 88.5px,#04cd00 89.5px,#ecec00 92.5px,#ff9000 94.5px,#5d2d03 96.5px,#1e0e00 97.5px,#000000 98.5px,#000000 102.5px)"></i>
<i style="left:470px;top:351px;width:2px;height:103px;background:linear-gradient(#000000 0,#000000 66.5px,#0f0700 67.5px,#452101 68.5px,#ec7d01 70.5px,#ffe700 72.5px,#25d100 75.5px,#00ca05 76.5px,#00b82e 78.5px,#979797 79.5px,#0000dd 80.5px,#0000dd 86.5px,#84a3ff 87.5px,#00af42 88.5px,#09cd00 89.5px,#efec00 92.5px,#ff8e00 94.5px,#5c2c03 96.5px,#1d0e00 97.5px,#000000 98.5px,#000000 102.5px)"></i>
<i style="left:472px;top:351px;width:2px;height:103px;background:linear-gradient(#000000 0,#000000 66.5px,#0b0500 67.5px,#3e1e01 68.5px,#e17602 70.5px,#ffab00 71.5px,#ffe000 72.5px,#79dd00 74.5px,#30d300 75.5px,#00cb02 76.5px,#00bb27 78.5px,#5d7b7b 79.5px,#0000dd 80.5px,#0000dd 86.5px,#ebebeb 87.5px,#00b534 88.5px,#12cf00 89.5px,#f4ed00 92.5px,#ff8c00 94.5px,#592b03 96.5px,#1b0d00 97.5px,#000000 98.5px,#000000 102.5px)"></i>
<i style="left:474px;top:351px;width:2px;height:103px;background:linear-gradient(#000000 0,#060300 67.5px,#361a01 68.5px,#d46e02 70.5px,#ffa400 71.5px,#ffd800 72.5px,#d2e800 73.5px,#3dd400 75.5px,#05cd00 76.5px,#00bf1f 78.5px,#0b8b7f 79.5px,#1020e8 80.5px,#0000dd 81.5px,#0000dd 86.5px,#8e9191 87.5px,#00bd21 88.5px,#1dd000 89.5px,#fcee00 92.5px,#ff8900 94.5px,#552903 96.5px,#190c00 97.5px,#000000 98.5px,#000000 102.5px)"></i>
<i style="left:476px;top:351px;width:2px;height:103px;background:linear-gradient(#000000 0,#020100 67.5px,#2e1600 68.5px,#c66603 70.5px,#ff9b00 71.5px,#ffcf00 72.5px,#e0ea00 73.5px,#12ce00 76.5px,#00c217 78.5px,#00a653 79.5px,#cad1e4 80.5px,#0000dd 81.5px,#0000dd 85.5px,#273dee 86.5px,#128b7b 87.5px,#00c511 88.5px,#29d200 89.5px,#ffeb00 92.5px,#f88400 94.5px,#512702 96.5px,#170b00 97.5px,#000000 98.5px,#000000 102.5px)"></i>
<i style="left:478px;top:351px;width:2px;height:103px;background:linear-gradient(#000000 0,#000000 67.5px,#261200 68.5px,#b75e04 70.5px,#ff9200 71.5px,#f1ec00 73.5px,#21d100 76.5px,#00ca04 77.5px,#00b82e 79.5px,#457f7f 80.5px,#4755ee 81.5px,#0000dd 82.5px,#0306df 85.5px,#b2b2b2 86.5px,#00ae42 87.5px,#00ca04 88.5px,#7bdd00 90.5px,#ffe400 92.5px,#ef7e01 94.5px,#4b2402 96.5px,#130900 97.5px,#000000 99.5px,#000000 102.5px)"></i>
<i style="left:480px;top:351px;width:2px;height:103px;background:linear-gradient(#000000 0,#000000 67.5px,#1e0e00 68.5px,#a85405 70.5px,#fd8800 71.5px,#ffeb00 73.5px,#33d300 76.5px,#04cc00 77.5px,#00c01b 79.5px,#00a652 80.5px,#859e9e 81.5px,#8188ed 82.5px,#1d35ee 83.5px,#545fee 84.5px,#c3c5cb 85.5px,#089371 86.5px,#00c01c 87.5px,#0cce00 88.5px,#cfe800 91.5px,#ffdd00 92.5px,#ffab00 93.5px,#e47801 94.5px,#452101 96.5px,#0f0700 97.5px,#000000 99.5px,#000000 102.5px)"></i>
<i style="left:482px;top:351px;width:2px;height:103px;background:linear-gradient(#000000 0,#000000 67.5px,#150a00 68.5px,#4c2502 69.5px,#eb7c01 71.5px,#ffdf00 73.5px,#8cdf00 75.5px,#15cf00 77.5px,#00ca06 78.5px,#00bc25 80.5px,#00a15b 81.5px,#408682 82.5px,#7fa2a2 83.5px,#5e9494 84.5px,#0a946e 85.5px,#00b92c 86.5px,#00c808 87.5px,#1ed000 88.5px,#ddea00 91.5px,#ffd400 92.5px,#ffa300 93.5px,#d77002 94.5px,#3d1e01 96.5px,#0b0500 97.5px,#000000 102.5px)"></i>
<i style="left:484px;top:351px;width:2px;height:103px;background:linear-gradient(#000000 0,#000000 67.5px,#0d0600 68.5px,#3f1e01 69.5px,#d67002 71.5px,#ffa100 72.5px,#ffd100 73.5px,#e3ea00 74.5px,#2ad200 77.5px,#03cc01 78.5px,#00bc23 81.5px,#00a84d 83.5px,#00bb28 85.5px,#05cd00 87.5px,#69db00 89.5px,#eeec00 91.5px,#ff9a00 93.5px,#ca6803 94.5px,#361a00 96.5px,#070300 97.5px,#000000 102.5px)"></i>
<i style="left:486px;top:351px;width:2px;height:103px;background:linear-gradient(#000000 0,#060300 68.5px,#321800 69.5px,#ff9400 72.5px,#faed00 74.5px,#42d500 77.5px,#17cf00 78.5px,#00cb03 79.5px,#00c217 84.5px,#00cb03 86.5px,#45d600 88.5px,#fdec00 91.5px,#ff9100 93.5px,#2d1600 96.5px,#020100 97.5px,#000000 102.5px)"></i>
<i style="left:488px;top:351px;width:2px;height:103px;background:linear-gradient(#000000 0,#000000 68.5px,#261200 69.5px,#ac5704 71.5px,#fb8700 72.5px,#ffe100 74.5px,#5dd900 77.5px,#0dce00 79.5px,#00c70b 82.5px,#0dce00 86.5px,#5dd900 88.5px,#ffe100 91.5px,#fc8700 93.5px,#612f03 95.5px,#251200 96.5px,#000000 97.5px,#000000 102.5px)"></i>
<i style="left:490px;top:351px;width:2px;height:103px;background:linear-gradient(#000000 0,#000000 68.5px,#1a0c00 69.5px,#964a05 71.5px,#e37701 72.5px,#ffa500 73.5px,#ecec00 75.5px,#4bd600 78.5px,#0dce00 80.5px,#01cb02 84.5px,#24d100 86.5px,#77dd00 88.5px,#e7eb00 90.5px,#ffd400 91.5px,#ffa800 92.5px,#e97b01 93.5px,#542902 95.5px,#1d0e00 96.5px,#000000 97.5px,#000000 102.5px)"></i>
<i style="left:492px;top:351px;width:2px;height:103px;background:linear-gradient(#000000 0,#000000 68.5px,#0f0700 69.5px,#803e05 71.5px,#ff9500 73.5px,#ffe800 75.5px,#43d500 79.5px,#0ece00 82.5px,#25d100 85.5px,#63da00 87.5px,#fcec00 90.5px,#ff9c00 92.5px,#d46f02 93.5px,#472202 95.5px,#140a00 96.5px,#000000 97.5px,#000000 102.5px)"></i>
<i style="left:494px;top:351px;width:2px;height:103px;background:linear-gradient(#000000 0,#050200 69.5px,#693304 71.5px,#f88500 73.5px,#ffd600 75.5px,#ebeb00 76.5px,#64da00 79.5px,#33d300 81.5px,#30d300 84.5px,#5cd900 86.5px,#deea00 89.5px,#ffdf00 90.5px,#ff8e00 92.5px,#3a1c01 95.5px,#0c0600 96.5px,#000000 101.5px,#000000 102.5px)"></i>
<i style="left:496px;top:351px;width:2px;height:103px;background:linear-gradient(#000000 0,#000000 69.5px,#1f0f00 70.5px,#954906 72.5px,#db7302 73.5px,#ff9c00 74.5px,#ffe700 76.5px,#6adb00 80.5px,#48d600 83.5px,#62da00 85.5px,#c9e700 88.5px,#f9ed00 89.5px,#ffa800 91.5px,#f18001 92.5px,#2d1500 95.5px,#040200 96.5px,#000000 102.5px)"></i>
<i style="left:498px;top:351px;width:2px;height:103px;background:linear-gradient(#000000 0,#000000 69.5px,#120800 70.5px,#7b3c05 72.5px,#fd8a00 74.5px,#f7ec00 77.5px,#8fe000 80.5px,#6cdb00 83.5px,#9fe200 86.5px,#e7eb00 88.5px,#ffdf00 89.5px,#ff9800 91.5px,#d77002 92.5px,#211000 95.5px,#000000 96.5px,#000000 102.5px)"></i>
<i style="left:500px;top:351px;width:2px;height:103px;background:linear-gradient(#000000 0,#130900 15.5px,#1a0d00 29.5px,#000000 45.5px,#060300 70.5px,#612f03 72.5px,#e17602 74.5px,#ff9b00 75.5px,#ffdd00 77.5px,#f0ec00 78.5px,#9fe200 81.5px,#9ae100 84.5px,#deea00 87.5px,#ffe900 88.5px,#fb8800 91.5px,#422001 94.5px,#150a00 95.5px,#000000 96.5px,#000000 102.5px)"></i>
<i style="left:502px;top:351px;width:2px;height:103px;background:linear-gradient(#000000 0,#150a00 10.5px,#3e1e01 24.5px,#000000 45.5px,#000000 70.5px,#492302 72.5px,#fa8700 75.5px,#ffe100 78.5px,#c2e600 81.5px,#bbe500 84.5px,#fbeb00 87.5px,#ff9900 90.5px,#e17602 91.5px,#321800 94.5px,#0a0500 95.5px,#000000 102.5px)"></i>
<i style="left:504px;top:351px;width:2px;height:103px;background:linear-gradient(#000000 0,#160b00 8.5px,#502602 22.5px,#311700 34.5px,#000000 45.5px,#000000 70.5px,#0d0600 71.5px,#663204 73.5px,#da7202 75.5px,#ff9300 76.5px,#ffe000 79.5px,#dae900 83.5px,#fde900 86.5px,#fa8700 90.5px,#221000 94.5px,#020100 95.5px,#000000 102.5px)"></i>
<i style="left:506px;top:351px;width:1px;height:103px;background:linear-gradient(#000000 0,#170b00 8.5px,#522802 22.5px,#331800 34.5px,#000000 45.5px,#030200 71.5px,#522802 73.5px,#f68300 76.5px,#ffdf00 80.5px,#fcee00 84.5px,#ffc700 87.5px,#ff9600 89.5px,#e47801 90.5px,#180b00 94.5px,#000000 95.5px,#000000 102.5px)"></i>
<i style="left:513px;top:238px;width:2px;height:103px;background:linear-gradient(#000000 0,#000000 102.5px)"></i>
<i style="left:515px;top:238px;width:2px;height:103px;background:linear-gradient(#000000 0,#000000 102.5px)"></i>
<i style="left:517px;top:238px;width:2px;height:103px;background:linear-gradient(#000000 0,#000000 102.5px)"></i>
<i style="left:519px;top:238px;width:2px;height:103px;background:linear-gradient(#000000 0,#000000 102.5px)"></i>
<i style="left:521px;top:238px;width:2px;height:103px;background:linear-gradient(#000000 0,#000000 102.5px)"></i>
<i style="left:523px;top:238px;width:2px;height:103px;background:linear-gradient(#000000 0,#000000 102.5px)"></i>
<i style="left:525px;top:238px;width:2px;height:103px;background:linear-gradient(#000000 0,#000000 102.5px)"></i>
<i style="left:527px;top:238px;width:2px;height:103px;background:linear-gradient(#000000 0,#000000 102.5px)"></i>
<i style="left:529px;top:238px;width:2px;height:103px;background:linear-gradient(#000000 0,#000000 102.5px)"></i>
<i style="left:531px;top:238px;width:2px;height:103px;background:linear-gradient(#000000 0,#000000 102.5px)"></i>
<i style="left:533px;top:238px;width:2px;height:103px;background:linear-gradient(#000000 0,#000000 102.5px)"></i>
<i style="left:535px;top:238px;width:2px;height:103px;background:linear-gradient(#000000 0,#060300 102.5px)"></i>
<i style="left:537px;top:238px;width:2px;height:103px;background:linear-gradient(#150a00 0,#190c00 102.5px)"></i>
<i style="left:539px;top:238px;width:2px;height:103px;background:linear-gradient(#301700 0,#2a1400 102.5px)"></i>
<i style="left:541px;top:238px;width:2px;height:103px;background:linear-gradient(#442101 0,#351a00 102.5px)"></i>
<i style="left:543px;top:238px;width:2px;height:103px;background:linear-gradient(#502602 0,#3b1c01 102.5px)"></i>
<i style="left:545px;top:238px;width:2px;height:103px;background:linear-gradient(#532802 0,#3d1d01 102.5px)"></i>
<i style="left:547px;top:238px;width:2px;height:103px;background:linear-gradient(#532802 0,#3d1d01 102.5px)"></i>
<i style="left:549px;top:238px;width:2px;height:103px;background:linear-gradient(#512702 0,#3c1d01 102.5px)"></i>
<i style="left:551px;top:238px;width:2px;height:103px;background:linear-gradient(#492302 0,#381b01 102.5px)"></i>
<i style="left:553px;top:238px;width:2px;height:103px;background:linear-gradient(#371a01 0,#2e1600 102.5px)"></i>
<i style="left:555px;top:238px;width:2px;height:103px;background:linear-gradient(#1d0e00 0,#1f0f00 102.5px)"></i>
<i style="left:557px;top:238px;width:2px;height:103px;background:linear-gradient(#040200 0,#0c0600 102.5px)"></i>
<i style="left:559px;top:238px;width:2px;height:103px;background:linear-gradient(#000000 0,#000000 102.5px)"></i>
<i style="left:561px;top:238px;width:2px;height:103px;background:linear-gradient(#000000 0,#000000 102.5px)"></i>
<i style="left:563px;top:238px;width:2px;height:103px;background:linear-gradient(#000000 0,#000000 102.5px)"></i>
<i style="left:565px;top:238px;width:2px;height:103px;background:linear-gradient(#000000 0,#000000 102.5px)"></i>
<i style="left:567px;top:238px;width:2px;height:103px;background:linear-gradient(#000000 0,#000000 102.5px)"></i>
<i style="left:569px;top:238px;width:2px;height:103px;background:linear-gradient(#000000 0,#000000 102.5px)"></i>
<i style="left:571px;top:238px;width:2px;height:103px;background:linear-gradient(#000000 0,#000000 102.5px)"></i>
<i style="left:573px;top:238px;width:2px;height:103px;background:linear-gradient(#000000 0,#000000 102.5px)"></i>
<i style="left:575px;top:238px;width:2px;height:103px;background:linear-gradient(#000000 0,#000000 102.5px)"></i>
<i style="left:577px;top:238px;width:2px;height:103px;background:linear-gradient(#000000 0,#000000 102.5px)"></i>
<i style="left:579px;top:238px;width:2px;height:103px;background:linear-gradient(#000000 0,#000000 102.5px)"></i>
<i style="left:581px;top:238px;width:2px;height:103px;background:linear-gradient(#000000 0,#0a0500 79.5px,#000000 102.5px)"></i>
<i style="left:583px;top:238px;width:2px;height:103px;background:linear-gradient(#000000 0,#0b0500 64.5px,#411f01 82.5px,#271300 89.5px,#000000 94.5px,#000000 102.5px)"></i>
<i style="left:585px;top:238px;width:2px;height:103px;background:linear-gradient(#000000 0,#0b0500 50.5px,#924805 81.5px,#7c3c05 87.5px,#281300 93.5px,#010100 96.5px,#000000 102.5px)"></i>
<i style="left:587px;top:238px;width:2px;height:103px;background:linear-gradient(#110800 0,#2b1500 43.5px,#6a3304 57.5px,#e97e01 78.5px,#e07602 86.5px,#924805 91.5px,#0c0600 97.5px,#000000 102.5px)"></i>
<i style="left:589px;top:238px;width:2px;height:103px;background:linear-gradient(#4b2402 0,#6a3304 41.5px,#aa5604 55.5px,#f88e00 67.5px,#ffc000 81.5px,#ff9d00 88.5px,#e17602 91.5px,#190c00 98.5px,#000000 101.5px,#000000 102.5px)"></i>
<i style="left:591px;top:238px;width:2px;height:103px;background:linear-gradient(#914805 0,#b35b04 42.5px,#fb8e00 57.5px,#f7e100 72.5px,#ddea00 81.5px,#ffdc00 87.5px,#fe9000 92.5px,#c66603 94.5px,#241100 99.5px,#000000 102.5px)"></i>
<i style="left:593px;top:238px;width:2px;height:103px;background:linear-gradient(#ce6b03 0,#ef7f01 42.5px,#ffad00 56.5px,#f5e700 65.5px,#69db00 78.5px,#75dc00 82.5px,#afe400 86.5px,#ffe100 90.5px,#f88800 94.5px,#422001 99.5px,#0a0500 102.5px)"></i>
<i style="left:595px;top:238px;width:2px;height:103px;background:linear-gradient(#f98600 0,#ffa100 47.5px,#ffd100 57.5px,#f5eb00 61.5px,#15cf01 75.5px,#0acb05 81.5px,#27d100 84.5px,#7cdd00 87.5px,#fce800 91.5px,#fc8900 95.5px,#5e2d03 99.5px,#1a0c00 102.5px)"></i>
<i style="left:597px;top:238px;width:2px;height:103px;background:linear-gradient(#ff9400 0,#ffad00 47.5px,#ffdb00 56.5px,#f0ec00 59.5px,#5ad900 67.5px,#03cb03 72.5px,#00c01c 81.5px,#01ca04 85.5px,#14cf00 86.5px,#ffe800 92.5px,#f78300 96.5px,#783a05 99.5px,#271300 102.5px)"></i>
<i style="left:599px;top:238px;width:2px;height:103px;background:linear-gradient(#ff9900 0,#ffb200 47.5px,#ffe300 56.5px,#f1ec00 58.5px,#68da00 65.5px,#01cb01 70.5px,#00b92b 80.5px,#00ca05 86.5px,#43d500 88.5px,#f3ec00 92.5px,#ff9100 96.5px,#713704 100.5px,#351900 102.5px)"></i>
<i style="left:601px;top:238px;width:2px;height:103px;background:linear-gradient(#ff9900 0,#ffb300 47.5px,#ffe400 56.5px,#eeec00 58.5px,#62da00 65.5px,#09cd00 69.5px,#00b82e 80.5px,#00c808 86.5px,#12ce00 87.5px,#e8eb00 92.5px,#ffe400 93.5px,#fa8500 97.5px,#874206 100.5px,#432001 102.5px)"></i>
<i style="left:603px;top:238px;width:2px;height:103px;background:linear-gradient(#ff9700 0,#ffb100 47.5px,#ffe000 56.5px,#e4eb00 59.5px,#5ad800 66.5px,#07cd00 70.5px,#00bb27 80.5px,#01cb02 86.5px,#e8eb00 92.5px,#ffe700 93.5px,#ff9200 97.5px,#522802 102.5px)"></i>
<i style="left:605px;top:238px;width:2px;height:103px;background:linear-gradient(#ff9000 0,#ffa900 47.5px,#ffdd00 57.5px,#edec00 60.5px,#09cc03 73.5px,#00c413 81.5px,#0ece01 85.5px,#f4ed00 92.5px,#ff9b00 97.5px,#f78300 98.5px,#5f2e03 102.5px)"></i>
<i style="left:607px;top:238px;width:2px;height:103px;background:linear-gradient(#ec7d01 0,#ff9600 46.5px,#ffc700 57.5px,#f0ec00 63.5px,#27d100 77.5px,#26d100 81.5px,#5fd900 85.5px,#f6eb00 91.5px,#ff8a00 98.5px,#683304 102.5px)"></i>
<i style="left:609px;top:238px;width:2px;height:103px;background:linear-gradient(#b75e04 0,#d97102 42.5px,#ffa600 57.5px,#f7e400 67.5px,#96e100 79.5px,#bfe600 85.5px,#f9e600 89.5px,#ff8900 98.5px,#6a3404 102.5px)"></i>
<i style="left:611px;top:238px;width:2px;height:103px;background:linear-gradient(#753905 0,#954a05 41.5px,#d06c02 54.5px,#ff9500 62.5px,#f7e100 78.5px,#ffd300 86.5px,#ff9e00 95.5px,#f58201 98.5px,#653104 102.5px)"></i>
<i style="left:613px;top:238px;width:2px;height:103px;background:linear-gradient(#311801 0,#4d2502 41.5px,#8b4405 55.5px,#f28901 71.5px,#ffa500 82.5px,#f28101 93.5px,#f07f01 97.5px,#a75405 100.5px,#5b2c03 102.5px)"></i>
<i style="left:615px;top:238px;width:2px;height:103px;background:linear-gradient(#050200 0,#180b00 44.5px,#612f03 61.5px,#cb6903 80.5px,#ad5804 92.5px,#ca6903 97.5px,#924806 100.5px,#4c2502 102.5px)"></i>
<i style="left:617px;top:238px;width:2px;height:103px;background:linear-gradient(#000000 0,#0a0500 55.5px,#6f3604 82.5px,#643103 91.5px,#a35205 97.5px,#773a05 100.5px,#3b1c01 102.5px)"></i>
<i style="left:619px;top:238px;width:2px;height:103px;background:linear-gradient(#000000 0,#0a0500 70.5px,#281300 84.5px,#2e1600 91.5px,#7c3c05 97.5px,#592b03 100.5px,#281300 102.5px)"></i>
<i style="left:621px;top:238px;width:2px;height:103px;background:linear-gradient(#000000 0,#0a0500 91.5px,#542902 97.5px,#3c1d01 100.5px,#160a00 102.5px)"></i>
<i style="left:623px;top:238px;width:2px;height:103px;background:linear-gradient(#000000 0,#0a0500 93.5px,#311800 97.5px,#130900 101.5px,#050200 102.5px)"></i>
<i style="left:625px;top:238px;width:2px;height:103px;background:linear-gradient(#000000 0,#0a0500 95.5px,#100800 99.5px,#000000 102.5px)"></i>
<i style="left:627px;top:238px;width:2px;height:103px;background:linear-gradient(#000000 0,#000000 102.5px)"></i>
<i style="left:629px;top:238px;width:1px;height:103px;background:linear-gradient(#000000 0,#000000 102.5px)"></i>
<i style="left:513px;top:351px;width:2px;height:103px;background:linear-gradient(#000000 0,#0a0500 22.5px,#0a0500 25.5px,#000000 37.5px,#5b2c03 45.5px,#462202 50.5px,#000000 56.5px,#080400 61.5px,#2b1500 67.5px,#000000 74.5px,#010000 97.5px,#2d1500 100.5px,#231100 102.5px)"></i>
<i style="left:515px;top:351px;width:2px;height:103px;background:linear-gradient(#000000 0,#030200 21.5px,#170b00 24.5px,#000000 28.5px,#0b0500 38.5px,#5b2c03 44.5px,#562903 49.5px,#000000 56.5px,#070400 61.5px,#321800 67.5px,#000000 74.5px,#060300 97.5px,#371a01 100.5px,#2c1500 102.5px)"></i>
<i style="left:517px;top:351px;width:2px;height:103px;background:linear-gradient(#000000 0,#080400 21.5px,#1d0e00 24.5px,#000000 28.5px,#000000 37.5px,#612f03 44.5px,#5b2c03 49.5px,#000000 56.5px,#060300 61.5px,#391b01 67.5px,#140900 72.5px,#000000 76.5px,#090400 97.5px,#3d1d01 100.5px,#311800 102.5px)"></i>
<i style="left:519px;top:351px;width:2px;height:103px;background:linear-gradient(#000000 0,#000000 20.5px,#231100 24.5px,#000000 28.5px,#030100 37.5px,#673204 44.5px,#602e03 49.5px,#000000 56.5px,#050200 61.5px,#3f1e01 67.5px,#1d0e00 72.5px,#000000 75.5px,#0a0500 97.5px,#3f1e01 100.5px,#331900 102.5px)"></i>
<i style="left:521px;top:351px;width:2px;height:103px;background:linear-gradient(#000000 0,#000000 20.5px,#281300 23.5px,#100800 26.5px,#000000 28.5px,#060300 37.5px,#6c3404 44.5px,#643103 49.5px,#000000 56.5px,#0e0700 62.5px,#442101 67.5px,#331800 71.5px,#000000 76.5px,#090400 97.5px,#3d1d01 100.5px,#311800 102.5px)"></i>
<i style="left:523px;top:351px;width:2px;height:103px;background:linear-gradient(#000000 0,#010000 20.5px,#2d1600 23.5px,#140900 26.5px,#000000 28.5px,#090400 37.5px,#693304 43.5px,#713704 48.5px,#000000 56.5px,#0b0500 62.5px,#4c2402 68.5px,#301700 72.5px,#000000 76.5px,#060300 97.5px,#371a01 100.5px,#2c1500 102.5px)"></i>
<i style="left:525px;top:351px;width:2px;height:103px;background:linear-gradient(#000000 0,#030200 20.5px,#321800 23.5px,#170b00 26.5px,#000000 28.5px,#000000 36.5px,#6e3504 43.5px,#753905 48.5px,#000000 56.5px,#080400 62.5px,#502702 68.5px,#3a1c01 72.5px,#010100 76.5px,#010000 97.5px,#2d1500 100.5px,#231100 102.5px)"></i>
<i style="left:527px;top:351px;width:2px;height:103px;background:linear-gradient(#000000 0,#050300 20.5px,#361a01 23.5px,#1a0c00 26.5px,#000000 28.5px,#000000 36.5px,#723704 43.5px,#783a05 48.5px,#1f0f00 54.5px,#000000 57.5px,#050300 62.5px,#542802 68.5px,#442101 72.5px,#000000 77.5px,#000000 97.5px,#211000 101.5px,#190c00 102.5px)"></i>
<i style="left:529px;top:351px;width:2px;height:103px;background:linear-gradient(#000000 0,#070300 20.5px,#3a1c01 23.5px,#1c0d00 26.5px,#000000 28.5px,#010100 36.5px,#753905 43.5px,#7b3c05 48.5px,#331800 53.5px,#010000 56.5px,#020100 62.5px,#5b2c03 69.5px,#401f01 73.5px,#010100 77.5px,#020100 98.5px,#140a00 101.5px,#0d0600 102.5px)"></i>
<i style="left:531px;top:351px;width:2px;height:103px;background:linear-gradient(#000000 0,#080400 20.5px,#3c1d01 23.5px,#311700 25.5px,#000000 28.5px,#030200 36.5px,#793b05 43.5px,#7e3d05 48.5px,#341900 53.5px,#010000 56.5px,#0b0500 63.5px,#5e2e03 69.5px,#562903 72.5px,#000000 78.5px,#020100 102.5px)"></i>
<i style="left:533px;top:351px;width:2px;height:103px;background:linear-gradient(#000000 0,#090400 20.5px,#3e1e01 23.5px,#331800 25.5px,#000000 28.5px,#050300 36.5px,#7c3c05 43.5px,#803e05 48.5px,#361a00 53.5px,#010000 56.5px,#070300 63.5px,#602e03 69.5px,#5d2d03 72.5px,#010100 78.5px,#000000 102.5px)"></i>
<i style="left:535px;top:351px;width:2px;height:103px;background:linear-gradient(#000000 0,#0a0500 20.5px,#3f1e01 23.5px,#331900 25.5px,#000000 28.5px,#070300 36.5px,#743804 42.5px,#864106 47.5px,#5e2d03 51.5px,#010000 56.5px,#020100 63.5px,#673204 70.5px,#5a2c03 73.5px,#000000 79.5px,#000000 102.5px)"></i>
<i style="left:537px;top:351px;width:2px;height:103px;background:linear-gradient(#000000 0,#0a0500 20.5px,#3f1e01 23.5px,#331900 25.5px,#000000 28.5px,#090400 36.5px,#773a05 42.5px,#884206 47.5px,#5f2e03 51.5px,#010000 56.5px,#000000 63.5px,#683204 70.5px,#612f03 73.5px,#010000 79.5px,#000000 102.5px)"></i>
<i style="left:539px;top:351px;width:2px;height:103px;background:linear-gradient(#000000 0,#090400 20.5px,#3e1e01 23.5px,#331800 25.5px,#000000 28.5px,#0a0500 36.5px,#793b05 42.5px,#894206 47.5px,#602e03 51.5px,#000000 56.5px,#060300 64.5px,#673204 70.5px,#673204 73.5px,#000000 80.5px,#000000 102.5px)"></i>
<i style="left:541px;top:351px;width:2px;height:103px;background:linear-gradient(#000000 0,#080400 20.5px,#3c1d01 23.5px,#311700 25.5px,#000000 28.5px,#000000 35.5px,#7a3b05 42.5px,#8a4306 47.5px,#602f03 51.5px,#000000 56.5px,#010100 64.5px,#6c3504 71.5px,#623003 74.5px,#000000 80.5px,#000000 102.5px)"></i>
<i style="left:543px;top:351px;width:2px;height:103px;background:linear-gradient(#000000 0,#070300 20.5px,#3a1c01 23.5px,#1c0e00 26.5px,#000000 28.5px,#000000 35.5px,#7c3c05 42.5px,#8a4306 47.5px,#612f03 51.5px,#000000 56.5px,#0a0500 65.5px,#6b3404 71.5px,#673204 74.5px,#050200 80.5px,#000000 102.5px)"></i>
<i style="left:545px;top:351px;width:2px;height:103px;background:linear-gradient(#000000 0,#050300 20.5px,#361a01 23.5px,#1a0c00 26.5px,#000000 28.5px,#000000 35.5px,#7d3c05 42.5px,#8a4306 47.5px,#602f03 51.5px,#000000 56.5px,#040200 65.5px,#673204 71.5px,#6b3404 74.5px,#000000 81.5px,#000000 102.5px)"></i>
<i style="left:547px;top:351px;width:2px;height:103px;background:linear-gradient(#000000 0,#030200 20.5px,#321800 23.5px,#170b00 26.5px,#000000 28.5px,#000000 35.5px,#7d3d05 42.5px,#8a4306 47.5px,#602e03 51.5px,#000000 56.5px,#000000 65.5px,#6b3404 72.5px,#653104 75.5px,#030100 81.5px,#000000 102.5px)"></i>
<i style="left:549px;top:351px;width:2px;height:103px;background:linear-gradient(#000000 0,#010000 20.5px,#2d1600 23.5px,#140900 26.5px,#000000 28.5px,#000000 35.5px,#7d3d05 42.5px,#8a4306 47.5px,#5f2e03 51.5px,#000000 56.5px,#070300 66.5px,#673204 72.5px,#683304 75.5px,#000000 82.5px,#000000 102.5px)"></i>
<i style="left:551px;top:351px;width:2px;height:103px;background:linear-gradient(#000000 0,#000000 20.5px,#281300 23.5px,#100800 26.5px,#000000 28.5px,#000000 35.5px,#7d3d05 42.5px,#8a4306 47.5px,#5e2d03 51.5px,#000000 56.5px,#010000 66.5px,#6a3304 73.5px,#582a03 77.5px,#000000 83.5px,#000000 102.5px)"></i>
<i style="left:553px;top:351px;width:2px;height:103px;background:linear-gradient(#000000 0,#000000 20.5px,#231100 24.5px,#000000 28.5px,#000000 35.5px,#7d3d05 42.5px,#894206 47.5px,#5c2d03 51.5px,#000000 56.5px,#080400 67.5px,#653104 73.5px,#602f03 77.5px,#020100 83.5px,#000000 102.5px)"></i>
<i style="left:555px;top:351px;width:2px;height:103px;background:linear-gradient(#000000 0,#080400 21.5px,#1d0e00 24.5px,#000000 28.5px,#000000 35.5px,#7c3c05 42.5px,#884206 47.5px,#5a2c03 51.5px,#000000 56.5px,#010100 67.5px,#683304 74.5px,#633003 78.5px,#010000 84.5px,#000000 102.5px)"></i>
<i style="left:557px;top:351px;width:2px;height:103px;background:linear-gradient(#000000 0,#030200 21.5px,#170b00 24.5px,#000000 28.5px,#000000 35.5px,#7b3c05 42.5px,#864106 47.5px,#582a03 51.5px,#000000 56.5px,#080400 68.5px,#6e3604 75.5px,#6f3604 79.5px,#000000 85.5px,#000000 102.5px)"></i>
<i style="left:559px;top:351px;width:2px;height:103px;background:linear-gradient(#000000 0,#0a0500 22.5px,#0a0500 25.5px,#000000 35.5px,#793b05 42.5px,#854006 47.5px,#552902 51.5px,#000000 56.5px,#010100 68.5px,#874206 77.5px,#854105 80.5px,#000000 86.5px,#000000 102.5px)"></i>
<i style="left:561px;top:351px;width:2px;height:103px;background:linear-gradient(#000000 0,#050200 22.5px,#000000 35.5px,#783a05 42.5px,#823f05 47.5px,#522802 51.5px,#050300 55.5px,#080400 69.5px,#a75405 78.5px,#a15105 81.5px,#0d0600 86.5px,#000000 90.5px,#000000 102.5px)"></i>
<i style="left:563px;top:351px;width:2px;height:103px;background:linear-gradient(#000000 0,#000000 35.5px,#753905 42.5px,#803e05 47.5px,#3b1d01 52.5px,#030200 55.5px,#010100 69.5px,#5c2c03 74.5px,#d67002 79.5px,#d56f02 81.5px,#7e3d05 84.5px,#090400 87.5px,#000000 102.5px)"></i>
<i style="left:565px;top:351px;width:2px;height:103px;background:linear-gradient(#000000 0,#000000 35.5px,#733804 42.5px,#7d3d05 47.5px,#381b01 52.5px,#010100 55.5px,#070300 70.5px,#5a2c03 74.5px,#eb7c01 78.5px,#ff9300 80.5px,#f88900 82.5px,#e27701 83.5px,#241100 87.5px,#040200 88.5px,#000000 102.5px)"></i>
<i style="left:567px;top:351px;width:2px;height:103px;background:linear-gradient(#000000 0,#000000 35.5px,#783a05 43.5px,#723704 48.5px,#000000 55.5px,#000000 70.5px,#381b01 73.5px,#b25b04 76.5px,#e47801 77.5px,#ff9300 78.5px,#ffb800 81.5px,#f48601 84.5px,#1b0d00 88.5px,#000000 89.5px,#000000 102.5px)"></i>
<i style="left:569px;top:351px;width:2px;height:103px;background:linear-gradient(#000000 0,#0a0500 36.5px,#6c3404 42.5px,#753905 47.5px,#301700 52.5px,#000000 55.5px,#060300 71.5px,#331800 73.5px,#8c4406 75.5px,#fd8a00 77.5px,#ffd900 80.5px,#ffdc00 82.5px,#fb8e00 85.5px,#3d1d01 88.5px,#0e0700 89.5px,#000000 92.5px,#000000 102.5px)"></i>
<i style="left:571px;top:351px;width:2px;height:103px;background:linear-gradient(#000000 0,#080400 36.5px,#683304 42.5px,#713704 47.5px,#1a0c00 53.5px,#000000 56.5px,#010000 71.5px,#2e1600 73.5px,#934806 75.5px,#d77002 76.5px,#ff9b00 77.5px,#ffe500 79.5px,#cfe800 81.5px,#d1e800 82.5px,#ffdf00 84.5px,#fc8e00 86.5px,#2a1400 89.5px,#020100 90.5px,#000000 102.5px)"></i>
<i style="left:573px;top:351px;width:2px;height:103px;background:linear-gradient(#000000 0,#060300 36.5px,#6c3404 43.5px,#643003 48.5px,#000000 55.5px,#000000 71.5px,#291400 73.5px,#9b4d05 75.5px,#e97b01 76.5px,#ffab00 77.5px,#ffdb00 78.5px,#dae900 79.5px,#85de00 81.5px,#7fde00 82.5px,#96e100 83.5px,#f8e500 85.5px,#f58601 87.5px,#512702 89.5px,#160a00 90.5px,#000000 91.5px,#000000 102.5px)"></i>
<i style="left:575px;top:351px;width:2px;height:103px;background:linear-gradient(#000000 0,#040200 36.5px,#683204 43.5px,#5f2e03 48.5px,#030100 54.5px,#060300 72.5px,#251200 73.5px,#582b03 74.5px,#fb8500 76.5px,#f7ec00 78.5px,#5fd900 80.5px,#2dd200 81.5px,#1dd000 82.5px,#30d300 83.5px,#67da00 84.5px,#f9e400 86.5px,#ffaf00 87.5px,#de7502 88.5px,#331800 90.5px,#030100 91.5px,#000000 102.5px)"></i>
<i style="left:577px;top:351px;width:2px;height:103px;background:linear-gradient(#000000 0,#020100 36.5px,#633003 43.5px,#592b03 48.5px,#000000 54.5px,#010000 72.5px,#211000 73.5px,#582a03 74.5px,#ff8e00 76.5px,#ffc900 77.5px,#d7e900 78.5px,#18cf00 80.5px,#00c60e 81.5px,#00c314 83.5px,#0acb06 84.5px,#4ed700 85.5px,#b6e500 86.5px,#ffdb00 87.5px,#ff9b00 88.5px,#582b03 90.5px,#160b00 91.5px,#000000 92.5px,#000000 102.5px)"></i>
<i style="left:579px;top:351px;width:2px;height:103px;background:linear-gradient(#000000 0,#000000 36.5px,#5d2d03 43.5px,#532802 48.5px,#000000 54.5px,#000000 72.5px,#1c0e00 73.5px,#562a03 74.5px,#ff9400 76.5px,#ffd500 77.5px,#b9e500 78.5px,#42d500 79.5px,#00c60f 80.5px,#00b437 82.5px,#00ba29 84.5px,#00c70c 85.5px,#55d800 86.5px,#d0e800 87.5px,#ffc300 88.5px,#f07f01 89.5px,#864105 90.5px,#301700 91.5px,#010000 92.5px,#000000 102.5px)"></i>
<i style="left:581px;top:351px;width:2px;height:103px;background:linear-gradient(#000000 0,#000000 36.5px,#572a03 43.5px,#4d2502 48.5px,#000000 54.5px,#000000 72.5px,#180b00 73.5px,#532802 74.5px,#ff9800 76.5px,#ffde00 77.5px,#a1e200 78.5px,#16cf00 79.5px,#00bd22 80.5px,#00a358 82.5px,#00a750 84.5px,#01c809 86.5px,#f7e700 88.5px,#ffa200 89.5px,#b55c04 90.5px,#512702 91.5px,#0f0700 92.5px,#000000 95.5px,#000000 102.5px)"></i>
<i style="left:583px;top:351px;width:2px;height:103px;background:linear-gradient(#000000 0,#090400 37.5px,#512702 43.5px,#462202 48.5px,#000000 54.5px,#000000 72.5px,#120900 73.5px,#4e2602 74.5px,#ff9a00 76.5px,#ffe400 77.5px,#8ee000 78.5px,#00ca05 79.5px,#00a05c 81.5px,#009179 82.5px,#008f7c 84.5px,#00b82f 86.5px,#18cf01 87.5px,#b9e500 88.5px,#ffc600 89.5px,#e87a01 90.5px,#773a05 91.5px,#241100 92.5px,#000000 93.5px,#000000 102.5px)"></i>
<i style="left:585px;top:351px;width:2px;height:103px;background:linear-gradient(#000000 0,#060300 37.5px,#4b2402 43.5px,#401f01 48.5px,#000000 53.5px,#000000 72.5px,#0d0600 73.5px,#472202 74.5px,#a65305 75.5px,#ff9900 76.5px,#ffe700 77.5px,#00c60e 79.5px,#009473 81.5px,#198484 82.5px,#3a8080 83.5px,#358080 84.5px,#0c8982 85.5px,#00c01b 87.5px,#6adb00 88.5px,#fbe700 89.5px,#ff9800 90.5px,#9f4f05 91.5px,#3d1d01 92.5px,#030100 93.5px,#000000 102.5px)"></i>
<i style="left:587px;top:351px;width:2px;height:103px;background:linear-gradient(#000000 0,#030100 37.5px,#442101 43.5px,#391b01 48.5px,#000000 53.5px,#070300 73.5px,#3f1e01 74.5px,#9e4f05 75.5px,#ff9600 76.5px,#ffe500 77.5px,#00c413 79.5px,#018a84 81.5px,#497e7e 82.5px,#747d7d 83.5px,#787f7f 84.5px,#517c7c 85.5px,#058c80 86.5px,#00b03e 87.5px,#14ce01 88.5px,#cae700 89.5px,#ffb500 90.5px,#c76703 91.5px,#592b03 92.5px,#100800 93.5px,#000000 95.5px,#000000 102.5px)"></i>
<i style="left:589px;top:351px;width:2px;height:103px;background:linear-gradient(#000000 0,#000000 37.5px,#411f01 44.5px,#281300 49.5px,#000000 53.5px,#010000 73.5px,#351a00 74.5px,#934806 75.5px,#ff8f00 76.5px,#ffe000 77.5px,#80de00 78.5px,#00c315 79.5px,#00a455 80.5px,#168585 81.5px,#707979 82.5px,#9c9c9c 83.5px,#a8a8a8 84.5px,#8f8f8f 85.5px,#417f7f 86.5px,#009c64 87.5px,#00c217 88.5px,#8fe000 89.5px,#ffd200 90.5px,#f18001 91.5px,#783a05 92.5px,#211000 93.5px,#000000 94.5px,#000000 102.5px)"></i>
<i style="left:591px;top:351px;width:2px;height:103px;background:linear-gradient(#000000 0,#080400 38.5px,#3a1c01 44.5px,#221000 49.5px,#000000 53.5px,#000000 73.5px,#2b1400 74.5px,#844005 75.5px,#fb8600 76.5px,#ffd700 77.5px,#8ee000 78.5px,#00c413 79.5px,#00a358 80.5px,#288282 81.5px,#898989 82.5px,#bcbcbc 83.5px,#cecece 84.5px,#bcbcbc 85.5px,#7f8181 86.5px,#068a82 87.5px,#00b631 88.5px,#4ed700 89.5px,#faea00 90.5px,#ff9600 91.5px,#974a05 92.5px,#341900 93.5px,#000000 94.5px,#000000 102.5px)"></i>
<i style="left:593px;top:351px;width:2px;height:103px;background:linear-gradient(#000000 0,#040200 38.5px,#331900 44.5px,#110800 50.5px,#000000 54.5px,#000000 73.5px,#1f0f00 74.5px,#723704 75.5px,#e77a01 76.5px,#ffcb00 77.5px,#a2e200 78.5px,#00c70c 79.5px,#00a455 80.5px,#2f8181 81.5px,#989898 82.5px,#d2d2d2 83.5px,#e8e8e8 84.5px,#dddddd 85.5px,#a7a7a7 86.5px,#348181 87.5px,#00aa4a 88.5px,#12cf00 89.5px,#d7e900 90.5px,#ffaa00 91.5px,#b35b04 92.5px,#482302 93.5px,#070300 94.5px,#000000 102.5px)"></i>
<i style="left:595px;top:351px;width:2px;height:103px;background:linear-gradient(#000000 0,#0a0500 39.5px,#2c1500 45.5px,#000000 53.5px,#000000 73.5px,#140900 74.5px,#5e2e03 75.5px,#cf6c03 76.5px,#ffbc00 77.5px,#bce600 78.5px,#02cb02 79.5px,#00a94c 80.5px,#298282 81.5px,#9d9d9d 82.5px,#dedede 83.5px,#f8f8f8 84.5px,#f2f2f2 85.5px,#c4c4c4 86.5px,#5f7a7a 87.5px,#009e61 88.5px,#00c70b 89.5px,#b4e500 90.5px,#ffbd00 91.5px,#ce6b03 92.5px,#5d2d03 93.5px,#130900 94.5px,#000000 96.5px,#000000 102.5px)"></i>
<i style="left:597px;top:351px;width:2px;height:103px;background:linear-gradient(#000000 0,#060300 39.5px,#251200 45.5px,#000000 53.5px,#080400 74.5px,#4a2402 75.5px,#b45c04 76.5px,#ffa900 77.5px,#ddea00 78.5px,#25d100 79.5px,#00b13d 80.5px,#158585 81.5px,#979797 82.5px,#dfdfdf 83.5px,#fcfdff 84.5px,#fdfdfd 85.5px,#d4d4d4 86.5px,#797a7a 87.5px,#009571 88.5px,#00c119 89.5px,#97e100 90.5px,#ffcd00 91.5px,#e77a01 92.5px,#723704 93.5px,#1f0f00 94.5px,#000000 95.5px,#000000 102.5px)"></i>
<i style="left:599px;top:351px;width:2px;height:103px;background:linear-gradient(#000000 0,#0a0500 40.5px,#1c0e00 46.5px,#000000 52.5px,#000000 74.5px,#351a00 75.5px,#984b05 76.5px,#ff9500 77.5px,#fce900 78.5px,#59d800 79.5px,#00b92b 80.5px,#008c81 81.5px,#848484 82.5px,#d6d6d6 83.5px,#fbfbfb 84.5px,#fcfcfc 85.5px,#d7d7d7 86.5px,#828282 87.5px,#00907a 88.5px,#00bd22 89.5px,#7cdd00 90.5px,#ffda00 91.5px,#fc8800 92.5px,#864106 93.5px,#2d1600 94.5px,#000000 95.5px,#000000 102.5px)"></i>
<i style="left:601px;top:351px;width:2px;height:103px;background:linear-gradient(#000000 0,#050300 40.5px,#160a00 46.5px,#000000 53.5px,#000000 74.5px,#221000 75.5px,#793a05 76.5px,#f07f01 77.5px,#ffd000 78.5px,#95e100 79.5px,#00c315 80.5px,#009b66 81.5px,#5c7b7b 82.5px,#bdbdbd 83.5px,#eaeaea 84.5px,#f0f0f0 85.5px,#cfcfcf 86.5px,#7e7e7e 87.5px,#008f7c 88.5px,#00bb26 89.5px,#68da00 90.5px,#ffe500 91.5px,#ff9300 92.5px,#994b05 93.5px,#3c1d01 94.5px,#070300 95.5px,#000000 102.5px)"></i>
<i style="left:603px;top:351px;width:2px;height:103px;background:linear-gradient(#000000 0,#070300 41.5px,#0b0500 47.5px,#000000 66.5px,#000000 74.5px,#110800 75.5px,#592b03 76.5px,#c66603 77.5px,#ffb400 78.5px,#cde800 79.5px,#13ce00 80.5px,#00ae44 81.5px,#1d8484 82.5px,#929292 83.5px,#cbcbcb 84.5px,#d6d6d6 85.5px,#b7b7b7 86.5px,#6b7979 87.5px,#009276 88.5px,#00bb27 89.5px,#5dd900 90.5px,#feed00 91.5px,#ff9c00 92.5px,#aa5604 93.5px,#4d2502 94.5px,#130900 95.5px,#000000 97.5px,#000000 102.5px)"></i>
<i style="left:605px;top:351px;width:2px;height:103px;background:linear-gradient(#000000 0,#0a0500 43.5px,#030100 75.5px,#3c1d01 76.5px,#9e4f05 77.5px,#ff9700 78.5px,#fce700 79.5px,#67da00 80.5px,#00bd22 81.5px,#00966e 82.5px,#517c7c 83.5px,#999999 84.5px,#acacac 85.5px,#939393 86.5px,#467e7e 87.5px,#00986b 88.5px,#00bd23 89.5px,#5ad900 90.5px,#f6ed00 91.5px,#ffa500 92.5px,#bc6004 93.5px,#5f2e03 94.5px,#211000 95.5px,#010000 96.5px,#000000 102.5px)"></i>
<i style="left:607px;top:351px;width:2px;height:103px;background:linear-gradient(#000000 0,#000000 75.5px,#231100 76.5px,#753905 77.5px,#e57901 78.5px,#ffc500 79.5px,#b7e500 80.5px,#0fcc04 81.5px,#00af40 82.5px,#088c7e 83.5px,#4f7d7d 84.5px,#707f7f 85.5px,#5c7b7b 86.5px,#158585 87.5px,#00a259 88.5px,#00c01c 89.5px,#5ed900 90.5px,#efec00 91.5px,#ffac00 92.5px,#cd6b03 93.5px,#723704 94.5px,#311800 95.5px,#0b0500 96.5px,#000000 102.5px)"></i>
<i style="left:609px;top:351px;width:2px;height:103px;background:linear-gradient(#000000 0,#000000 75.5px,#0d0600 76.5px,#4f2602 77.5px,#b25a04 78.5px,#ffa100 79.5px,#f6e700 80.5px,#6fdb00 81.5px,#00c216 82.5px,#038e7c 84.5px,#188585 85.5px,#009373 87.5px,#00c412 89.5px,#68da00 90.5px,#ecec00 91.5px,#ffb300 92.5px,#df7502 93.5px,#874206 94.5px,#442101 95.5px,#010100 97.5px,#000000 102.5px)"></i>
<i style="left:611px;top:351px;width:2px;height:103px;background:linear-gradient(#000000 0,#000000 76.5px,#2e1600 77.5px,#823f05 78.5px,#ed7d01 79.5px,#ffc300 80.5px,#cae700 81.5px,#3ad400 82.5px,#00bf1e 83.5px,#009e61 85.5px,#009c63 86.5px,#00b82e 88.5px,#00ca05 89.5px,#ebec00 91.5px,#ffb900 92.5px,#f07f01 93.5px,#582b03 95.5px,#0c0600 97.5px,#000000 102.5px)"></i>
<i style="left:613px;top:351px;width:2px;height:103px;background:linear-gradient(#000000 0,#000000 76.5px,#130900 77.5px,#542902 78.5px,#ff9a00 80.5px,#ffdd00 81.5px,#a9e300 82.5px,#2ad200 83.5px,#00c217 84.5px,#00b436 86.5px,#00c218 88.5px,#1bd000 89.5px,#eeec00 91.5px,#fe8900 93.5px,#6d3504 95.5px,#190c00 97.5px,#010100 98.5px,#000000 102.5px)"></i>
<i style="left:615px;top:351px;width:2px;height:103px;background:linear-gradient(#000000 0,#020100 77.5px,#2f1600 78.5px,#db7202 80.5px,#ffaf00 81.5px,#f6e600 82.5px,#3ed500 84.5px,#0aca07 85.5px,#00c60d 87.5px,#0acc03 88.5px,#4ad600 89.5px,#f5ed00 91.5px,#ff9000 93.5px,#4c2502 96.5px,#090400 98.5px,#000000 102.5px)"></i>
<i style="left:617px;top:351px;width:2px;height:103px;background:linear-gradient(#000000 0,#000000 77.5px,#120800 78.5px,#4b2402 79.5px,#f38401 81.5px,#ffbb00 82.5px,#f3e700 83.5px,#6edb00 85.5px,#42d500 86.5px,#37d400 87.5px,#4cd700 88.5px,#feed00 91.5px,#ff9500 93.5px,#5b2c03 96.5px,#110800 98.5px,#000000 100.5px,#000000 102.5px)"></i>
<i style="left:619px;top:351px;width:2px;height:103px;background:linear-gradient(#010000 0,#000000 78.5px,#251200 79.5px,#b45c04 81.5px,#fb8e00 82.5px,#f9e400 84.5px,#a6e300 86.5px,#92e000 87.5px,#96e100 88.5px,#d8e900 90.5px,#ffe400 91.5px,#ff9700 93.5px,#9c4d05 95.5px,#3a1c01 97.5px,#000000 99.5px,#000000 102.5px)"></i>
<i style="left:621px;top:351px;width:2px;height:103px;background:linear-gradient(#100800 0,#000000 15.5px,#090400 79.5px,#793b05 81.5px,#fd9000 83.5px,#ffda00 85.5px,#dbe900 87.5px,#dfea00 89.5px,#f8eb00 90.5px,#ff9500 93.5px,#a15105 95.5px,#1c0d00 98.5px,#010100 99.5px,#000000 102.5px)"></i>
<i style="left:623px;top:351px;width:2px;height:103px;background:linear-gradient(#241100 0,#241100 3.5px,#000000 7.5px,#000000 79.5px,#150a00 80.5px,#844005 82.5px,#f98c00 84.5px,#ffda00 87.5px,#ffd800 90.5px,#ff9000 93.5px,#411f01 97.5px,#020100 99.5px,#000000 102.5px)"></i>
<i style="left:625px;top:351px;width:2px;height:103px;background:linear-gradient(#331900 0,#331900 3.5px,#000000 7.5px,#040200 39.5px,#1e0e00 44.5px,#000000 51.5px,#010100 80.5px,#4f2602 82.5px,#f28301 85.5px,#ffbe00 88.5px,#ffb100 91.5px,#fa8500 93.5px,#3e1e01 97.5px,#010100 99.5px,#000000 102.5px)"></i>
<i style="left:627px;top:351px;width:2px;height:103px;background:linear-gradient(#391b01 0,#391b01 3.5px,#000000 7.5px,#090400 38.5px,#371a01 43.5px,#160b00 48.5px,#000000 51.5px,#050200 81.5px,#854105 84.5px,#e37701 86.5px,#fc8d00 87.5px,#ffa200 90.5px,#fe8c00 92.5px,#8d4506 95.5px,#170b00 98.5px,#000000 99.5px,#000000 102.5px)"></i>
<i style="left:629px;top:351px;width:1px;height:103px;background:linear-gradient(#361a01 0,#361a01 3.5px,#000000 7.5px,#010100 37.5px,#411f01 43.5px,#2a1400 47.5px,#000000 51.5px,#000000 81.5px,#321800 83.5px,#d97202 87.5px,#ff8c00 89.5px,#ff8900 91.5px,#a75405 94.5px,#120900 98.5px,#000000 100.5px,#000000 102.5px)"></i>
<svg width="685" height="495" viewBox="0 0 685 495">
<path d="M44,206 V4 H190.5" fill="none" stroke="#5a5a5a" stroke-width="1.6"/>
<path d="M190.5,3.3 V206 H44" fill="none" stroke="#111" stroke-width="1.1"/>
<line x1="38.5" y1="206" x2="44" y2="206" stroke="#444" stroke-width="1.1"/>
<text x="36" y="209.9" font-size="11" text-anchor="end">0</text>
<line x1="41" y1="183.3" x2="44" y2="183.3" stroke="#444" stroke-width="1.1"/>
<line x1="38.5" y1="160.6" x2="44" y2="160.6" stroke="#444" stroke-width="1.1"/>
<text x="36" y="164.5" font-size="11" text-anchor="end">0.02</text>
<line x1="41" y1="137.9" x2="44" y2="137.9" stroke="#444" stroke-width="1.1"/>
<line x1="38.5" y1="115.2" x2="44" y2="115.2" stroke="#444" stroke-width="1.1"/>
<text x="36" y="119.1" font-size="11" text-anchor="end">0.04</text>
<line x1="41" y1="92.5" x2="44" y2="92.5" stroke="#444" stroke-width="1.1"/>
<line x1="38.5" y1="69.8" x2="44" y2="69.8" stroke="#444" stroke-width="1.1"/>
<text x="36" y="73.7" font-size="11" text-anchor="end">0.06</text>
<line x1="41" y1="47.1" x2="44" y2="47.1" stroke="#444" stroke-width="1.1"/>
<line x1="38.5" y1="24.4" x2="44" y2="24.4" stroke="#444" stroke-width="1.1"/>
<text x="36" y="28.3" font-size="11" text-anchor="end">0.08</text>
<line x1="50.6" y1="206" x2="50.6" y2="211.5" stroke="#444" stroke-width="1.1"/>
<text x="50.6" y="225.3" font-size="11" text-anchor="middle">560</text>
<line x1="63.3" y1="206" x2="63.3" y2="209" stroke="#444" stroke-width="1.1"/>
<line x1="75.9" y1="206" x2="75.9" y2="211.5" stroke="#444" stroke-width="1.1"/>
<text x="75.9" y="225.3" font-size="11" text-anchor="middle">600</text>
<line x1="88.6" y1="206" x2="88.6" y2="209" stroke="#444" stroke-width="1.1"/>
<line x1="101.3" y1="206" x2="101.3" y2="211.5" stroke="#444" stroke-width="1.1"/>
<text x="101.3" y="225.3" font-size="11" text-anchor="middle">640</text>
<line x1="113.9" y1="206" x2="113.9" y2="209" stroke="#444" stroke-width="1.1"/>
<line x1="126.6" y1="206" x2="126.6" y2="211.5" stroke="#444" stroke-width="1.1"/>
<text x="126.6" y="225.3" font-size="11" text-anchor="middle">680</text>
<line x1="139.3" y1="206" x2="139.3" y2="209" stroke="#444" stroke-width="1.1"/>
<line x1="152" y1="206" x2="152" y2="211.5" stroke="#444" stroke-width="1.1"/>
<text x="152" y="225.3" font-size="11" text-anchor="middle">720</text>
<line x1="164.6" y1="206" x2="164.6" y2="209" stroke="#444" stroke-width="1.1"/>
<line x1="177.3" y1="206" x2="177.3" y2="211.5" stroke="#444" stroke-width="1.1"/>
<text x="177.3" y="225.3" font-size="11" text-anchor="middle">760</text>
<line x1="190" y1="206" x2="190" y2="209" stroke="#444" stroke-width="1.1"/>
<text x="9" y="106.5" font-size="11" text-anchor="middle" transform="rotate(-90 9 106.5)">Absorption</text>
<text x="12.5" y="11.4" font-size="20">a</text>
<line x1="48.2" y1="16.7" x2="67.6" y2="16.7" stroke="#f00" stroke-width="2"/>
<text x="72" y="20.1" font-size="10">MB/WO<tspan font-size="7.5" dy="2.5">3-<tspan font-style="italic">x</tspan></tspan><tspan dy="-2.5">/WSe</tspan><tspan font-size="7.5" dy="2.5">2</tspan></text>
<line x1="48.2" y1="30.1" x2="67.6" y2="30.1" stroke="#1c1" stroke-width="2"/>
<text x="72" y="33.5" font-size="10">MB/WSe<tspan font-size="7.5" dy="2.5">2</tspan></text>
<line x1="48.2" y1="43.2" x2="67.6" y2="43.2" stroke="#555" stroke-width="2"/>
<text x="72" y="46.6" font-size="10">WO<tspan font-size="7.5" dy="2.5">3-<tspan font-style="italic">x</tspan></tspan><tspan dy="-2.5">/WSe</tspan><tspan font-size="7.5" dy="2.5">2</tspan></text>
<line x1="48.2" y1="56.4" x2="67.6" y2="56.4" stroke="#00f" stroke-width="2"/>
<text x="72" y="59.8" font-size="10">WSe<tspan font-size="7.5" dy="2.5">2</tspan></text>
<path d="M44,184.4 45.1,185.1 46.2,185.1 47.3,181.1 48.4,186.5 49.5,185 50.6,182.9 51.7,185.8 52.8,184.8 53.9,185.1 55,184.5 56.1,186.5 57.2,183.6 58.3,185.8 59.4,184.3 60.5,186.9 61.6,185.6 62.7,185.8 63.8,184.9 64.9,186.2 66,186.6 67.1,185.1 68.2,188.5 69.3,189.5 70.4,182.7 71.5,185.6 72.6,188.5 73.7,186.7 74.8,188.2 75.9,186.8 77,192.4 78.1,185.1 79.2,187.1 80.3,192.1 81.4,188.2 82.5,190 83.6,188.7 84.7,186.4 85.8,190.6 86.9,190.4 88,187.8 89.1,189.4 90.2,190.9 91.3,188.6 92.4,190.7 93.5,190.7 94.6,191 95.7,189.5 96.8,191.8 97.9,192.2 99,191.9 100.1,189.4 101.2,193.9 102.3,190 103.4,194.7 104.5,189.3 105.6,195 106.7,193.1 107.8,191.1 108.9,193.6 110,193.8 111.1,195 112.2,192.9 113.3,192.9 114.4,195.9 115.5,193.6 116.6,195.1 117.7,197.2 118.8,191.4 119.9,195.8 121,197.3 122.1,194.3 123.2,193.4 124.3,196.8 125.4,194.6 126.5,196.8 127.6,194.9 128.7,192.8 129.8,196.2 130.9,194 132,196.8 133.1,196.2 134.2,193 135.3,193.6 136.4,197.2 137.5,196.4 138.6,193.7 139.7,195.5 140.8,195.9 141.9,195.4 143,196.5 144.1,195.4 145.2,195.2 146.3,194.4 147.4,198.9 148.5,190.8 149.6,196.6 150.7,196.6 151.8,192.7 152.9,197.5 154,193.7 155.1,197.7 156.2,194.4 157.3,196.2 158.4,197.2 159.5,196.2 160.6,194.9 161.7,192.5 162.8,200 163.9,194.9 165,194.6 166.1,196.7 167.2,194.9 168.3,197.6 169.4,195.5 170.5,196.5 171.6,194.5 172.7,198.1 173.8,193.6 174.9,197.1 176,199.6 177.1,194.2 178.2,192.6 179.3,197.6 180.4,201.4 181.5,194.1 182.6,194.8 183.7,199.3 184.8,195.4 185.9,197 187,196.9 188.1,199.5 189.2,197.3" fill="none" stroke="#555" stroke-width="1.7" stroke-linejoin="round"/>
<path d="M44,97.4 45.1,94.4 46.2,101.6 47.3,76.8 48.4,112.6 49.5,101.3 50.6,90.2 51.7,103 52.8,99.9 53.9,92.9 55,109.6 56.1,98.5 57.2,103.9 58.3,99.6 59.4,112.4 60.5,106.3 61.6,116.8 62.7,107.9 63.8,119.7 64.9,108.7 66,125.2 67.1,117.4 68.2,120.3 69.3,124.4 70.4,111.3 71.5,123.8 72.6,136.9 73.7,110.8 74.8,118.6 75.9,115.6 77,132.5 78.1,121.4 79.2,130.8 80.3,128.6 81.4,127.1 82.5,130.9 83.6,126.8 84.7,140 85.8,125 86.9,133.8 88,134.4 89.1,149.6 90.2,132.4 91.3,136.3 92.4,138.3 93.5,150.6 94.6,138.3 95.7,158.8 96.8,131.4 97.9,158.3 99,158.4 100.1,142.3 101.2,156.4 102.3,163.4 103.4,154.4 104.5,160.7 105.6,172.4 106.7,160.1 107.8,163.2 108.9,159.9 110,171.4 111.1,165.1 112.2,167.7 113.3,167.7 114.4,175.6 115.5,166.8 116.6,169.8 117.7,160 118.8,182.2 119.9,167.6 121,179.4 122.1,170.6 123.2,167.5 124.3,175.8 125.4,173 126.5,167.5 127.6,166.7 128.7,181.3 129.8,169.5 130.9,173.1 132,169.9 133.1,166.1 134.2,175.6 135.3,168.8 136.4,165.8 137.5,170.6 138.6,163.6 139.7,168.1 140.8,173.5 141.9,158.5 143,175.3 144.1,160.1 145.2,168.5 146.3,161.1 147.4,164.7 148.5,165.2 149.6,162.5 150.7,161.5 151.8,161.7 152.9,161.6 154,155.7 155.1,161 156.2,160.4 157.3,161.2 158.4,155.4 159.5,165.9 160.6,153.3 161.7,148.1 162.8,162.3 163.9,141.2 165,155.3 166.1,139.4 167.2,149.5 168.3,132.7 169.4,150.6 170.5,143.9 171.6,139.5 172.7,155 173.8,150.5 174.9,154 176,155.6 177.1,164.7 178.2,166 179.3,173.3 180.4,177.9 181.5,174.9 182.6,180.7 183.7,184.8 184.8,183.2 185.9,189.4 187,191.7 188.1,195.6 189.2,200.7" fill="none" stroke="#1c1" stroke-width="2.0" stroke-linejoin="round"/>
<path d="M44,158.5 45.1,135.2 46.2,151.7 47.3,143.7 48.4,144.2 49.5,146.3 50.6,136.7 51.7,145.1 52.8,134.8 53.9,153.2 55,137.2 56.1,138 57.2,138.5 58.3,136.6 59.4,133.9 60.5,134.7 61.6,137 62.7,131.1 63.8,136.9 64.9,130.5 66,130.4 67.1,136.4 68.2,132 69.3,128.9 70.4,130.2 71.5,130.3 72.6,136.8 73.7,127.2 74.8,128.4 75.9,134.9 77,126 78.1,129.6 79.2,135.1 80.3,135.7 81.4,136.7 82.5,146.8 83.6,132.4 84.7,155.5 85.8,147.2 86.9,147.3 88,157 89.1,160 90.2,158.7 91.3,159.1 92.4,166.4 93.5,165.7 94.6,174.6 95.7,174.2 96.8,174.8 97.9,183.6 99,181.1 100.1,180.4 101.2,189.9 102.3,190.9 103.4,189.9 104.5,188.6 105.6,199.8 106.7,182.4 107.8,202.5 108.9,200.9 110,189.6 111.1,202.4 112.2,192.3 113.3,204.5 114.4,188.3 115.5,194.6 116.6,198.8 117.7,202.7 118.8,183.7 119.9,194.3 121,196.1 122.1,186.4 123.2,201.4 124.3,182.4 125.4,195.4 126.5,182.3 127.6,197.5 128.7,187.4 129.8,189.9 130.9,178.8 132,197.5 133.1,187.7 134.2,188.4 135.3,191.1 136.4,188.3 137.5,185.1 138.6,185.7 139.7,182.2 140.8,196.1 141.9,178.1 143,185.6 144.1,184.1 145.2,184.8 146.3,187.2 147.4,177.8 148.5,174.1 149.6,178.8 150.7,180.1 151.8,174.8 152.9,171.7 154,167.2 155.1,168.6 156.2,162.1 157.3,165.6 158.4,155 159.5,156.9 160.6,151.2 161.7,150.4 162.8,142.6 163.9,146.2 165,135.4 166.1,135.2 167.2,118.7 168.3,125.3 169.4,121.2 170.5,130.7 171.6,122.3 172.7,141.3 173.8,146.2 174.9,147.7 176,160.5 177.1,168.1 178.2,175 179.3,177.5 180.4,185.9 181.5,178.8 182.6,186.6 183.7,184.1 184.8,192.5 185.9,188.9 187,196.1 188.1,188.8 189.2,193.1" fill="none" stroke="#00f" stroke-width="2.1" stroke-linejoin="round"/>
<path d="M44,141.1 45.1,141 46.2,146.2 47.3,143.4 48.4,135.8 49.5,142.8 50.6,138.2 51.7,142.2 52.8,134.2 53.9,140.5 55,136.9 56.1,141.3 57.2,135.7 58.3,138.9 59.4,128.8 60.5,144.8 61.6,125.9 62.7,139.3 63.8,132.3 64.9,131.5 66,132.2 67.1,130.4 68.2,133.4 69.3,129 70.4,136.7 71.5,123.6 72.6,132.5 73.7,126.2 74.8,134.3 75.9,122.7 77,129.9 78.1,131.6 79.2,124.4 80.3,134.5 81.4,130.1 82.5,134.4 83.6,136.6 84.7,132.4 85.8,135.6 86.9,137.4 88,140.6 89.1,142.9 90.2,139.8 91.3,143.4 92.4,144.2 93.5,146.4 94.6,148.7 95.7,148.2 96.8,158.3 97.9,150.3 99,154.1 100.1,158.6 101.2,154.6 102.3,158.6 103.4,159.7 104.5,164.8 105.6,156.8 106.7,169.2 107.8,162.2 108.9,165.4 110,167.4 111.1,166 112.2,168.1 113.3,165.5 114.4,165.5 115.5,167.9 116.6,161.7 117.7,171.1 118.8,163.9 119.9,161.1 121,172.4 122.1,163.2 123.2,158.4 124.3,169 125.4,157.7 126.5,164.8 127.6,156.8 128.7,160.9 129.8,155.8 130.9,154.9 132,156.2 133.1,156.3 134.2,155.7 135.3,162.3 136.4,148.6 137.5,158.9 138.6,151.6 139.7,155.4 140.8,150.9 141.9,151.2 143,153.3 144.1,150 145.2,154.2 146.3,149 147.4,156.1 148.5,151 149.6,151.3 150.7,155.1 151.8,153.8 152.9,154.1 154,155.8 155.1,155.8 156.2,160.7 157.3,160 158.4,159.7 159.5,163.7 160.6,159.5 161.7,166.7 162.8,158.6 163.9,170.3 165,164.8 166.1,166.4 167.2,168.4 168.3,166.6 169.4,165.1 170.5,170.5 171.6,167.1 172.7,163.9 173.8,170.8 174.9,160.2 176,173.5 177.1,165.4 178.2,167 179.3,175.2 180.4,177.3 181.5,173.9 182.6,179.6 183.7,182.5 184.8,188.3 185.9,185.4 187,190.2 188.1,197.5 189.2,198.4" fill="none" stroke="#f00" stroke-width="2.1" stroke-linejoin="round"/>
<text x="62" y="81.9" font-size="10">B exciton</text>
<line x1="76.2" y1="86.6" x2="76.2" y2="105.2" stroke="#000" stroke-width="1.6"/>
<path d="M73,104.2 L79.4,104.2 L76.2,115.2 Z" fill="#000"/>
<text x="96" y="107" font-size="10" fill="#f33">MB absorption</text>
<line x1="136.9" y1="110.2" x2="136.9" y2="128.3" stroke="#f00" stroke-width="1.6"/>
<path d="M133.7,127.3 L140.1,127.3 L136.9,138.3 Z" fill="#f00"/>
<text x="149.1" y="87.6" font-size="10" fill="#00f">A exciton</text>
<line x1="168.1" y1="91.7" x2="168.1" y2="109.9" stroke="#00f" stroke-width="1.6"/>
<path d="M164.9,108.9 L171.3,108.9 L168.1,119.9 Z" fill="#00f"/>
<path d="M44,251.8 H190.5 V454 H44 Z" fill="none" stroke="#222" stroke-width="1.1"/>
<line x1="38.5" y1="441.2" x2="44" y2="441.2" stroke="#222" stroke-width="1.1"/>
<text x="36" y="444.9" font-size="10.5" text-anchor="end">0</text>
<line x1="41" y1="408.4" x2="44" y2="408.4" stroke="#222" stroke-width="1.1"/>
<line x1="38.5" y1="375.7" x2="44" y2="375.7" stroke="#222" stroke-width="1.1"/>
<text x="36" y="379.4" font-size="10.5" text-anchor="end">10</text>
<line x1="41" y1="342.9" x2="44" y2="342.9" stroke="#222" stroke-width="1.1"/>
<line x1="38.5" y1="310.2" x2="44" y2="310.2" stroke="#222" stroke-width="1.1"/>
<text x="36" y="313.9" font-size="10.5" text-anchor="end">20</text>
<line x1="41" y1="277.4" x2="44" y2="277.4" stroke="#222" stroke-width="1.1"/>
<line x1="50.6" y1="454" x2="50.6" y2="459.5" stroke="#222" stroke-width="1.1"/>
<text x="50.6" y="473" font-size="10.5" text-anchor="middle">560</text>
<line x1="63.3" y1="454" x2="63.3" y2="457" stroke="#222" stroke-width="1.1"/>
<line x1="75.9" y1="454" x2="75.9" y2="459.5" stroke="#222" stroke-width="1.1"/>
<text x="75.9" y="473" font-size="10.5" text-anchor="middle">600</text>
<line x1="88.6" y1="454" x2="88.6" y2="457" stroke="#222" stroke-width="1.1"/>
<line x1="101.3" y1="454" x2="101.3" y2="459.5" stroke="#222" stroke-width="1.1"/>
<text x="101.3" y="473" font-size="10.5" text-anchor="middle">640</text>
<line x1="113.9" y1="454" x2="113.9" y2="457" stroke="#222" stroke-width="1.1"/>
<line x1="126.6" y1="454" x2="126.6" y2="459.5" stroke="#222" stroke-width="1.1"/>
<text x="126.6" y="473" font-size="10.5" text-anchor="middle">680</text>
<line x1="139.3" y1="454" x2="139.3" y2="457" stroke="#222" stroke-width="1.1"/>
<line x1="152" y1="454" x2="152" y2="459.5" stroke="#222" stroke-width="1.1"/>
<text x="152" y="473" font-size="10.5" text-anchor="middle">720</text>
<line x1="164.6" y1="454" x2="164.6" y2="457" stroke="#222" stroke-width="1.1"/>
<line x1="177.3" y1="454" x2="177.3" y2="459.5" stroke="#222" stroke-width="1.1"/>
<text x="177.3" y="473" font-size="10.5" text-anchor="middle">760</text>
<line x1="190" y1="454" x2="190" y2="457" stroke="#222" stroke-width="1.1"/>
<text x="110" y="492" font-size="11" text-anchor="middle">Wavelength (nm)</text>
<text x="15.3" y="348.4" font-size="11" text-anchor="middle" transform="rotate(-90 15.3 348.4)" xml:space="preserve">T/T (x10<tspan font-size="8" dy="-5"> -3</tspan><tspan dy="5"> )</tspan></text>
<text x="13.5" y="263" font-size="20">b</text>
<line x1="44" y1="310.3" x2="151.2" y2="310.3" stroke="#000" stroke-width="1" stroke-dasharray="5.5 3.5"/>
<line x1="44" y1="375.5" x2="151.2" y2="375.5" stroke="#000" stroke-width="1" stroke-dasharray="5.5 3.5"/>
<line x1="44" y1="408" x2="151.2" y2="408" stroke="#000" stroke-width="1" stroke-dasharray="5.5 3.5"/>
<text x="49.5" y="262.6" font-size="11">Pump: 532 nm</text>
<text x="49.5" y="275.6" font-size="11">1.5 ps</text>
<path d="M44,438.7 45,440.9 46,440.9 47,438.3 48,439.7 49,438.7 50,440.8 51,438.9 52,441.8 53,435.7 54,443.1 55,438.4 56,440.9 57,439.4 58,439 59,440.3 60,440.9 61,439.2 62,439.4 63,441.4 64,439 65,437.9 66,441.6 67,439.7 68,437.8 69,439.9 70,440.3 71,439.2 72,438.3 73,440.3 74,441.4 75,439.5 76,438.8 77,440.6 78,441 79,438.9 80,440.4 81,441.4 82,439.6 83,438.7 84,440.8 85,439.6 86,442.2 87,437.8 88,440.1 89,440 90,437.8 91,440.8 92,441.1 93,437.9 94,442 95,440.2 96,440.3 97,439.8 98,441.9 99,437.2 100,441.3 101,441.5 102,436.8 103,441.6 104,439 105,441.5 106,438.9 107,439.9 108,440.9 109,438.1 110,441.2 111,439.1 112,440.8 113,438.1 114,441.3 115,440.1 116,438.7 117,439.9 118,440.1 119,442.3 120,435.6 121,441.3 122,439.6 123,439.4 124,437.1 125,442.2 126,436.2 127,439.8 128,441.4 129,435.9 130,439.9 131,436.8 132,438.9 133,439.7 134,441.7 135,435.1 136,438.1 137,438.9 138,440.1 139,438.4 140,436.7 141,438.9 142,438 143,438.1 144,436.7 145,438.7 146,438.1 147,437.6 148,438.1 149,436.1 150,436.9 151,439.7 152,437.3 153,434.7 154,439.9 155,436.3 156,440.1 157,436.5 158,437.3 159,434.6 160,438.5 161,440.7 162,434.9 163,436.2 164,438.7 165,435.6 166,437.2 167,436.5 168,436.9 169,438.5 170,436 171,438.6 172,435.9 173,439.1 174,434.8 175,436.1 176,440.1 177,436.4 178,439.1 179,438.2 180,439.8 181,438.6 182,440 183,438.6 184,438.5 185,438.8 186,439.6 187,438.4 188,439.5 189,439.9 190,440.4" fill="none" stroke="#555" stroke-width="1.4" stroke-linejoin="round"/>
<path d="M44,421.7 45,422.6 46,421.3 47,420.6 48,422.6 49,417.8 50,419.6 51,417.4 52,418.2 53,419 54,416.4 55,418 56,413.2 57,416.7 58,412.7 59,416.2 60,413.2 61,413.2 62,410.7 63,410.9 64,410 65,407.7 66,406.7 67,406.3 68,404.5 69,403.6 70,403.3 71,401.3 72,403.6 73,398.7 74,403 75,400.2 76,401.6 77,400.9 78,403.8 79,404.3 80,406.5 81,406.5 82,408.1 83,411.7 84,411.1 85,411.4 86,415.7 87,415.1 88,418 89,419.7 90,420.6 91,419.8 92,422.9 93,424.5 94,423.2 95,424.5 96,425.7 97,423.3 98,426 99,426.1 100,425.5 101,426 102,425.5 103,427.7 104,425.1 105,425.5 106,426.8 107,425 108,424.4 109,424.6 110,425.3 111,425.3 112,422.7 113,422 114,423.3 115,422.2 116,421.5 117,421.4 118,421.5 119,419.6 120,420.3 121,417.7 122,416.8 123,417.3 124,416.3 125,415.4 126,414.4 127,413.9 128,414.2 129,410.6 130,411.7 131,412 132,412 133,408.4 134,412.1 135,409 136,409.1 137,408.8 138,409.3 139,405.5 140,408.2 141,405.9 142,404.3 143,404.6 144,401 145,401.4 146,400.6 147,398.1 148,397.1 149,395.6 150,393.8 151,393.2 152,390.6 153,388.9 154,387.4 155,386.9 156,383 157,382.4 158,378.4 159,378.4 160,375.1 161,373.6 162,370.2 163,366.4 164,364 165,360.3 166,356.2 167,352.9 168,351.9 169,349.5 170,351.7 171,351.2 172,354.7 173,359.2 174,362.8 175,367.8 176,374 177,378.3 178,385.3 179,392.2 180,400.5 181,406.8 182,411.6 183,415 184,419.1 185,422.6 186,424.9 187,428.9 188,429.3 189,431.6 190,432.8" fill="none" stroke="#00f" stroke-width="2.0" stroke-linejoin="round"/>
<path d="M44,396.3 45,387.5 46,395 47,391.1 48,393.1 49,390.2 50,392.8 51,389.6 52,388.6 53,389.8 54,388.8 55,387.2 56,386.6 57,387.1 58,386.5 59,384.2 60,384.7 61,380.3 62,384.9 63,379.1 64,380.8 65,376.9 66,377.8 67,375.7 68,372.5 69,374.2 70,368.6 71,372.4 72,366.5 73,369 74,369.1 75,368 76,368.1 77,368.3 78,369.2 79,371.8 80,372.5 81,372.8 82,372.4 83,377.1 84,374.7 85,378.2 86,378.6 87,382.3 88,382.8 89,385.1 90,387 91,387.2 92,390.3 93,393 94,392.1 95,395.2 96,395.2 97,398.6 98,399.3 99,401.4 100,401.6 101,405.1 102,403.2 103,404.5 104,403.8 105,405.6 106,403.4 107,402.9 108,403.7 109,403.2 110,402.9 111,398.1 112,400.5 113,398.9 114,397.7 115,396.9 116,399.1 117,395.4 118,394.6 119,396 120,394.4 121,394.6 122,393.1 123,393.7 124,394.4 125,391.3 126,391.1 127,393.4 128,392.1 129,390.2 130,389 131,389.4 132,386.7 133,386.1 134,387.1 135,383.2 136,384 137,380.6 138,379.9 139,380.2 140,375.4 141,375.7 142,373.9 143,372.2 144,371.8 145,369.4 146,365.6 147,365.5 148,362.5 149,359.7 150,360.4 151,354.6 152,353.9 153,349.8 154,347.9 155,343.4 156,339.2 157,334.5 158,331.2 159,325.4 160,321.8 161,317.3 162,315.1 163,309.7 164,305.2 165,300.9 166,298.9 167,293.7 168,292.3 169,290.7 170,290.7 171,292.4 172,296.4 173,301.4 174,305.2 175,313.9 176,318 177,324 178,331.2 179,338.4 180,347.4 181,353.7 182,361 183,365.3 184,371.7 185,377.9 186,381.3 187,387.1 188,390.7 189,395.4 190,398.7" fill="none" stroke="#1c1" stroke-width="2.0" stroke-linejoin="round"/>
<path d="M44,326.6 45,322.2 46,322.2 47,318.3 48,321.5 49,322.6 50,318.7 51,319.2 52,320 53,314 54,321.9 55,312.9 56,314.8 57,318.7 58,312 59,313.5 60,311.2 61,313.3 62,307.2 63,308.6 64,311.2 65,306.9 66,305.6 67,305.8 68,304.8 69,303.3 70,304.5 71,298.9 72,303.8 73,299.5 74,302.6 75,301.1 76,299.6 77,302.1 78,299.2 79,303.4 80,300.5 81,303.9 82,299.9 83,307.2 84,303 85,307.8 86,308.3 87,306 88,310.9 89,309.5 90,311.9 91,314.3 92,313.2 93,315.7 94,311.6 95,314.7 96,313.6 97,315.3 98,311.5 99,313.9 100,313.7 101,310.2 102,310.8 103,313.1 104,309.6 105,308.9 106,312 107,309.9 108,308.9 109,309.6 110,308.4 111,308.1 112,307.5 113,307.8 114,309.2 115,305.4 116,306.5 117,306.1 118,303.3 119,305 120,305.1 121,300.4 122,303 123,297.9 124,299.6 125,298.2 126,295.5 127,292.1 128,294.9 129,291.7 130,290.9 131,290.7 132,292.4 133,288.9 134,289.5 135,286 136,288.3 137,285.1 138,288.2 139,285.2 140,286.1 141,285.8 142,284.8 143,286.5 144,285.6 145,284.5 146,285.1 147,285 148,286 149,283.8 150,286.1 151,283.4 152,284.6 153,282.3 154,284.8 155,281.9 156,281.1 157,282 158,279.7 159,278.6 160,279.1 161,277.1 162,277.6 163,275.6 164,275.7 165,275.2 166,273.6 167,274.9 168,272.9 169,273.5 170,274.5 171,277.4 172,279 173,281.9 174,284.8 175,288.6 176,291 177,294.2 178,298.5 179,302.5 180,304.5 181,308.4 182,309.3 183,313.5 184,315.6 185,318.4 186,320.3 187,323.3 188,323.9 189,327.7 190,327.3" fill="none" stroke="#f00" stroke-width="2.0" stroke-linejoin="round"/>
<line x1="75.4" y1="278.5" x2="75.4" y2="287.5" stroke="#000" stroke-width="1.6"/>
<path d="M72.2,286.5 L78.6,286.5 L75.4,297.5 Z" fill="#000"/>
<line x1="139.7" y1="256" x2="139.7" y2="270.5" stroke="#f00" stroke-width="1.6"/>
<path d="M136.5,269.5 L142.9,269.5 L139.7,280.5 Z" fill="#f00"/>
<line x1="168.4" y1="254.2" x2="168.4" y2="261.5" stroke="#00f" stroke-width="1.6"/>
<path d="M165.2,260.5 L171.6,260.5 L168.4,271.5 Z" fill="#00f"/>
<line x1="266.5" y1="3.5" x2="266.5" y2="206.6" stroke="#111" stroke-width="1.1"/>
<line x1="266.5" y1="237.6" x2="266.5" y2="341.5" stroke="#111" stroke-width="1.1"/>
<line x1="266.5" y1="350.6" x2="266.5" y2="454.2" stroke="#111" stroke-width="1.1"/>
<line x1="261.5" y1="206.6" x2="266.5" y2="206.6" stroke="#111" stroke-width="1"/>
<line x1="263.5" y1="191.3" x2="266.5" y2="191.3" stroke="#111" stroke-width="1"/>
<line x1="263.5" y1="182.3" x2="266.5" y2="182.3" stroke="#111" stroke-width="1"/>
<line x1="263.5" y1="176" x2="266.5" y2="176" stroke="#111" stroke-width="1"/>
<line x1="263.5" y1="171" x2="266.5" y2="171" stroke="#111" stroke-width="1"/>
<line x1="263.5" y1="167" x2="266.5" y2="167" stroke="#111" stroke-width="1"/>
<line x1="263.5" y1="163.6" x2="266.5" y2="163.6" stroke="#111" stroke-width="1"/>
<line x1="263.5" y1="160.6" x2="266.5" y2="160.6" stroke="#111" stroke-width="1"/>
<line x1="263.5" y1="158" x2="266.5" y2="158" stroke="#111" stroke-width="1"/>
<line x1="261.5" y1="155.7" x2="266.5" y2="155.7" stroke="#111" stroke-width="1"/>
<line x1="263.5" y1="140.4" x2="266.5" y2="140.4" stroke="#111" stroke-width="1"/>
<line x1="263.5" y1="131.4" x2="266.5" y2="131.4" stroke="#111" stroke-width="1"/>
<line x1="263.5" y1="125.1" x2="266.5" y2="125.1" stroke="#111" stroke-width="1"/>
<line x1="263.5" y1="120.1" x2="266.5" y2="120.1" stroke="#111" stroke-width="1"/>
<line x1="263.5" y1="116.1" x2="266.5" y2="116.1" stroke="#111" stroke-width="1"/>
<line x1="263.5" y1="112.7" x2="266.5" y2="112.7" stroke="#111" stroke-width="1"/>
<line x1="263.5" y1="109.7" x2="266.5" y2="109.7" stroke="#111" stroke-width="1"/>
<line x1="263.5" y1="107.1" x2="266.5" y2="107.1" stroke="#111" stroke-width="1"/>
<line x1="261.5" y1="104.8" x2="266.5" y2="104.8" stroke="#111" stroke-width="1"/>
<line x1="263.5" y1="89.5" x2="266.5" y2="89.5" stroke="#111" stroke-width="1"/>
<line x1="263.5" y1="80.5" x2="266.5" y2="80.5" stroke="#111" stroke-width="1"/>
<line x1="263.5" y1="74.2" x2="266.5" y2="74.2" stroke="#111" stroke-width="1"/>
<line x1="263.5" y1="69.2" x2="266.5" y2="69.2" stroke="#111" stroke-width="1"/>
<line x1="263.5" y1="65.2" x2="266.5" y2="65.2" stroke="#111" stroke-width="1"/>
<line x1="263.5" y1="61.8" x2="266.5" y2="61.8" stroke="#111" stroke-width="1"/>
<line x1="263.5" y1="58.8" x2="266.5" y2="58.8" stroke="#111" stroke-width="1"/>
<line x1="263.5" y1="56.2" x2="266.5" y2="56.2" stroke="#111" stroke-width="1"/>
<line x1="261.5" y1="53.9" x2="266.5" y2="53.9" stroke="#111" stroke-width="1"/>
<line x1="263.5" y1="38.6" x2="266.5" y2="38.6" stroke="#111" stroke-width="1"/>
<line x1="263.5" y1="29.6" x2="266.5" y2="29.6" stroke="#111" stroke-width="1"/>
<line x1="263.5" y1="23.3" x2="266.5" y2="23.3" stroke="#111" stroke-width="1"/>
<line x1="263.5" y1="18.3" x2="266.5" y2="18.3" stroke="#111" stroke-width="1"/>
<line x1="263.5" y1="14.3" x2="266.5" y2="14.3" stroke="#111" stroke-width="1"/>
<line x1="263.5" y1="10.9" x2="266.5" y2="10.9" stroke="#111" stroke-width="1"/>
<line x1="263.5" y1="7.9" x2="266.5" y2="7.9" stroke="#111" stroke-width="1"/>
<line x1="263.5" y1="5.3" x2="266.5" y2="5.3" stroke="#111" stroke-width="1"/>
<line x1="261.5" y1="3" x2="266.5" y2="3" stroke="#111" stroke-width="1"/>
<line x1="261.5" y1="334.8" x2="266.5" y2="334.8" stroke="#111" stroke-width="1"/>
<line x1="261.5" y1="447.6" x2="266.5" y2="447.6" stroke="#111" stroke-width="1"/>
<line x1="263.5" y1="318.6" x2="266.5" y2="318.6" stroke="#111" stroke-width="1"/>
<line x1="263.5" y1="431.5" x2="266.5" y2="431.5" stroke="#111" stroke-width="1"/>
<line x1="261.5" y1="302.4" x2="266.5" y2="302.4" stroke="#111" stroke-width="1"/>
<line x1="261.5" y1="415.3" x2="266.5" y2="415.3" stroke="#111" stroke-width="1"/>
<line x1="263.5" y1="286.2" x2="266.5" y2="286.2" stroke="#111" stroke-width="1"/>
<line x1="263.5" y1="399.2" x2="266.5" y2="399.2" stroke="#111" stroke-width="1"/>
<line x1="261.5" y1="270" x2="266.5" y2="270" stroke="#111" stroke-width="1"/>
<line x1="261.5" y1="383" x2="266.5" y2="383" stroke="#111" stroke-width="1"/>
<line x1="263.5" y1="253.8" x2="266.5" y2="253.8" stroke="#111" stroke-width="1"/>
<line x1="263.5" y1="366.9" x2="266.5" y2="366.9" stroke="#111" stroke-width="1"/>
<line x1="261.5" y1="237.6" x2="266.5" y2="237.6" stroke="#111" stroke-width="1"/>
<line x1="261.5" y1="350.7" x2="266.5" y2="350.7" stroke="#111" stroke-width="1"/>
<line x1="274.9" y1="206.6" x2="274.9" y2="209.6" stroke="#111" stroke-width="1"/>
<line x1="274.9" y1="341.5" x2="274.9" y2="344.5" stroke="#111" stroke-width="1"/>
<line x1="274.9" y1="454.2" x2="274.9" y2="457.2" stroke="#111" stroke-width="1"/>
<line x1="291.7" y1="206.6" x2="291.7" y2="211.6" stroke="#111" stroke-width="1"/>
<line x1="291.7" y1="341.5" x2="291.7" y2="346.5" stroke="#111" stroke-width="1"/>
<line x1="291.7" y1="454.2" x2="291.7" y2="459.2" stroke="#111" stroke-width="1"/>
<text x="291.7" y="225.2" font-size="11" text-anchor="middle">680</text>
<text x="291.7" y="473.4" font-size="11" text-anchor="middle">680</text>
<line x1="308.4" y1="206.6" x2="308.4" y2="209.6" stroke="#111" stroke-width="1"/>
<line x1="308.4" y1="341.5" x2="308.4" y2="344.5" stroke="#111" stroke-width="1"/>
<line x1="308.4" y1="454.2" x2="308.4" y2="457.2" stroke="#111" stroke-width="1"/>
<line x1="325.2" y1="206.6" x2="325.2" y2="211.6" stroke="#111" stroke-width="1"/>
<line x1="325.2" y1="341.5" x2="325.2" y2="346.5" stroke="#111" stroke-width="1"/>
<line x1="325.2" y1="454.2" x2="325.2" y2="459.2" stroke="#111" stroke-width="1"/>
<text x="325.2" y="225.2" font-size="11" text-anchor="middle">720</text>
<text x="325.2" y="473.4" font-size="11" text-anchor="middle">720</text>
<line x1="341.9" y1="206.6" x2="341.9" y2="209.6" stroke="#111" stroke-width="1"/>
<line x1="341.9" y1="341.5" x2="341.9" y2="344.5" stroke="#111" stroke-width="1"/>
<line x1="341.9" y1="454.2" x2="341.9" y2="457.2" stroke="#111" stroke-width="1"/>
<line x1="358.7" y1="206.6" x2="358.7" y2="211.6" stroke="#111" stroke-width="1"/>
<line x1="358.7" y1="341.5" x2="358.7" y2="346.5" stroke="#111" stroke-width="1"/>
<line x1="358.7" y1="454.2" x2="358.7" y2="459.2" stroke="#111" stroke-width="1"/>
<text x="358.7" y="225.2" font-size="11" text-anchor="middle">760</text>
<text x="358.7" y="473.4" font-size="11" text-anchor="middle">760</text>
<line x1="375.4" y1="206.6" x2="375.4" y2="209.6" stroke="#111" stroke-width="1"/>
<line x1="375.4" y1="341.5" x2="375.4" y2="344.5" stroke="#111" stroke-width="1"/>
<line x1="375.4" y1="454.2" x2="375.4" y2="457.2" stroke="#111" stroke-width="1"/>
<line x1="389.5" y1="3.5" x2="389.5" y2="206.6" stroke="#111" stroke-width="1.1"/>
<line x1="389.5" y1="237.6" x2="389.5" y2="341.5" stroke="#111" stroke-width="1.1"/>
<line x1="389.5" y1="350.6" x2="389.5" y2="454.2" stroke="#111" stroke-width="1.1"/>
<line x1="384.5" y1="206.6" x2="389.5" y2="206.6" stroke="#111" stroke-width="1"/>
<line x1="386.5" y1="191.3" x2="389.5" y2="191.3" stroke="#111" stroke-width="1"/>
<line x1="386.5" y1="182.3" x2="389.5" y2="182.3" stroke="#111" stroke-width="1"/>
<line x1="386.5" y1="176" x2="389.5" y2="176" stroke="#111" stroke-width="1"/>
<line x1="386.5" y1="171" x2="389.5" y2="171" stroke="#111" stroke-width="1"/>
<line x1="386.5" y1="167" x2="389.5" y2="167" stroke="#111" stroke-width="1"/>
<line x1="386.5" y1="163.6" x2="389.5" y2="163.6" stroke="#111" stroke-width="1"/>
<line x1="386.5" y1="160.6" x2="389.5" y2="160.6" stroke="#111" stroke-width="1"/>
<line x1="386.5" y1="158" x2="389.5" y2="158" stroke="#111" stroke-width="1"/>
<line x1="384.5" y1="155.7" x2="389.5" y2="155.7" stroke="#111" stroke-width="1"/>
<line x1="386.5" y1="140.4" x2="389.5" y2="140.4" stroke="#111" stroke-width="1"/>
<line x1="386.5" y1="131.4" x2="389.5" y2="131.4" stroke="#111" stroke-width="1"/>
<line x1="386.5" y1="125.1" x2="389.5" y2="125.1" stroke="#111" stroke-width="1"/>
<line x1="386.5" y1="120.1" x2="389.5" y2="120.1" stroke="#111" stroke-width="1"/>
<line x1="386.5" y1="116.1" x2="389.5" y2="116.1" stroke="#111" stroke-width="1"/>
<line x1="386.5" y1="112.7" x2="389.5" y2="112.7" stroke="#111" stroke-width="1"/>
<line x1="386.5" y1="109.7" x2="389.5" y2="109.7" stroke="#111" stroke-width="1"/>
<line x1="386.5" y1="107.1" x2="389.5" y2="107.1" stroke="#111" stroke-width="1"/>
<line x1="384.5" y1="104.8" x2="389.5" y2="104.8" stroke="#111" stroke-width="1"/>
<line x1="386.5" y1="89.5" x2="389.5" y2="89.5" stroke="#111" stroke-width="1"/>
<line x1="386.5" y1="80.5" x2="389.5" y2="80.5" stroke="#111" stroke-width="1"/>
<line x1="386.5" y1="74.2" x2="389.5" y2="74.2" stroke="#111" stroke-width="1"/>
<line x1="386.5" y1="69.2" x2="389.5" y2="69.2" stroke="#111" stroke-width="1"/>
<line x1="386.5" y1="65.2" x2="389.5" y2="65.2" stroke="#111" stroke-width="1"/>
<line x1="386.5" y1="61.8" x2="389.5" y2="61.8" stroke="#111" stroke-width="1"/>
<line x1="386.5" y1="58.8" x2="389.5" y2="58.8" stroke="#111" stroke-width="1"/>
<line x1="386.5" y1="56.2" x2="389.5" y2="56.2" stroke="#111" stroke-width="1"/>
<line x1="384.5" y1="53.9" x2="389.5" y2="53.9" stroke="#111" stroke-width="1"/>
<line x1="386.5" y1="38.6" x2="389.5" y2="38.6" stroke="#111" stroke-width="1"/>
<line x1="386.5" y1="29.6" x2="389.5" y2="29.6" stroke="#111" stroke-width="1"/>
<line x1="386.5" y1="23.3" x2="389.5" y2="23.3" stroke="#111" stroke-width="1"/>
<line x1="386.5" y1="18.3" x2="389.5" y2="18.3" stroke="#111" stroke-width="1"/>
<line x1="386.5" y1="14.3" x2="389.5" y2="14.3" stroke="#111" stroke-width="1"/>
<line x1="386.5" y1="10.9" x2="389.5" y2="10.9" stroke="#111" stroke-width="1"/>
<line x1="386.5" y1="7.9" x2="389.5" y2="7.9" stroke="#111" stroke-width="1"/>
<line x1="386.5" y1="5.3" x2="389.5" y2="5.3" stroke="#111" stroke-width="1"/>
<line x1="384.5" y1="3" x2="389.5" y2="3" stroke="#111" stroke-width="1"/>
<line x1="384.5" y1="334.8" x2="389.5" y2="334.8" stroke="#111" stroke-width="1"/>
<line x1="384.5" y1="447.6" x2="389.5" y2="447.6" stroke="#111" stroke-width="1"/>
<line x1="386.5" y1="318.6" x2="389.5" y2="318.6" stroke="#111" stroke-width="1"/>
<line x1="386.5" y1="431.5" x2="389.5" y2="431.5" stroke="#111" stroke-width="1"/>
<line x1="384.5" y1="302.4" x2="389.5" y2="302.4" stroke="#111" stroke-width="1"/>
<line x1="384.5" y1="415.3" x2="389.5" y2="415.3" stroke="#111" stroke-width="1"/>
<line x1="386.5" y1="286.2" x2="389.5" y2="286.2" stroke="#111" stroke-width="1"/>
<line x1="386.5" y1="399.2" x2="389.5" y2="399.2" stroke="#111" stroke-width="1"/>
<line x1="384.5" y1="270" x2="389.5" y2="270" stroke="#111" stroke-width="1"/>
<line x1="384.5" y1="383" x2="389.5" y2="383" stroke="#111" stroke-width="1"/>
<line x1="386.5" y1="253.8" x2="389.5" y2="253.8" stroke="#111" stroke-width="1"/>
<line x1="386.5" y1="366.9" x2="389.5" y2="366.9" stroke="#111" stroke-width="1"/>
<line x1="384.5" y1="237.6" x2="389.5" y2="237.6" stroke="#111" stroke-width="1"/>
<line x1="384.5" y1="350.7" x2="389.5" y2="350.7" stroke="#111" stroke-width="1"/>
<line x1="398" y1="206.6" x2="398" y2="209.6" stroke="#111" stroke-width="1"/>
<line x1="398" y1="341.5" x2="398" y2="344.5" stroke="#111" stroke-width="1"/>
<line x1="398" y1="454.2" x2="398" y2="457.2" stroke="#111" stroke-width="1"/>
<line x1="414.8" y1="206.6" x2="414.8" y2="211.6" stroke="#111" stroke-width="1"/>
<line x1="414.8" y1="341.5" x2="414.8" y2="346.5" stroke="#111" stroke-width="1"/>
<line x1="414.8" y1="454.2" x2="414.8" y2="459.2" stroke="#111" stroke-width="1"/>
<text x="414.8" y="225.2" font-size="11" text-anchor="middle">680</text>
<text x="414.8" y="473.4" font-size="11" text-anchor="middle">680</text>
<line x1="431.5" y1="206.6" x2="431.5" y2="209.6" stroke="#111" stroke-width="1"/>
<line x1="431.5" y1="341.5" x2="431.5" y2="344.5" stroke="#111" stroke-width="1"/>
<line x1="431.5" y1="454.2" x2="431.5" y2="457.2" stroke="#111" stroke-width="1"/>
<line x1="448.3" y1="206.6" x2="448.3" y2="211.6" stroke="#111" stroke-width="1"/>
<line x1="448.3" y1="341.5" x2="448.3" y2="346.5" stroke="#111" stroke-width="1"/>
<line x1="448.3" y1="454.2" x2="448.3" y2="459.2" stroke="#111" stroke-width="1"/>
<text x="448.3" y="225.2" font-size="11" text-anchor="middle">720</text>
<text x="448.3" y="473.4" font-size="11" text-anchor="middle">720</text>
<line x1="465" y1="206.6" x2="465" y2="209.6" stroke="#111" stroke-width="1"/>
<line x1="465" y1="341.5" x2="465" y2="344.5" stroke="#111" stroke-width="1"/>
<line x1="465" y1="454.2" x2="465" y2="457.2" stroke="#111" stroke-width="1"/>
<line x1="481.8" y1="206.6" x2="481.8" y2="211.6" stroke="#111" stroke-width="1"/>
<line x1="481.8" y1="341.5" x2="481.8" y2="346.5" stroke="#111" stroke-width="1"/>
<line x1="481.8" y1="454.2" x2="481.8" y2="459.2" stroke="#111" stroke-width="1"/>
<text x="481.8" y="225.2" font-size="11" text-anchor="middle">760</text>
<text x="481.8" y="473.4" font-size="11" text-anchor="middle">760</text>
<line x1="498.5" y1="206.6" x2="498.5" y2="209.6" stroke="#111" stroke-width="1"/>
<line x1="498.5" y1="341.5" x2="498.5" y2="344.5" stroke="#111" stroke-width="1"/>
<line x1="498.5" y1="454.2" x2="498.5" y2="457.2" stroke="#111" stroke-width="1"/>
<line x1="513" y1="3.5" x2="513" y2="206.6" stroke="#111" stroke-width="1.1"/>
<line x1="513" y1="237.6" x2="513" y2="341.5" stroke="#111" stroke-width="1.1"/>
<line x1="513" y1="350.6" x2="513" y2="454.2" stroke="#111" stroke-width="1.1"/>
<line x1="508" y1="206.6" x2="513" y2="206.6" stroke="#111" stroke-width="1"/>
<line x1="510" y1="191.3" x2="513" y2="191.3" stroke="#111" stroke-width="1"/>
<line x1="510" y1="182.3" x2="513" y2="182.3" stroke="#111" stroke-width="1"/>
<line x1="510" y1="176" x2="513" y2="176" stroke="#111" stroke-width="1"/>
<line x1="510" y1="171" x2="513" y2="171" stroke="#111" stroke-width="1"/>
<line x1="510" y1="167" x2="513" y2="167" stroke="#111" stroke-width="1"/>
<line x1="510" y1="163.6" x2="513" y2="163.6" stroke="#111" stroke-width="1"/>
<line x1="510" y1="160.6" x2="513" y2="160.6" stroke="#111" stroke-width="1"/>
<line x1="510" y1="158" x2="513" y2="158" stroke="#111" stroke-width="1"/>
<line x1="508" y1="155.7" x2="513" y2="155.7" stroke="#111" stroke-width="1"/>
<line x1="510" y1="140.4" x2="513" y2="140.4" stroke="#111" stroke-width="1"/>
<line x1="510" y1="131.4" x2="513" y2="131.4" stroke="#111" stroke-width="1"/>
<line x1="510" y1="125.1" x2="513" y2="125.1" stroke="#111" stroke-width="1"/>
<line x1="510" y1="120.1" x2="513" y2="120.1" stroke="#111" stroke-width="1"/>
<line x1="510" y1="116.1" x2="513" y2="116.1" stroke="#111" stroke-width="1"/>
<line x1="510" y1="112.7" x2="513" y2="112.7" stroke="#111" stroke-width="1"/>
<line x1="510" y1="109.7" x2="513" y2="109.7" stroke="#111" stroke-width="1"/>
<line x1="510" y1="107.1" x2="513" y2="107.1" stroke="#111" stroke-width="1"/>
<line x1="508" y1="104.8" x2="513" y2="104.8" stroke="#111" stroke-width="1"/>
<line x1="510" y1="89.5" x2="513" y2="89.5" stroke="#111" stroke-width="1"/>
<line x1="510" y1="80.5" x2="513" y2="80.5" stroke="#111" stroke-width="1"/>
<line x1="510" y1="74.2" x2="513" y2="74.2" stroke="#111" stroke-width="1"/>
<line x1="510" y1="69.2" x2="513" y2="69.2" stroke="#111" stroke-width="1"/>
<line x1="510" y1="65.2" x2="513" y2="65.2" stroke="#111" stroke-width="1"/>
<line x1="510" y1="61.8" x2="513" y2="61.8" stroke="#111" stroke-width="1"/>
<line x1="510" y1="58.8" x2="513" y2="58.8" stroke="#111" stroke-width="1"/>
<line x1="510" y1="56.2" x2="513" y2="56.2" stroke="#111" stroke-width="1"/>
<line x1="508" y1="53.9" x2="513" y2="53.9" stroke="#111" stroke-width="1"/>
<line x1="510" y1="38.6" x2="513" y2="38.6" stroke="#111" stroke-width="1"/>
<line x1="510" y1="29.6" x2="513" y2="29.6" stroke="#111" stroke-width="1"/>
<line x1="510" y1="23.3" x2="513" y2="23.3" stroke="#111" stroke-width="1"/>
<line x1="510" y1="18.3" x2="513" y2="18.3" stroke="#111" stroke-width="1"/>
<line x1="510" y1="14.3" x2="513" y2="14.3" stroke="#111" stroke-width="1"/>
<line x1="510" y1="10.9" x2="513" y2="10.9" stroke="#111" stroke-width="1"/>
<line x1="510" y1="7.9" x2="513" y2="7.9" stroke="#111" stroke-width="1"/>
<line x1="510" y1="5.3" x2="513" y2="5.3" stroke="#111" stroke-width="1"/>
<line x1="508" y1="3" x2="513" y2="3" stroke="#111" stroke-width="1"/>
<line x1="508" y1="334.8" x2="513" y2="334.8" stroke="#111" stroke-width="1"/>
<line x1="508" y1="447.6" x2="513" y2="447.6" stroke="#111" stroke-width="1"/>
<line x1="510" y1="318.6" x2="513" y2="318.6" stroke="#111" stroke-width="1"/>
<line x1="510" y1="431.5" x2="513" y2="431.5" stroke="#111" stroke-width="1"/>
<line x1="508" y1="302.4" x2="513" y2="302.4" stroke="#111" stroke-width="1"/>
<line x1="508" y1="415.3" x2="513" y2="415.3" stroke="#111" stroke-width="1"/>
<line x1="510" y1="286.2" x2="513" y2="286.2" stroke="#111" stroke-width="1"/>
<line x1="510" y1="399.2" x2="513" y2="399.2" stroke="#111" stroke-width="1"/>
<line x1="508" y1="270" x2="513" y2="270" stroke="#111" stroke-width="1"/>
<line x1="508" y1="383" x2="513" y2="383" stroke="#111" stroke-width="1"/>
<line x1="510" y1="253.8" x2="513" y2="253.8" stroke="#111" stroke-width="1"/>
<line x1="510" y1="366.9" x2="513" y2="366.9" stroke="#111" stroke-width="1"/>
<line x1="508" y1="237.6" x2="513" y2="237.6" stroke="#111" stroke-width="1"/>
<line x1="508" y1="350.7" x2="513" y2="350.7" stroke="#111" stroke-width="1"/>
<line x1="521.4" y1="206.6" x2="521.4" y2="209.6" stroke="#111" stroke-width="1"/>
<line x1="521.4" y1="341.5" x2="521.4" y2="344.5" stroke="#111" stroke-width="1"/>
<line x1="521.4" y1="454.2" x2="521.4" y2="457.2" stroke="#111" stroke-width="1"/>
<line x1="538.1" y1="206.6" x2="538.1" y2="211.6" stroke="#111" stroke-width="1"/>
<line x1="538.1" y1="341.5" x2="538.1" y2="346.5" stroke="#111" stroke-width="1"/>
<line x1="538.1" y1="454.2" x2="538.1" y2="459.2" stroke="#111" stroke-width="1"/>
<text x="538.1" y="225.2" font-size="11" text-anchor="middle">680</text>
<text x="538.1" y="473.4" font-size="11" text-anchor="middle">680</text>
<line x1="554.9" y1="206.6" x2="554.9" y2="209.6" stroke="#111" stroke-width="1"/>
<line x1="554.9" y1="341.5" x2="554.9" y2="344.5" stroke="#111" stroke-width="1"/>
<line x1="554.9" y1="454.2" x2="554.9" y2="457.2" stroke="#111" stroke-width="1"/>
<line x1="571.6" y1="206.6" x2="571.6" y2="211.6" stroke="#111" stroke-width="1"/>
<line x1="571.6" y1="341.5" x2="571.6" y2="346.5" stroke="#111" stroke-width="1"/>
<line x1="571.6" y1="454.2" x2="571.6" y2="459.2" stroke="#111" stroke-width="1"/>
<text x="571.6" y="225.2" font-size="11" text-anchor="middle">720</text>
<text x="571.6" y="473.4" font-size="11" text-anchor="middle">720</text>
<line x1="588.4" y1="206.6" x2="588.4" y2="209.6" stroke="#111" stroke-width="1"/>
<line x1="588.4" y1="341.5" x2="588.4" y2="344.5" stroke="#111" stroke-width="1"/>
<line x1="588.4" y1="454.2" x2="588.4" y2="457.2" stroke="#111" stroke-width="1"/>
<line x1="605.1" y1="206.6" x2="605.1" y2="211.6" stroke="#111" stroke-width="1"/>
<line x1="605.1" y1="341.5" x2="605.1" y2="346.5" stroke="#111" stroke-width="1"/>
<line x1="605.1" y1="454.2" x2="605.1" y2="459.2" stroke="#111" stroke-width="1"/>
<text x="605.1" y="225.2" font-size="11" text-anchor="middle">760</text>
<text x="605.1" y="473.4" font-size="11" text-anchor="middle">760</text>
<line x1="621.9" y1="206.6" x2="621.9" y2="209.6" stroke="#111" stroke-width="1"/>
<line x1="621.9" y1="341.5" x2="621.9" y2="344.5" stroke="#111" stroke-width="1"/>
<line x1="621.9" y1="454.2" x2="621.9" y2="457.2" stroke="#111" stroke-width="1"/>
<line x1="262" y1="206.6" x2="631" y2="206.6" stroke="#111" stroke-width="1.1"/>
<line x1="262" y1="341.5" x2="631" y2="341.5" stroke="#111" stroke-width="1.1"/>
<line x1="262" y1="454.2" x2="631" y2="454.2" stroke="#111" stroke-width="1.1"/>
<text x="255.3" y="211.2" font-size="10.5" text-anchor="end">0.1</text>
<text x="255.3" y="160.3" font-size="10.5" text-anchor="end">1</text>
<text x="255.3" y="109.4" font-size="10.5" text-anchor="end">10</text>
<text x="255.3" y="58.5" font-size="10.5" text-anchor="end">100</text>
<text x="255.3" y="7.7" font-size="10.5" text-anchor="end">1000</text>
<text x="255.8" y="338.7" font-size="11" text-anchor="end">0</text>
<text x="255.8" y="451.5" font-size="11" text-anchor="end">0</text>
<text x="255.8" y="306.3" font-size="11" text-anchor="end">1</text>
<text x="255.8" y="419.2" font-size="11" text-anchor="end">1</text>
<text x="255.8" y="273.9" font-size="11" text-anchor="end">2</text>
<text x="255.8" y="386.9" font-size="11" text-anchor="end">2</text>
<text x="255.8" y="241.5" font-size="11" text-anchor="end">3</text>
<text x="255.8" y="354.6" font-size="11" text-anchor="end">3</text>
<text x="233.3" y="105.2" font-size="11" text-anchor="middle" transform="rotate(-90 233.3 105.2)">Delay time (ps)</text>
<text x="243.6" y="286.2" font-size="11" text-anchor="middle" transform="rotate(-90 243.6 286.2)">Delay time (ps)</text>
<text x="243.6" y="402.4" font-size="11" text-anchor="middle" transform="rotate(-90 243.6 402.4)">Delay time (ps)</text>
<text x="489" y="492.4" font-size="11" text-anchor="middle">Wavelength (nm)</text>
<text x="211" y="12" font-size="20">c</text>
<text x="216" y="250.6" font-size="20">d</text>
<text x="213.5" y="360.5" font-size="20">e</text>
<defs><linearGradient id="cbc" x1="0" y1="0" x2="0" y2="1"><stop offset="0" stop-color="#ffffff"/><stop offset="0.08" stop-color="#ece4e4"/><stop offset="0.17" stop-color="#cbb8b6"/><stop offset="0.26" stop-color="#9a7266"/><stop offset="0.33" stop-color="#7a5040"/><stop offset="0.42" stop-color="#8a6a44"/><stop offset="0.5" stop-color="#b8a060"/><stop offset="0.58" stop-color="#f0ec80"/><stop offset="0.67" stop-color="#d8f0a0"/><stop offset="0.75" stop-color="#80d880"/><stop offset="0.83" stop-color="#20b050"/><stop offset="0.88" stop-color="#10a890"/><stop offset="0.92" stop-color="#1a80e8"/><stop offset="1" stop-color="#303090"/></linearGradient><linearGradient id="cbd" x1="0" y1="0" x2="0" y2="1"><stop offset="0" stop-color="#000"/><stop offset="0.05" stop-color="#2a1200"/><stop offset="0.1" stop-color="#8a3a00"/><stop offset="0.17" stop-color="#ff8800"/><stop offset="0.29" stop-color="#ffee00"/><stop offset="0.37" stop-color="#90e000"/><stop offset="0.45" stop-color="#00cc00"/><stop offset="0.55" stop-color="#00b040"/><stop offset="0.64" stop-color="#008888"/><stop offset="0.72" stop-color="#777777"/><stop offset="0.8" stop-color="#cccccc"/><stop offset="0.86" stop-color="#ffffff"/><stop offset="0.93" stop-color="#3366ff"/><stop offset="1" stop-color="#0000cc"/></linearGradient></defs>
<rect x="637.3" y="107.3" width="5.7" height="98.8" fill="url(#cbc)" stroke="#333" stroke-width="0.8"/>
<line x1="643" y1="108.3" x2="648" y2="108.3" stroke="#000" stroke-width="1"/>
<text x="654.5" y="112.2" font-size="11">5</text>
<line x1="643" y1="124.4" x2="648" y2="124.4" stroke="#000" stroke-width="1"/>
<text x="654.5" y="128.3" font-size="11">4</text>
<line x1="643" y1="140.6" x2="648" y2="140.6" stroke="#000" stroke-width="1"/>
<text x="654.5" y="144.5" font-size="11">3</text>
<line x1="643" y1="156.7" x2="648" y2="156.7" stroke="#000" stroke-width="1"/>
<text x="654.5" y="160.6" font-size="11">2</text>
<line x1="643" y1="172.8" x2="648" y2="172.8" stroke="#000" stroke-width="1"/>
<text x="654.5" y="176.7" font-size="11">1</text>
<line x1="643" y1="188.9" x2="648" y2="188.9" stroke="#000" stroke-width="1"/>
<text x="654.5" y="192.8" font-size="11">0</text>
<line x1="643" y1="205.1" x2="648" y2="205.1" stroke="#000" stroke-width="1"/>
<text x="650.8" y="209" font-size="11">-1</text>
<text x="673.4" y="157.8" font-size="11" text-anchor="middle" transform="rotate(90 673.4 157.8)" xml:space="preserve">T/T (x10<tspan font-size="8" dy="-5"> -3</tspan><tspan dy="5"> )</tspan></text>
<rect x="638.3" y="303.9" width="6.7" height="74.2" fill="url(#cbd)" stroke="#222" stroke-width="0.8"/>
<text x="649.5" y="304.5" font-size="11">0</text>
<text x="641.2" y="386.6" font-size="11">&lt; 0</text>
<defs><clipPath id="cc0"><rect x="267.0" y="4.0" width="117.0" height="202.6"/></clipPath><clipPath id="cc1"><rect x="390.0" y="4.0" width="117.0" height="202.6"/></clipPath><clipPath id="cc2"><rect x="513.5" y="4.0" width="117.0" height="202.6"/></clipPath></defs>
<path d="M283.1,4 283.8,4.3 281.1,4.6 285.7,4.9 291,5.2 286.2,5.5 282.7,5.8 277.8,6.1 284.3,6.4 282.4,6.7 280.9,7 289.4,7.3 284.3,7.6 287,7.9 279.8,8.2 297.7,8.5 292.5,8.8 283.4,9.1 284.2,9.4 283.4,9.7 286,10 287.7,10.3 282.1,10.6 280.6,10.9 303.9,11.2 288.5,11.5 290.1,11.8 294.7,12.1 292.3,12.4 293.6,12.7 289.4,13 289.6,13.3 278.1,13.6 277.7,13.9 285.7,14.2 287.6,14.5 289.2,14.8 283.5,15.1 288.2,15.4 282.9,15.7 285.9,16 287.6,16.3 295,16.6 297.9,16.9 290.3,17.2 285.5,17.5 286.5,17.8 284.9,18.1 294.2,18.4 293.7,18.7 286.5,19 273,19.3 289.9,19.6 281.7,19.9 285.2,20.2 283.5,20.5 298.2,20.8 284,21.1 283.5,21.4 291.2,21.7 292.7,22 283.7,22.3 284.8,22.6 287,22.9 287.5,23.2 291.3,23.5 285.4,23.8 290.6,24.1 285,24.4 287.6,24.7 295,25 286.9,25.3 279.6,25.6 279.8,25.9 285.1,26.2 288.1,26.5 291.6,26.8 297.3,27.1 289,27.4 286,27.7 289.9,28 289.8,28.3 294.8,28.6 291.2,28.9 293,29.2 297.7,29.5 286,29.8 292.1,30.1 295.4,30.7 287.9,31.2 288.9,31.8 303.5,32.3 290.8,32.9 290.5,33.4 299.3,34 287.6,34.5 296.8,35.1 295.1,35.6 291.8,36.2 294.2,36.7 296.9,37.3 301.7,37.8 294.1,38.4 294.5,38.9 293.9,39.5 293.3,40 294.3,40.6 294.4,41.1 297.3,41.6 301.1,42.2 293.6,42.7 302.2,43.3 300.4,43.8 302.1,44.4 301,44.9 309.6,45.5 302,46 311.3,46.6 304.8,47.1 292.2,47.7 297.8,48.2 305,48.8 302.5,49.3 296.7,49.9 302.1,50.4 299.7,51 306.3,51.5 302.9,52.1 306.7,52.6 296.6,53.2 299.1,53.7 298.8,54.3 297,54.8 304.9,55.4 305.1,55.9 303.1,56.5 306.1,57 302.6,57.6 300.8,58.1 312.2,58.7 295.6,59.2 303,59.8 309.8,60.3 302.6,60.9 308.8,61.4 302,62 308.6,62.5 311.7,63.1 311.3,63.6 309.3,64.2 304.8,64.7 301.8,65.3 300.8,65.8 306.9,66.4 306.2,66.9 304.9,67.5 303.3,68 298.4,68.6 312.6,69.1 305.1,69.7 307.7,70.2 303.7,71.2 332.3,72.2 306.1,73.2 320.4,74.2 310,75.2 327.3,76.2 302.5,77.2 314.8,78.2 320.6,79.2 315,80.2 314.1,81.2 321.4,82.2 316.3,83.2 315.3,84.2 316.4,85.2 317.6,86.2 315.8,87.2 314.2,88.2 325.7,89.2 326,90.2 318.1,91.2 320.6,92.2 323.2,93.2 323.2,94.2 324,95.2 328.5,96.2 319.1,97.2 321.6,98.2 322,99.2 326.1,100.2 317.2,101.2 322.4,102.2 326.4,103.2 329.8,104.2 322.4,105.2 322.3,106.2 343.4,107.2 329.8,108.2 327.6,109.2 332.7,110.2 333.7,111.2 331.1,112.2 334.1,113.2 339.2,114.2 328,115.2 325.3,116.2 330.9,117.2 333,118.2 337.3,119.2 329.1,120.2 336.6,121.8 327,123.4 331.4,125 337.2,126.6 329.6,128.2 346.4,129.8 342.5,131.4 330.1,133 336,134.6 349.2,136.2 336.3,137.8 337.7,139.4 344,141 356.1,142.6 338.2,144.2 342.2,145.8 344.8,147.4 345,149 341.2,150.6 347.8,152.2 342.8,153.8 343.4,155.4 349.8,157 350.8,158.6 349.1,160.2 351.3,161.8 352.2,163.4 348.7,165 351.5,166.6 351.2,168.2 347.4,169.8 348.1,171.4 345.9,173 348.6,174.6 342.2,176.2 338.9,177.8 337.4,179.4 332,181 327,182.6 322.7,184.2 319.2,185.8 314.8,187.4 310.9,189 306.8,190.6 303,192.2 299.1,193.8 294.7,195.4 288.7,197 281.4,198.6 274.5,200.2 273,201.8 273,203.4 273,205" fill="none" stroke="#f00" stroke-width="1.7" stroke-linejoin="round" clip-path="url(#cc0)"/>
<path d="M275.8,4 274.7,4.3 277.2,4.6 273.8,4.9 273.8,5.2 276.1,5.5 274.3,5.8 274.9,6.1 275.1,6.4 272.8,6.7 274.6,7 273.9,7.3 276.5,7.6 276.2,7.9 276.7,8.2 274.1,8.5 275.6,8.8 275.3,9.1 277.7,9.4 277,9.7 277.3,10 276.7,10.3 276.3,10.6 276.2,10.9 275.7,11.2 275,11.5 275.2,11.8 274.8,12.1 276.8,12.4 274.4,12.7 276,13 274.9,13.3 274.9,13.6 274.3,13.9 278.2,14.2 276.2,14.5 275.4,14.8 275.1,15.1 276.2,15.4 274.4,15.7 276,16 277.5,16.3 276.6,16.6 276.5,16.9 276.7,17.2 276,17.5 277.7,17.8 276.9,18.1 276.3,18.4 275.7,18.7 275.6,19 276.6,19.3 278.4,19.6 276.6,19.9 279.3,20.2 279,20.5 278.8,20.8 276.2,21.1 275,21.4 277.5,21.7 277,22 278,22.3 275.5,22.6 274.7,22.9 276.7,23.2 276.9,23.5 277.1,23.8 278.1,24.1 275.3,24.4 278.9,24.7 277.1,25 277.2,25.3 277.6,25.6 278.2,25.9 278.6,26.2 275.8,26.5 276.6,26.8 279,27.1 277.2,27.4 276.2,27.7 275.9,28 277,28.3 277.7,28.6 276.7,28.9 277.7,29.2 277.9,29.5 278.1,29.8 276.4,30.1 278.6,30.7 279.2,31.2 279.2,31.8 277.7,32.3 279.4,32.9 277.9,33.4 278.6,34 277.1,34.5 278.2,35.1 277.6,35.6 279.4,36.2 278.7,36.7 276.1,37.3 280.6,37.8 278.6,38.4 277.8,38.9 278.2,39.5 282.6,40 276.9,40.6 278.9,41.1 279.3,41.6 278.2,42.2 277.8,42.7 276.1,43.3 278.7,43.8 278.8,44.4 281.8,44.9 278.5,45.5 279,46 278.5,46.6 279.8,47.1 279.9,47.7 275.9,48.2 279.5,48.8 277.7,49.3 278.3,49.9 279.1,50.4 279.9,51 279.6,51.5 279.5,52.1 279.4,52.6 281.1,53.2 280.7,53.7 279.2,54.3 281.7,54.8 278.7,55.4 280.7,55.9 279.6,56.5 279.5,57 281,57.6 279.9,58.1 281,58.7 279.4,59.2 281.2,59.8 280.4,60.3 278.9,60.9 280.5,61.4 279.7,62 279,62.5 281.1,63.1 281,63.6 281,64.2 280.2,64.7 280.7,65.3 280.3,65.8 279,66.4 283.3,66.9 279.8,67.5 282.2,68 282.4,68.6 280.4,69.1 281.1,69.7 283.3,70.2 281.1,71.2 282.3,72.2 282.5,73.2 281.8,74.2 282.3,75.2 281.3,76.2 282.6,77.2 284,78.2 280.5,79.2 282.8,80.2 281.8,81.2 284.7,82.2 283.9,83.2 283.8,84.2 285.4,85.2 286.4,86.2 287.6,87.2 284.9,88.2 282.5,89.2 287.2,90.2 286.9,91.2 287.1,92.2 286.9,93.2 287,94.2 287.2,95.2 286.2,96.2 288.7,97.2 286.7,98.2 286.2,99.2 285.8,100.2 286.8,101.2 286.9,102.2 287.3,103.2 287.3,104.2 289.6,105.2 288.9,106.2 289.3,107.2 288.5,108.2 288.7,109.2 289.6,110.2 288.3,111.2 289.8,112.2 291.6,113.2 290.1,114.2 291.8,115.2 292.9,116.2 292.1,117.2 293,118.2 292.5,119.2 293.2,120.2 291.5,121.8 293.4,123.4 292.8,125 295.7,126.6 297.8,128.2 296.8,129.8 295.6,131.4 297.2,133 297.6,134.6 299.9,136.2 299.8,137.8 301.4,139.4 302.9,141 305.3,142.6 308.3,144.2 311.4,145.8 314.2,147.4 316.5,149 318.5,150.6 320.5,152.2 322.5,153.8 324.6,155.4 326.7,157 328.9,158.6 331.1,160.2 333.3,161.8 335.7,163.4 338.3,165 341,166.6 343.6,168.2 346,169.8 348.1,171.4 350.1,173 351.9,174.6 353.2,176.2 354.2,177.8 354.9,179.4 354.9,181 354.7,182.6 354.3,184.2 353.4,185.8 351,187.4 347.8,189 344.9,190.6 342,192.2 339,193.8 335.8,195.4 332.6,197 329.4,198.6 326,200.2 322.6,201.8 319,203.4 315.4,205" fill="none" stroke="#00f" stroke-width="1.4" stroke-linejoin="round" clip-path="url(#cc0)"/>
<path d="M423,4 412.8,4.3 407.8,4.6 417.7,4.9 405,5.2 419.9,5.5 408.8,5.8 411.6,6.1 406.6,6.4 414.8,6.7 399.7,7 403.4,7.3 403.3,7.6 411.5,7.9 407.5,8.2 407.4,8.5 426.4,8.8 406.9,9.1 406,9.4 420.8,9.7 405.4,10 448.2,10.3 423,10.6 408,10.9 420.6,11.2 404.4,11.5 384.5,11.8 405.7,12.1 406.4,12.4 422.2,12.7 417.2,13 427.2,13.3 412,13.6 410.2,13.9 411.4,14.2 413,14.5 403.5,14.8 403.4,15.1 408.8,15.4 402.4,15.7 406.9,16 419.9,16.3 408,16.6 410.7,16.9 416.6,17.2 410,17.5 410.8,17.8 405.5,18.1 409.2,18.4 406.7,18.7 411.6,19 408.9,19.3 414.3,19.6 401.8,19.9 408.1,20.2 419.7,20.5 412.9,20.8 403.8,21.1 423.3,21.4 409.4,21.7 429,22 412.9,22.3 406.5,22.6 426.9,22.9 410,23.2 410,23.5 406.6,23.8 419.9,24.1 403.3,24.4 407.3,24.7 405.5,25 407.8,25.3 409.4,25.6 418.6,25.9 406.5,26.2 407,26.5 418,26.8 409.1,27.1 403.6,27.4 407.4,27.7 403.1,28 409.8,28.3 423,28.6 419.1,28.9 408.9,29.2 409.8,29.5 414.8,29.8 429.8,30.1 415.2,30.7 409.9,31.2 414.2,31.8 421.2,32.3 410.7,32.9 415.6,33.4 411.7,34 400.2,34.5 411.9,35.1 417.6,35.6 409.1,36.2 419.3,36.7 411.4,37.3 411.5,37.8 416.4,38.4 408.7,38.9 408.9,39.5 410,40 424.9,40.6 409.2,41.1 417.2,41.6 413,42.2 418.4,42.7 409.1,43.3 416.4,43.8 411.8,44.4 407.6,44.9 412,45.5 415.5,46 406.1,46.6 413.4,47.1 423.8,47.7 413.1,48.2 412.5,48.8 411.7,49.3 413.8,49.9 414.9,50.4 408.6,51 425.2,51.5 411.2,52.1 427.9,52.6 411.4,53.2 424.1,53.7 413.2,54.3 421.2,54.8 411.2,55.4 412.6,55.9 411,56.5 413,57 409.8,57.6 420.5,58.1 426.8,58.7 417.8,59.2 420.9,59.8 411.1,60.3 425.3,60.9 425,61.4 426.5,62 420.1,62.5 415.8,63.1 428.8,63.6 417.1,64.2 425.8,64.7 408.3,65.3 424.6,65.8 434,66.4 414.8,66.9 431.7,67.5 407,68 424.8,68.6 430.1,69.1 417.9,69.7 422.5,70.2 434.9,71.2 415.6,72.2 422,73.2 425.6,74.2 422.5,75.2 423.9,76.2 419.4,77.2 432.6,78.2 442.8,79.2 422.9,80.2 424.9,81.2 428.6,82.2 436.6,83.2 425.6,84.2 419.8,85.2 416.7,86.2 441.6,87.2 415.5,88.2 423.5,89.2 420.9,90.2 420.5,91.2 425.3,92.2 423.6,93.2 420.9,94.2 424.2,95.2 420.4,96.2 430.4,97.2 424.8,98.2 423.8,99.2 420.1,100.2 422,101.2 433.1,102.2 420.1,103.2 428.7,104.2 433.3,105.2 419.9,106.2 432.8,107.2 445.5,108.2 418.8,109.2 427.9,110.2 432.6,111.2 428.2,112.2 446.8,113.2 450.3,114.2 452.5,115.2 433.4,116.2 433.3,117.2 435.2,118.2 435.8,119.2 433.2,120.2 436.7,121.8 441.4,123.4 433.8,125 443.2,126.6 429,128.2 436,129.8 435.5,131.4 438.7,133 433.5,134.6 443.1,136.2 433.2,137.8 451,139.4 444,141 439.9,142.6 446.8,144.2 445,145.8 437.6,147.4 407.6,149 445.6,150.6 433.9,152.2 431.3,153.8 450,155.4 451.8,157 438.3,158.6 443.2,160.2 441.1,161.8 447.3,163.4 449.9,165 451,166.6 451.1,168.2 461.9,169.8 456.1,171.4 459.9,173 449.7,174.6 450.9,176.2 448.8,177.8 442.6,179.4 439.4,181 436.5,182.6 429.3,184.2 425.5,185.8 421.7,187.4 420.6,189 420.1,190.6 418.6,192.2 417.8,193.8 416.7,195.4 415.1,197 413.3,198.6 411.5,200.2 409.9,201.8 408.7,203.4 407.7,205" fill="none" stroke="#f00" stroke-width="1.7" stroke-linejoin="round" clip-path="url(#cc1)"/>
<path d="M399.1,4 400.4,4.3 401.9,4.6 402.4,4.9 400.3,5.2 402.7,5.5 399.7,5.8 401.2,6.1 401.9,6.4 402.4,6.7 402,7 398.3,7.3 401.8,7.6 401.9,7.9 398.4,8.2 400.8,8.5 403.1,8.8 400,9.1 403.2,9.4 401.9,9.7 404.4,10 399.3,10.3 400.8,10.6 399.5,10.9 399.4,11.2 400.7,11.5 401.1,11.8 400.7,12.1 400.8,12.4 400.5,12.7 401.6,13 400,13.3 401.4,13.6 400.6,13.9 400.4,14.2 400.9,14.5 401.6,14.8 401.2,15.1 402.9,15.4 401.6,15.7 394,16 403.2,16.3 402.7,16.6 400.4,16.9 400,17.2 401.2,17.5 397.4,17.8 401.1,18.1 400.7,18.4 399.3,18.7 401.7,19 403.8,19.3 404.6,19.6 401.9,19.9 403.7,20.2 400.4,20.5 404,20.8 402,21.1 400.7,21.4 405.1,21.7 400.3,22 402.2,22.3 402.8,22.6 401.5,22.9 399.2,23.2 401.6,23.5 399.9,23.8 404.2,24.1 400.1,24.4 402.4,24.7 404.4,25 400.9,25.3 404.1,25.6 402.9,25.9 401.4,26.2 402.8,26.5 402.1,26.8 403.7,27.1 403.1,27.4 402.2,27.7 405.3,28 403,28.3 403.1,28.6 404.3,28.9 402.4,29.2 403.1,29.5 407.2,29.8 401.9,30.1 405.2,30.7 406.2,31.2 403,31.8 403.9,32.3 402,32.9 404.1,33.4 405.4,34 406.5,34.5 403.8,35.1 401.1,35.6 406.5,36.2 403.4,36.7 403.2,37.3 406,37.8 400.4,38.4 403.4,38.9 402.1,39.5 406.6,40 403.6,40.6 405.6,41.1 402.8,41.6 404,42.2 404.8,42.7 405.2,43.3 405.7,43.8 406.1,44.4 407.8,44.9 407.4,45.5 405.3,46 406.7,46.6 406.5,47.1 405,47.7 406.3,48.2 406.6,48.8 406.1,49.3 407.5,49.9 407.3,50.4 405.1,51 404.3,51.5 406.7,52.1 406.7,52.6 406.9,53.2 404.9,53.7 408.8,54.3 408.5,54.8 408.7,55.4 407.6,55.9 407,56.5 408.4,57 408.5,57.6 410.8,58.1 408.8,58.7 405.6,59.2 407.5,59.8 405.2,60.3 411.1,60.9 408.3,61.4 408.3,62 412.1,62.5 410.8,63.1 409.5,63.6 409.8,64.2 408.8,64.7 407.6,65.3 411.3,65.8 407.9,66.4 410.4,66.9 409.5,67.5 409.2,68 408.1,68.6 416.2,69.1 411.8,69.7 409,70.2 410.3,71.2 411.4,72.2 409.3,73.2 411.9,74.2 411.1,75.2 412.1,76.2 411.2,77.2 410.4,78.2 411,79.2 412.2,80.2 412.3,81.2 412.5,82.2 413.1,83.2 412.7,84.2 407.2,85.2 413.5,86.2 412.5,87.2 416,88.2 412.1,89.2 415.3,90.2 415.7,91.2 412.2,92.2 415,93.2 416,94.2 413.9,95.2 413.4,96.2 417.1,97.2 415.3,98.2 418.2,99.2 420.1,100.2 414.5,101.2 414.8,102.2 419.1,103.2 417.8,104.2 419.7,105.2 419,106.2 419.6,107.2 420,108.2 418,109.2 419.5,110.2 422.3,111.2 421,112.2 422.1,113.2 424.1,114.2 424,115.2 426.8,116.2 422.5,117.2 427.5,118.2 424.6,119.2 425.8,120.2 427.2,121.8 429.6,123.4 431.2,125 429.7,126.6 431.3,128.2 429.5,129.8 431.1,131.4 433.3,133 433.1,134.6 434.3,136.2 437.4,137.8 435.5,139.4 440.4,141 443.8,142.6 446.1,144.2 448.6,145.8 450.8,147.4 453,149 455.1,150.6 457.2,152.2 459.5,153.8 462,155.4 464.9,157 467.9,158.6 471.1,160.2 474.2,161.8 477.2,163.4 479.9,165 482.6,166.6 485.1,168.2 486.7,169.8 487.3,171.4 487.8,173 488,174.6 487.1,176.2 484.3,177.8 480.9,179.4 477.8,181 474.6,182.6 471.2,184.2 467.7,185.8 464.3,187.4 460.9,189 457.7,190.6 454.6,192.2 451.4,193.8 448.4,195.4 445.4,197 442.6,198.6 440,200.2 437.5,201.8 435.2,203.4 433,205" fill="none" stroke="#00f" stroke-width="1.4" stroke-linejoin="round" clip-path="url(#cc1)"/>
<path d="M545.5,4 527,4.3 543.5,4.6 549.8,4.9 566.1,5.2 553,5.5 546.1,5.8 540.8,6.1 541.4,6.4 529.2,6.7 556.7,7 529.6,7.3 554.1,7.6 540.6,7.9 512.4,8.2 529.9,8.5 576.3,8.8 545,9.1 537.3,9.4 541.1,9.7 517.9,10 537.9,10.3 535.4,10.6 546.5,10.9 528.7,11.2 539.4,11.5 555.4,11.8 529.8,12.1 552.5,12.4 530.7,12.7 550.5,13 528.9,13.3 553.8,13.6 536.6,13.9 546.2,14.2 549.1,14.5 540.8,14.8 549.3,15.1 557.6,15.4 522.7,15.7 525.8,16 527.6,16.3 551.1,16.6 533.1,16.9 540.1,17.2 547.3,17.5 549.6,17.8 553,18.1 535.2,18.4 532.4,18.7 560.7,19 562,19.3 557.4,19.6 536.8,19.9 537.4,20.2 536,20.5 556.5,20.8 558.5,21.1 546.9,21.4 554.4,21.7 554.7,22 531.9,22.3 522.6,22.6 541.3,22.9 540.7,23.2 557.5,23.5 562.8,23.8 524.4,24.1 532.1,24.4 556,24.7 538,25 527.7,25.3 551.9,25.6 543.1,25.9 539.1,26.2 533.9,26.5 535.5,26.8 547.5,27.1 547.5,27.4 528,27.7 515.4,28 540.3,28.3 532.6,28.6 536.8,28.9 531.9,29.2 551.5,29.5 555.2,29.8 536.4,30.1 537.8,30.7 528.5,31.2 549.6,31.8 539.9,32.3 564.7,32.9 562.9,33.4 559.6,34 539.9,34.5 549,35.1 546.3,35.6 551.8,36.2 553.8,36.7 537.1,37.3 530,37.8 574.2,38.4 548.5,38.9 539.2,39.5 542.6,40 543.2,40.6 562.8,41.1 552.4,41.6 546.5,42.2 540.4,42.7 540.5,43.3 539.7,43.8 534,44.4 532.5,44.9 539,45.5 540.5,46 553.3,46.6 580.9,47.1 532,47.7 566.8,48.2 567.1,48.8 540.1,49.3 528.4,49.9 561.1,50.4 542.8,51 547.3,51.5 541.3,52.1 556.1,52.6 552,53.2 524.6,53.7 541.3,54.3 551.5,54.8 541,55.4 541.2,55.9 558.5,56.5 539.3,57 552.3,57.6 562.5,58.1 551,58.7 551.3,59.2 538,59.8 538.9,60.3 556.7,60.9 537,61.4 548.7,62 544.8,62.5 539.1,63.1 554.7,63.6 534.4,64.2 568.6,64.7 534.3,65.3 529.1,65.8 552.2,66.4 551.8,66.9 542.7,67.5 552.3,68 544,68.6 532.2,69.1 538.1,69.7 557.1,70.2 535.8,71.2 552.1,72.2 564.1,73.2 543.5,74.2 551.9,75.2 564.1,76.2 545.6,77.2 523.6,78.2 542.5,79.2 546.1,80.2 549.5,81.2 543.7,82.2 544.2,83.2 549,84.2 544.8,85.2 535.9,86.2 556.2,87.2 537.9,88.2 534.8,89.2 558.8,90.2 546.6,91.2 534,92.2 529.8,93.2 545.2,94.2 563.1,95.2 543,96.2 561.8,97.2 586.6,98.2 548.2,99.2 543.7,100.2 553.4,101.2 549.9,102.2 547.4,103.2 550.8,104.2 547.9,105.2 544.2,106.2 559.3,107.2 547.1,108.2 546.5,109.2 546.7,110.2 558.7,111.2 541.6,112.2 547.4,113.2 561,114.2 548.3,115.2 540.4,116.2 546.2,117.2 556.2,118.2 561.8,119.2 548.8,120.2 546.8,121.8 554.8,123.4 552.3,125 551.6,126.6 561.2,128.2 550,129.8 550.8,131.4 552.5,133 564.4,134.6 549.3,136.2 554.7,137.8 549.7,139.4 548.8,141 547.5,142.6 546.3,144.2 558.7,145.8 560.5,147.4 565.4,149 559.2,150.6 551.7,152.2 551.8,153.8 548.8,155.4 544.1,157 539.5,158.6 538.4,160.2 537,161.8 531.6,163.4 536.1,165 533.1,166.6 535.5,168.2 541,169.8 544,171.4 544.4,173 541.8,174.6 525,176.2 527.5,177.8 523.6,179.4 527.1,181 536,182.6 535.9,184.2 537.7,185.8 528.4,187.4 523,189 519.3,190.6 516.3,192.2 514.8,193.8 515.2,195.4 514.3,197 513.5,198.6" fill="none" stroke="#f00" stroke-width="1.7" stroke-linejoin="round" clip-path="url(#cc2)"/>
<path d="M531.2,4 530,4.3 529.7,4.6 530,4.9 529.8,5.2 529.9,5.5 531.4,5.8 531.9,6.1 530.6,6.4 532.2,6.7 531.7,7 532,7.3 528,7.6 532.4,7.9 533.2,8.2 533.9,8.5 530.6,8.8 530.5,9.1 533,9.4 526.6,9.7 532,10 530.9,10.3 530.3,10.6 533.3,10.9 535.7,11.2 528.7,11.5 530.8,11.8 531.1,12.1 530,12.4 535.9,12.7 531.4,13 528.1,13.3 530.2,13.6 532.4,13.9 530.6,14.2 529.9,14.5 527.9,14.8 528.6,15.1 532.6,15.4 530.9,15.7 520.4,16 533.5,16.3 533.7,16.6 532.8,16.9 533.1,17.2 531.3,17.5 528.4,17.8 530.4,18.1 527.6,18.4 533.8,18.7 527.6,19 530.8,19.3 528.7,19.6 533.8,19.9 532.6,20.2 529,20.5 531.9,20.8 529.4,21.1 525.2,21.4 532.6,21.7 532.3,22 528.5,22.3 528.4,22.6 532.3,22.9 533.6,23.2 522.9,23.5 530.6,23.8 533.6,24.1 529.8,24.4 532.4,24.7 530.2,25 529.8,25.3 529.5,25.6 527.5,25.9 532.5,26.2 531.2,26.5 531.3,26.8 528.7,27.1 530.8,27.4 530.9,27.7 533.7,28 528.5,28.3 526.7,28.6 531.7,28.9 529.5,29.2 530.2,29.5 533.4,29.8 531.6,30.1 533.4,30.7 531.7,31.2 531.7,31.8 531.2,32.3 534.3,32.9 529.4,33.4 531,34 533.7,34.5 531.1,35.1 532.1,35.6 531.8,36.2 530.6,36.7 534,37.3 531,37.8 533.3,38.4 535.1,38.9 532.7,39.5 531.7,40 530.6,40.6 531.9,41.1 529.9,41.6 534,42.2 531.9,42.7 530.8,43.3 531.7,43.8 529.7,44.4 531.3,44.9 531.3,45.5 531.5,46 536.3,46.6 531.8,47.1 532.9,47.7 532.7,48.2 533.1,48.8 533.3,49.3 529.6,49.9 534.1,50.4 534,51 532.1,51.5 533.3,52.1 530.3,52.6 535.4,53.2 530.8,53.7 532.9,54.3 532.5,54.8 537,55.4 531.6,55.9 534.4,56.5 532.1,57 535.1,57.6 535.6,58.1 533.6,58.7 532.6,59.2 531.1,59.8 534.8,60.3 533.7,60.9 531.8,61.4 532.9,62 532.7,62.5 531.3,63.1 534.3,63.6 532.3,64.2 535.4,64.7 532,65.3 533.7,65.8 534.9,66.4 533.3,66.9 529.6,67.5 534,68 532,68.6 530.8,69.1 531.6,69.7 530.5,70.2 533.3,71.2 531.8,72.2 531.9,73.2 533.9,74.2 533.8,75.2 536.9,76.2 533.7,77.2 535.5,78.2 535.3,79.2 534.9,80.2 529.6,81.2 534.7,82.2 535.3,83.2 535.7,84.2 533.6,85.2 533.3,86.2 535.3,87.2 536.4,88.2 538.7,89.2 534.3,90.2 539.3,91.2 537.4,92.2 537.2,93.2 537.1,94.2 534.4,95.2 535.9,96.2 537.8,97.2 537.6,98.2 536.5,99.2 539.1,100.2 539,101.2 538.6,102.2 539.1,103.2 541.2,104.2 537.3,105.2 538.2,106.2 540.4,107.2 539.6,108.2 538.8,109.2 541.4,110.2 539.6,111.2 539.3,112.2 544,113.2 540.4,114.2 544,115.2 545,116.2 539.3,117.2 542.5,118.2 543.2,119.2 542.8,120.2 545.4,121.8 543.9,123.4 549.6,125 545.6,126.6 554.5,128.2 551.2,129.8 551.7,131.4 550.3,133 551.8,134.6 554.1,136.2 554.7,137.8 556.4,139.4 557,141 560.2,142.6 558.5,144.2 563,145.8 566.1,147.4 564.6,149 566.5,150.6 567.5,152.2 571,153.8 568.8,155.4 568.2,157 569.6,158.6 573.3,160.2 574,161.8 579.4,163.4 581.9,165 585.9,166.6 587.2,168.2 588.5,169.8 591,171.4 592.9,173 597.4,174.6 600.5,176.2 604.5,177.8 607,179.4 608.4,181 609.6,182.6 609.9,184.2 604.7,185.8 597.8,187.4 590.4,189 582.4,190.6 574.3,192.2 566.6,193.8 558.5,195.4 550.6,197 543.7,198.6 538.5,200.2 534.3,201.8 530.7,203.4 527.8,205" fill="none" stroke="#00f" stroke-width="1.4" stroke-linejoin="round" clip-path="url(#cc2)"/>
<line x1="267" y1="287" x2="384" y2="287" stroke="#a8a8a8" stroke-width="1.4" stroke-dasharray="6 6"/>
<path d="M267.3,288.4 268.3,287.4 269.3,287.6 270.3,287.6 271.3,286.4 272.3,286.8 273.3,285.3 274.3,286.5 275.3,284.8 276.3,283.7 277.3,285.4 278.3,283.2 279.3,283 280.3,282.4 281.3,283 282.3,282.5 283.3,281.2 284.3,279.4 285.3,280 286.3,279.7 287.3,279.2 288.3,278.5 289.3,277.5 290.3,277.7 291.3,277.3 292.3,275.3 293.3,275.5 294.3,275.4 295.3,275.1 296.3,274.2 297.3,272.9 298.3,274 299.3,271 300.3,272.3 301.3,271.8 302.3,270.5 303.3,269 304.3,269.8 305.3,270.1 306.3,267.4 307.3,268 308.3,267.2 309.3,266.7 310.3,266 311.3,267.1 312.3,266 313.3,267.9 314.3,263.8 315.3,266.4 316.3,266.2 317.3,264.6 318.3,267.2 319.3,263.3 320.3,266.3 321.3,264.7 322.3,266.6 323.3,264.3 324.3,264.1 325.3,265.6 326.3,263.5 327.3,264.8 328.3,264 329.3,265.2 330.3,265.5 331.3,261.7 332.3,264.2 333.3,264.3 334.3,262.9 335.3,265.3 336.3,262.7 337.3,263.9 338.3,261.5 339.3,263.1 340.3,260.1 341.3,261.1 342.3,259.1 343.3,258.8 344.3,259.8 345.3,256.8 346.3,258.9 347.3,257.7 348.3,258.6 349.3,261.2 350.3,258.6 351.3,262.1 352.3,262.2 353.3,264.2 354.3,267.7 355.3,268.2 356.3,271.3 357.3,274.2 358.3,278.4 359.3,277.8 360.3,282.6 361.3,282.6 362.3,285.7 363.3,286.5 364.3,288.5 365.3,290.8 366.3,290.2 367.3,294.1 368.3,294.3 369.3,294.5 370.3,297 371.3,296.7 372.3,297.6 373.3,298.4 374.3,300.9 375.3,299.6 376.3,299.5 377.3,301.7 378.3,302.3 379.3,300.1 380.3,302 381.3,301.2 382.3,301.1 383.3,300.4" fill="none" stroke="#a0a0a0" stroke-width="1.1" stroke-linejoin="round"/>
<line x1="390" y1="287" x2="507" y2="287" stroke="#a8a8a8" stroke-width="1.4" stroke-dasharray="6 6"/>
<path d="M389.5,291.2 390.5,288.3 391.5,290.9 392.5,286.8 393.5,290.1 394.5,288.8 395.5,288.6 396.5,287 397.5,287.8 398.5,288.6 399.5,287.2 400.5,287.6 401.5,285.4 402.5,286.4 403.5,285.4 404.5,285.6 405.5,285.2 406.5,285.4 407.5,284.8 408.5,284.2 409.5,286.1 410.5,281.1 411.5,284.9 412.5,281.4 413.5,283.3 414.5,281.6 415.5,281.5 416.5,279.5 417.5,282.7 418.5,279.6 419.5,280.9 420.5,280.7 421.5,279.7 422.5,277 423.5,279.5 424.5,276.4 425.5,277.3 426.5,277.7 427.5,276.4 428.5,275.3 429.5,276.2 430.5,275.8 431.5,274.1 432.5,274.8 433.5,271.2 434.5,275.9 435.5,272.7 436.5,271.8 437.5,273.3 438.5,270.7 439.5,271.5 440.5,270.5 441.5,270.8 442.5,270.8 443.5,271.3 444.5,268.3 445.5,268 446.5,269.6 447.5,267.7 448.5,270.8 449.5,266.9 450.5,267.5 451.5,266.6 452.5,267 453.5,266.8 454.5,266 455.5,266.8 456.5,265.1 457.5,266.3 458.5,262.8 459.5,265.3 460.5,262.9 461.5,264.7 462.5,261.2 463.5,262.8 464.5,260.8 465.5,260.3 466.5,259.1 467.5,259.3 468.5,259.9 469.5,255.8 470.5,259.8 471.5,255.2 472.5,258 473.5,256.4 474.5,257.5 475.5,256.1 476.5,257.9 477.5,259.5 478.5,258.9 479.5,260.6 480.5,259.1 481.5,263.9 482.5,263.2 483.5,263.8 484.5,265.5 485.5,268 486.5,266 487.5,271.2 488.5,269.2 489.5,269.4 490.5,271.4 491.5,275.4 492.5,272 493.5,277.1 494.5,275.1 495.5,276.5 496.5,278.7 497.5,275.8 498.5,280.4 499.5,279.1 500.5,280.3 501.5,281 502.5,282.1 503.5,281 504.5,283.1 505.5,282.8 506.5,282.6" fill="none" stroke="#a0a0a0" stroke-width="1.1" stroke-linejoin="round"/>
<line x1="513.5" y1="287" x2="630.5" y2="287" stroke="#a8a8a8" stroke-width="1.4" stroke-dasharray="6 6"/>
<path d="M513,276.7 514,273.6 515,288 516,265.5 517,285.2 518,269.6 519,281 520,282.7 521,271.8 522,281.2 523,273.8 524,272.8 525,275.1 526,280.2 527,269.5 528,280.2 529,266.2 530,272.7 531,270.8 532,282.6 533,267.3 534,272.7 535,271.5 536,276.5 537,270.4 538,268.2 539,268.4 540,272.3 541,275 542,278.4 543,262.6 544,273.8 545,273.3 546,265.3 547,279.6 548,270.6 549,271.8 550,271.6 551,273.5 552,270.3 553,273.4 554,267.6 555,267.9 556,277.8 557,261.9 558,277.7 559,265 560,276.2 561,263.9 562,273 563,268.2 564,273.4 565,273.1 566,265.9 567,275.6 568,266.5 569,272.8 570,271.1 571,266 572,271.2 573,274.7 574,260 575,264.7 576,271.7 577,268.2 578,267.3 579,266.6 580,264.3 581,272.5 582,265.9 583,269.4 584,269.2 585,261.4 586,267.2 587,264.5 588,264.9 589,262.2 590,264.4 591,263.9 592,255.8 593,261.5 594,264 595,257.5 596,259.7 597,257.3 598,255.2 599,254.9 600,256 601,256.8 602,254.8 603,256.2 604,254.1 605,262 606,260 607,259.4 608,261.9 609,264.2 610,262.8 611,265.3 612,270.8 613,269.7 614,271.9 615,272.2 616,274.3 617,273.6 618,280.7 619,278.3 620,282.2 621,280.1 622,284 623,279 624,285.9 625,283.6 626,281.6 627,283 628,284.7 629,281.1 630,284.8" fill="none" stroke="#a0a0a0" stroke-width="1.1" stroke-linejoin="round"/>
<text x="383.2" y="25.5" font-size="11" text-anchor="end">Pump: 532 nm</text>
<text x="420" y="12.2" font-size="11" letter-spacing="-0.4">MB/WO<tspan font-size="8" dy="2.5">3-<tspan font-style="italic">x</tspan></tspan><tspan dy="-2.5">/WSe</tspan><tspan font-size="8" dy="2.5">2</tspan></text>
<text x="505.6" y="26.2" font-size="11" text-anchor="end">633 nm</text>
<text x="629.8" y="27.6" font-size="11" text-anchor="end">750 nm</text>
<line x1="630.5" y1="13.4" x2="643.7" y2="13.4" stroke="#f00" stroke-width="1.2"/>
<text x="648.4" y="16.7" font-size="11" fill="#f00">690 nm</text>
<text x="648.4" y="29.8" font-size="11" fill="#f00">x 3</text>
<line x1="630.5" y1="51.1" x2="643.7" y2="51.1" stroke="#00f" stroke-width="1.2"/>
<text x="648.4" y="54.8" font-size="11" fill="#00f">750 nm</text>
<text x="605.6" y="140" font-size="12">1 ps</text>
<line x1="540.5" y1="150" x2="608.8" y2="150" stroke="#000" stroke-width="2" stroke-dasharray="5 3"/>
<line x1="551" y1="184" x2="630" y2="184" stroke="#000" stroke-width="2" stroke-dasharray="5 3"/>
<line x1="618" y1="156" x2="618" y2="178" stroke="#000" stroke-width="1.6"/>
<path d="M614.5,158 L621.5,158 L618,149.5 Z M614.5,176 L621.5,176 L618,184.5 Z" fill="#000"/>
</svg></div></body></html>
